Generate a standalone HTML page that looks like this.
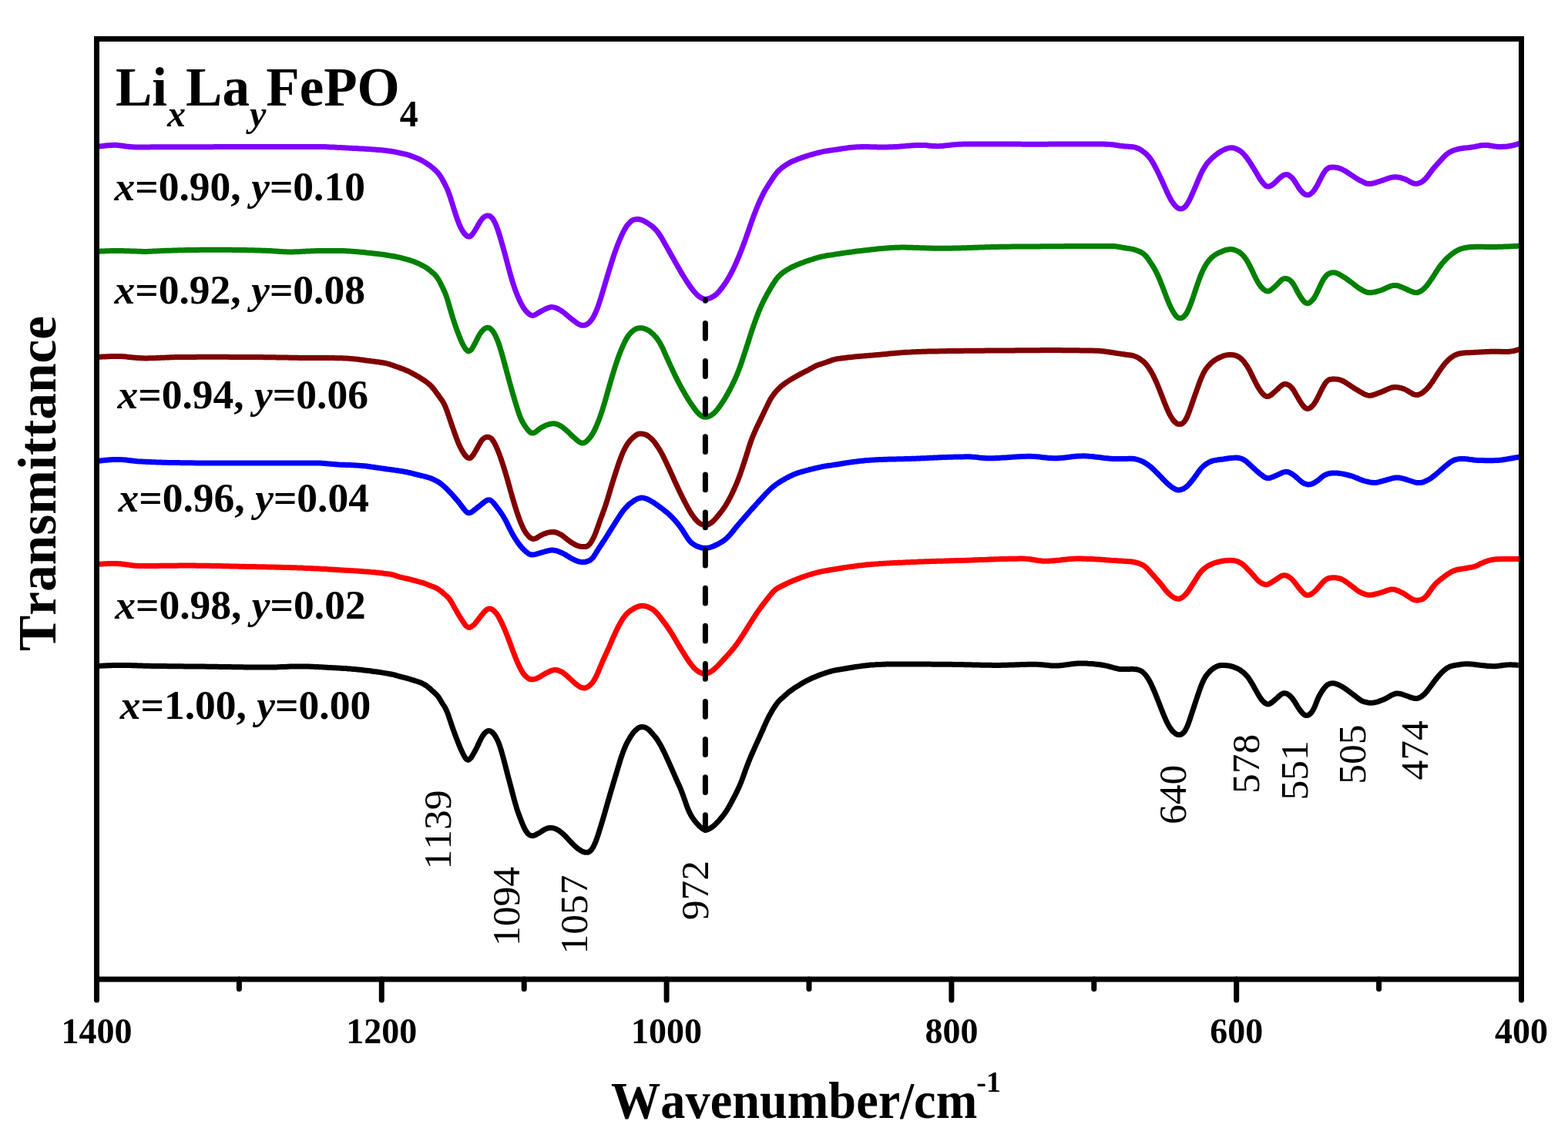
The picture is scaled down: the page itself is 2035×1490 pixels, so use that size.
<!DOCTYPE html><html><head><meta charset="utf-8"><style>html,body{margin:0;padding:0;background:#fff;}svg{display:block;}text{font-family:"Liberation Serif","Times New Roman",serif;font-kerning:none;}</style></head><body>
<svg xmlns="http://www.w3.org/2000/svg" width="2035" height="1490" viewBox="0 0 2035 1490">
<rect width="2035" height="1490" fill="#fff"/>
<path d="M124.8 190.3C125.8 190.2 126.8 190.2 127.8 190.1C128.8 190.0 129.8 189.9 130.8 189.8C131.8 189.7 132.8 189.5 133.8 189.4C134.8 189.3 135.8 189.2 136.8 189.1C137.8 189.0 138.8 188.9 139.8 188.8C140.8 188.7 141.8 188.6 142.8 188.6C143.8 188.5 144.8 188.4 145.8 188.4C146.8 188.4 147.8 188.3 148.8 188.3C149.8 188.3 150.8 188.4 151.8 188.4C152.8 188.5 153.8 188.6 154.8 188.7C155.8 188.8 156.8 188.9 157.8 189.1C158.8 189.2 159.8 189.4 160.8 189.5C161.8 189.7 162.8 189.8 163.8 189.9C164.8 190.1 165.8 190.2 166.8 190.3C167.8 190.5 168.8 190.6 169.8 190.6C170.8 190.7 171.8 190.8 172.8 190.8C173.8 190.9 174.8 190.9 175.8 190.9C176.8 191.0 177.8 191.0 178.8 191.0C179.8 191.0 180.8 191.0 181.8 191.0C182.8 191.0 183.8 191.0 184.8 191.0C185.8 191.0 186.8 191.0 187.8 191.0C188.8 191.0 189.8 190.9 190.8 190.9C191.8 190.9 192.8 190.9 193.8 190.9C194.8 190.9 195.8 190.9 196.8 190.8C197.8 190.8 198.8 190.8 199.8 190.8C200.8 190.8 201.8 190.8 202.8 190.8C203.8 190.8 204.8 190.8 205.8 190.8C206.8 190.8 207.8 190.8 208.8 190.8C209.8 190.8 210.8 190.8 211.8 190.8C212.8 190.8 213.8 190.8 214.8 190.8C215.8 190.8 216.8 190.8 217.8 190.8C218.8 190.8 219.8 190.8 220.8 190.8C221.8 190.8 222.8 190.8 223.8 190.8C224.8 190.8 225.8 190.8 226.8 190.8C227.8 190.8 228.8 190.8 229.8 190.8C230.8 190.7 231.8 190.7 232.8 190.7C233.8 190.7 234.8 190.7 235.8 190.7C236.8 190.7 237.8 190.7 238.8 190.7C239.8 190.7 240.8 190.7 241.8 190.7C242.8 190.7 243.8 190.7 244.8 190.7C245.8 190.7 246.8 190.7 247.8 190.7C248.8 190.7 249.8 190.7 250.8 190.7C251.8 190.7 252.8 190.7 253.8 190.7C254.8 190.7 255.8 190.7 256.8 190.7C257.8 190.7 258.8 190.7 259.8 190.7C260.8 190.7 261.8 190.7 262.8 190.7C263.8 190.7 264.8 190.7 265.8 190.7C266.8 190.7 267.8 190.7 268.8 190.7C269.8 190.7 270.8 190.7 271.8 190.7C272.8 190.7 273.8 190.7 274.8 190.7C275.8 190.7 276.8 190.6 277.8 190.6C278.8 190.6 279.8 190.6 280.8 190.6C281.8 190.6 282.8 190.6 283.8 190.6C284.8 190.6 285.8 190.6 286.8 190.6C287.8 190.6 288.8 190.6 289.8 190.6C290.8 190.6 291.8 190.6 292.8 190.6C293.8 190.6 294.8 190.6 295.8 190.6C296.8 190.6 297.8 190.6 298.8 190.6C299.8 190.6 300.8 190.6 301.8 190.6C302.8 190.6 303.8 190.6 304.8 190.6C305.8 190.6 306.8 190.6 307.8 190.6C308.8 190.6 309.8 190.6 310.8 190.6C311.8 190.6 312.8 190.6 313.8 190.6C314.8 190.6 315.8 190.6 316.8 190.6C317.8 190.6 318.8 190.6 319.8 190.6C320.8 190.6 321.8 190.6 322.8 190.5C323.8 190.5 324.8 190.5 325.8 190.5C326.8 190.5 327.8 190.5 328.8 190.5C329.8 190.5 330.8 190.5 331.8 190.5C332.8 190.5 333.8 190.5 334.8 190.5C335.8 190.5 336.8 190.5 337.8 190.5C338.8 190.5 339.8 190.5 340.8 190.5C341.8 190.5 342.8 190.5 343.8 190.5C344.8 190.5 345.8 190.5 346.8 190.5C347.8 190.5 348.8 190.5 349.8 190.5C350.8 190.5 351.8 190.5 352.8 190.5C353.8 190.5 354.8 190.5 355.8 190.5C356.8 190.5 357.8 190.5 358.8 190.5C359.8 190.5 360.8 190.5 361.8 190.5C362.8 190.5 363.8 190.5 364.8 190.5C365.8 190.4 366.8 190.4 367.8 190.4C368.8 190.4 369.8 190.4 370.8 190.4C371.8 190.4 372.8 190.4 373.8 190.4C374.8 190.4 375.8 190.4 376.8 190.4C377.8 190.4 378.8 190.4 379.8 190.4C380.8 190.4 381.8 190.4 382.8 190.4C383.8 190.4 384.8 190.4 385.8 190.4C386.8 190.4 387.8 190.4 388.8 190.4C389.8 190.4 390.8 190.4 391.8 190.4C392.8 190.4 393.8 190.4 394.8 190.4C395.8 190.4 396.8 190.4 397.8 190.4C398.8 190.4 399.8 190.4 400.8 190.4C401.8 190.4 402.8 190.4 403.8 190.4C404.8 190.4 405.8 190.4 406.8 190.4C407.8 190.4 408.8 190.4 409.8 190.4C410.8 190.4 411.8 190.4 412.8 190.4C413.8 190.4 414.8 190.5 415.8 190.5C416.8 190.5 417.8 190.5 418.8 190.5C419.8 190.6 420.8 190.6 421.8 190.6C422.8 190.7 423.8 190.7 424.8 190.7C425.8 190.8 426.8 190.8 427.8 190.9C428.8 190.9 429.8 191.0 430.8 191.0C431.8 191.0 432.8 191.1 433.8 191.1C434.8 191.2 435.8 191.2 436.8 191.3C437.8 191.4 438.8 191.4 439.8 191.5C440.8 191.5 441.8 191.6 442.8 191.6C443.8 191.7 444.8 191.7 445.8 191.8C446.8 191.8 447.8 191.9 448.8 191.9C449.8 192.0 450.8 192.0 451.8 192.1C452.8 192.1 453.8 192.2 454.8 192.2C455.8 192.3 456.8 192.3 457.8 192.4C458.8 192.4 459.8 192.5 460.8 192.5C461.8 192.6 462.8 192.6 463.8 192.7C464.8 192.8 465.8 192.8 466.8 192.9C467.8 192.9 468.8 193.0 469.8 193.0C470.8 193.1 471.8 193.1 472.8 193.2C473.8 193.3 474.8 193.3 475.8 193.4C476.8 193.5 477.8 193.5 478.8 193.6C479.8 193.6 480.8 193.7 481.8 193.8C482.8 193.9 483.8 193.9 484.8 194.0C485.8 194.1 486.8 194.1 487.8 194.2C488.8 194.3 489.8 194.4 490.8 194.4C491.8 194.5 492.8 194.6 493.8 194.7C494.8 194.8 495.8 194.9 496.8 195.0C497.8 195.1 498.8 195.2 499.8 195.3C500.8 195.4 501.8 195.6 502.8 195.7C503.8 195.8 504.8 195.9 505.8 196.1C506.8 196.2 507.8 196.3 508.8 196.5C509.8 196.6 510.8 196.8 511.8 197.0C512.8 197.2 513.8 197.4 514.8 197.6C515.8 197.8 516.8 198.1 517.8 198.3C518.8 198.6 519.8 198.8 520.8 199.0C521.8 199.2 522.8 199.4 523.8 199.6C524.8 199.8 525.8 200.0 526.8 200.2C527.8 200.5 528.8 200.8 529.8 201.1C530.8 201.4 531.8 201.7 532.8 202.1C533.8 202.4 534.8 202.8 535.8 203.2C536.8 203.6 537.8 204.0 538.8 204.4C539.8 204.8 540.8 205.2 541.8 205.6C542.8 206.1 543.8 206.5 544.8 207.0C545.8 207.5 546.8 208.0 547.8 208.6C548.8 209.1 549.8 209.7 550.8 210.3C551.8 210.9 552.8 211.5 553.8 212.2C554.8 212.8 555.8 213.5 556.8 214.2C557.8 214.9 558.8 215.7 559.8 216.5C560.8 217.2 561.8 218.0 562.8 218.9C563.8 219.7 564.8 220.6 565.8 221.6C566.8 222.7 567.8 223.7 568.8 225.0C569.8 226.2 570.8 227.6 571.8 229.1C572.8 230.7 573.8 232.5 574.8 234.3C575.8 236.1 576.8 238.0 577.8 240.0C578.8 242.0 579.8 243.8 580.8 246.2C581.8 248.7 582.8 251.5 583.8 254.4C584.8 257.3 585.8 260.7 586.8 263.8C587.8 267.0 588.8 270.3 589.8 273.4C590.8 276.5 591.8 279.6 592.8 282.5C593.8 285.4 594.8 288.2 595.8 290.6C596.8 293.1 597.8 295.2 598.8 297.1C599.8 299.0 600.8 300.5 601.8 301.9C602.8 303.3 603.8 304.5 604.8 305.4C605.8 306.3 606.8 307.1 607.8 307.1C608.8 307.1 609.8 307.0 610.8 306.4C611.8 305.7 612.8 304.4 613.8 303.1C614.8 301.8 615.8 300.1 616.8 298.5C617.8 296.9 618.8 295.2 619.8 293.4C620.8 291.7 621.8 289.8 622.8 288.2C623.8 286.6 624.8 285.1 625.8 284.0C626.8 282.8 627.8 281.9 628.8 281.3C629.8 280.6 630.8 279.9 631.8 279.9C632.8 279.9 633.8 279.8 634.8 280.1C635.8 280.5 636.8 281.1 637.8 282.0C638.8 283.0 639.8 284.2 640.8 285.9C641.8 287.6 642.8 289.8 643.8 292.2C644.8 294.7 645.8 297.6 646.8 300.5C647.8 303.5 648.8 306.8 649.8 310.2C650.8 313.6 651.8 317.1 652.8 320.7C653.8 324.3 654.8 328.0 655.8 331.6C656.8 335.3 657.8 339.1 658.8 342.9C659.8 346.6 660.8 350.4 661.8 354.0C662.8 357.6 663.8 361.1 664.8 364.4C665.8 367.7 666.8 370.8 667.8 373.7C668.8 376.6 669.8 379.3 670.8 381.8C671.8 384.3 672.8 386.6 673.8 388.8C674.8 391.0 675.8 393.1 676.8 394.9C677.8 396.8 678.8 398.5 679.8 400.0C680.8 401.4 681.8 402.7 682.8 403.8C683.8 405.0 684.8 406.0 685.8 406.8C686.8 407.7 687.8 408.4 688.8 408.8C689.8 409.3 690.8 409.4 691.8 409.4C692.8 409.4 693.8 408.9 694.8 408.4C695.8 407.9 696.8 407.2 697.8 406.6C698.8 406.0 699.8 405.3 700.8 404.8C701.8 404.2 702.8 403.7 703.8 403.2C704.8 402.6 705.8 402.1 706.8 401.6C707.8 401.1 708.8 400.6 709.8 400.2C710.8 399.8 711.8 399.4 712.8 399.1C713.8 398.9 714.8 398.6 715.8 398.6C716.8 398.6 717.8 398.7 718.8 398.9C719.8 399.1 720.8 399.4 721.8 399.8C722.8 400.2 723.8 400.7 724.8 401.2C725.8 401.8 726.8 402.3 727.8 403.0C728.8 403.6 729.8 404.3 730.8 405.0C731.8 405.7 732.8 406.5 733.8 407.4C734.8 408.2 735.8 409.0 736.8 409.9C737.8 410.7 738.8 411.5 739.8 412.4C740.8 413.2 741.8 414.0 742.8 414.8C743.8 415.6 744.8 416.4 745.8 417.1C746.8 417.9 747.8 418.6 748.8 419.3C749.8 420.0 750.8 420.7 751.8 421.1C752.8 421.6 753.8 422.0 754.8 422.2C755.8 422.3 756.8 422.2 757.8 422.2C758.8 422.2 759.8 421.9 760.8 421.4C761.8 420.9 762.8 420.3 763.8 419.5C764.8 418.6 765.8 417.5 766.8 416.3C767.8 415.0 768.8 413.6 769.8 411.9C770.8 410.2 771.8 408.2 772.8 406.0C773.8 403.8 774.8 401.3 775.8 398.6C776.8 395.9 777.8 392.9 778.8 389.8C779.8 386.8 780.8 383.4 781.8 380.1C782.8 376.8 783.8 373.4 784.8 370.0C785.8 366.6 786.8 363.2 787.8 359.9C788.8 356.5 789.8 353.2 790.8 349.9C791.8 346.7 792.8 343.4 793.8 340.3C794.8 337.1 795.8 334.0 796.8 331.1C797.8 328.1 798.8 325.3 799.8 322.6C800.8 319.9 801.8 317.3 802.8 314.8C803.8 312.4 804.8 309.9 805.8 307.7C806.8 305.4 807.8 303.2 808.8 301.2C809.8 299.2 810.8 297.4 811.8 295.8C812.8 294.2 813.8 292.8 814.8 291.6C815.8 290.3 816.8 289.2 817.8 288.3C818.8 287.3 819.8 286.6 820.8 286.0C821.8 285.4 822.8 285.1 823.8 284.9C824.8 284.6 825.8 284.6 826.8 284.6C827.8 284.6 828.8 284.6 829.8 284.7C830.8 284.9 831.8 285.1 832.8 285.5C833.8 285.8 834.8 286.3 835.8 286.8C836.8 287.3 837.8 288.0 838.8 288.6C839.8 289.2 840.8 289.8 841.8 290.5C842.8 291.2 843.8 291.9 844.8 292.6C845.8 293.4 846.8 294.2 847.8 295.1C848.8 295.9 849.8 296.9 850.8 297.9C851.8 299.0 852.8 300.1 853.8 301.5C854.8 302.8 855.8 304.2 856.8 305.8C857.8 307.3 858.8 309.1 859.8 310.8C860.8 312.5 861.8 314.3 862.8 316.1C863.8 317.9 864.8 319.6 865.8 321.4C866.8 323.2 867.8 324.9 868.8 326.7C869.8 328.4 870.8 330.2 871.8 332.0C872.8 333.8 873.8 335.5 874.8 337.3C875.8 339.1 876.8 340.8 877.8 342.6C878.8 344.3 879.8 346.1 880.8 347.8C881.8 349.6 882.8 351.3 883.8 353.1C884.8 354.8 885.8 356.5 886.8 358.1C887.8 359.8 888.8 361.4 889.8 362.9C890.8 364.5 891.8 366.0 892.8 367.5C893.8 369.0 894.8 370.5 895.8 371.9C896.8 373.3 897.8 374.6 898.8 375.9C899.8 377.2 900.8 378.4 901.8 379.5C902.8 380.6 903.8 381.7 904.8 382.6C905.8 383.5 906.8 384.4 907.8 385.1C908.8 385.8 909.8 386.5 910.8 387.0C911.8 387.5 912.8 387.9 913.8 388.1C914.8 388.3 915.8 388.2 916.8 388.2C917.8 388.2 918.8 387.8 919.8 387.5C920.8 387.2 921.8 386.8 922.8 386.3C923.8 385.9 924.8 385.4 925.8 384.8C926.8 384.2 927.8 383.6 928.8 382.7C929.8 381.9 930.8 380.9 931.8 379.8C932.8 378.8 933.8 377.5 934.8 376.3C935.8 375.1 936.8 373.8 937.8 372.5C938.8 371.1 939.8 369.7 940.8 368.2C941.8 366.8 942.8 365.2 943.8 363.6C944.8 362.0 945.8 360.3 946.8 358.5C947.8 356.7 948.8 354.8 949.8 352.9C950.8 350.9 951.8 348.8 952.8 346.7C953.8 344.6 954.8 342.4 955.8 340.1C956.8 337.9 957.8 335.6 958.8 333.2C959.8 330.8 960.8 328.3 961.8 325.7C962.8 323.2 963.8 320.5 964.8 317.8C965.8 315.1 966.8 312.3 967.8 309.6C968.8 306.8 969.8 303.9 970.8 301.1C971.8 298.2 972.8 295.3 973.8 292.4C974.8 289.6 975.8 286.7 976.8 284.0C977.8 281.3 978.8 278.6 979.8 276.0C980.8 273.5 981.8 270.9 982.8 268.5C983.8 266.1 984.8 263.7 985.8 261.4C986.8 259.2 987.8 257.0 988.8 254.9C989.8 252.9 990.8 251.0 991.8 249.1C992.8 247.3 993.8 245.6 994.8 244.0C995.8 242.3 996.8 240.8 997.8 239.2C998.8 237.6 999.8 236.1 1000.8 234.6C1001.8 233.0 1002.8 231.5 1003.8 230.0C1004.8 228.6 1005.8 227.1 1006.8 225.8C1007.8 224.5 1008.8 223.3 1009.8 222.3C1010.8 221.2 1011.8 220.4 1012.8 219.5C1013.8 218.6 1014.8 217.9 1015.8 217.1C1016.8 216.3 1017.8 215.6 1018.8 214.9C1019.8 214.2 1020.8 213.5 1021.8 212.9C1022.8 212.3 1023.8 211.8 1024.8 211.2C1025.8 210.7 1026.8 210.2 1027.8 209.7C1028.8 209.3 1029.8 208.8 1030.8 208.4C1031.8 208.0 1032.8 207.6 1033.8 207.2C1034.8 206.8 1035.8 206.4 1036.8 206.0C1037.8 205.6 1038.8 205.3 1039.8 204.9C1040.8 204.6 1041.8 204.2 1042.8 203.9C1043.8 203.5 1044.8 203.2 1045.8 202.9C1046.8 202.6 1047.8 202.2 1048.8 201.9C1049.8 201.6 1050.8 201.3 1051.8 201.0C1052.8 200.7 1053.8 200.4 1054.8 200.2C1055.8 199.9 1056.8 199.6 1057.8 199.3C1058.8 199.1 1059.8 198.8 1060.8 198.5C1061.8 198.3 1062.8 198.0 1063.8 197.8C1064.8 197.5 1065.8 197.3 1066.8 197.1C1067.8 196.8 1068.8 196.6 1069.8 196.4C1070.8 196.2 1071.8 196.1 1072.8 195.9C1073.8 195.8 1074.8 195.6 1075.8 195.5C1076.8 195.4 1077.8 195.2 1078.8 195.1C1079.8 194.9 1080.8 194.8 1081.8 194.6C1082.8 194.5 1083.8 194.3 1084.8 194.2C1085.8 194.0 1086.8 193.8 1087.8 193.7C1088.8 193.5 1089.8 193.4 1090.8 193.2C1091.8 193.1 1092.8 192.9 1093.8 192.8C1094.8 192.6 1095.8 192.5 1096.8 192.4C1097.8 192.2 1098.8 192.1 1099.8 192.0C1100.8 191.8 1101.8 191.7 1102.8 191.6C1103.8 191.5 1104.8 191.4 1105.8 191.3C1106.8 191.2 1107.8 191.1 1108.8 191.0C1109.8 191.0 1110.8 190.9 1111.8 190.8C1112.8 190.8 1113.8 190.7 1114.8 190.7C1115.8 190.7 1116.8 190.7 1117.8 190.6C1118.8 190.6 1119.8 190.6 1120.8 190.6C1121.8 190.6 1122.8 190.6 1123.8 190.6C1124.8 190.6 1125.8 190.6 1126.8 190.6C1127.8 190.7 1128.8 190.7 1129.8 190.7C1130.8 190.7 1131.8 190.7 1132.8 190.8C1133.8 190.8 1134.8 190.8 1135.8 190.8C1136.8 190.8 1137.8 190.9 1138.8 190.9C1139.8 190.9 1140.8 190.9 1141.8 190.9C1142.8 191.0 1143.8 191.0 1144.8 191.0C1145.8 191.0 1146.8 191.0 1147.8 191.0C1148.8 191.0 1149.8 190.9 1150.8 190.9C1151.8 190.9 1152.8 190.9 1153.8 190.8C1154.8 190.8 1155.8 190.8 1156.8 190.7C1157.8 190.7 1158.8 190.6 1159.8 190.6C1160.8 190.5 1161.8 190.4 1162.8 190.4C1163.8 190.3 1164.8 190.2 1165.8 190.2C1166.8 190.1 1167.8 190.0 1168.8 189.9C1169.8 189.9 1170.8 189.8 1171.8 189.7C1172.8 189.6 1173.8 189.5 1174.8 189.5C1175.8 189.4 1176.8 189.3 1177.8 189.2C1178.8 189.2 1179.8 189.1 1180.8 189.0C1181.8 189.0 1182.8 188.9 1183.8 188.8C1184.8 188.8 1185.8 188.7 1186.8 188.7C1187.8 188.6 1188.8 188.6 1189.8 188.5C1190.8 188.5 1191.8 188.5 1192.8 188.5C1193.8 188.4 1194.8 188.4 1195.8 188.4C1196.8 188.4 1197.8 188.4 1198.8 188.5C1199.8 188.5 1200.8 188.6 1201.8 188.6C1202.8 188.7 1203.8 188.8 1204.8 188.9C1205.8 189.0 1206.8 189.1 1207.8 189.2C1208.8 189.3 1209.8 189.4 1210.8 189.4C1211.8 189.5 1212.8 189.6 1213.8 189.6C1214.8 189.6 1215.8 189.7 1216.8 189.7C1217.8 189.7 1218.8 189.6 1219.8 189.6C1220.8 189.5 1221.8 189.5 1222.8 189.4C1223.8 189.3 1224.8 189.2 1225.8 189.1C1226.8 189.0 1227.8 188.9 1228.8 188.8C1229.8 188.7 1230.8 188.5 1231.8 188.4C1232.8 188.3 1233.8 188.2 1234.8 188.1C1235.8 188.0 1236.8 187.8 1237.8 187.7C1238.8 187.6 1239.8 187.5 1240.8 187.5C1241.8 187.4 1242.8 187.3 1243.8 187.3C1244.8 187.2 1245.8 187.2 1246.8 187.2C1247.8 187.2 1248.8 187.1 1249.8 187.1C1250.8 187.1 1251.8 187.1 1252.8 187.1C1253.8 187.1 1254.8 187.1 1255.8 187.0C1256.8 187.0 1257.8 187.0 1258.8 187.0C1259.8 187.0 1260.8 187.0 1261.8 187.0C1262.8 187.0 1263.8 187.0 1264.8 187.0C1265.8 187.0 1266.8 186.9 1267.8 186.9C1268.8 186.9 1269.8 186.9 1270.8 186.9C1271.8 186.9 1272.8 186.9 1273.8 186.9C1274.8 186.9 1275.8 186.9 1276.8 186.9C1277.8 186.9 1278.8 186.9 1279.8 186.9C1280.8 186.9 1281.8 186.9 1282.8 186.9C1283.8 186.9 1284.8 186.9 1285.8 186.9C1286.8 186.9 1287.8 186.9 1288.8 186.9C1289.8 186.9 1290.8 186.9 1291.8 186.9C1292.8 187.0 1293.8 187.0 1294.8 187.0C1295.8 187.0 1296.8 187.0 1297.8 187.0C1298.8 187.0 1299.8 187.0 1300.8 187.0C1301.8 187.0 1302.8 187.0 1303.8 187.0C1304.8 187.0 1305.8 187.0 1306.8 187.0C1307.8 187.0 1308.8 187.0 1309.8 187.0C1310.8 187.1 1311.8 187.1 1312.8 187.1C1313.8 187.1 1314.8 187.1 1315.8 187.1C1316.8 187.1 1317.8 187.1 1318.8 187.1C1319.8 187.1 1320.8 187.1 1321.8 187.1C1322.8 187.1 1323.8 187.1 1324.8 187.1C1325.8 187.1 1326.8 187.2 1327.8 187.2C1328.8 187.2 1329.8 187.2 1330.8 187.2C1331.8 187.2 1332.8 187.2 1333.8 187.2C1334.8 187.2 1335.8 187.2 1336.8 187.2C1337.8 187.2 1338.8 187.2 1339.8 187.2C1340.8 187.2 1341.8 187.2 1342.8 187.2C1343.8 187.2 1344.8 187.2 1345.8 187.2C1346.8 187.2 1347.8 187.2 1348.8 187.2C1349.8 187.2 1350.8 187.2 1351.8 187.2C1352.8 187.2 1353.8 187.2 1354.8 187.2C1355.8 187.2 1356.8 187.2 1357.8 187.2C1358.8 187.2 1359.8 187.1 1360.8 187.1C1361.8 187.1 1362.8 187.1 1363.8 187.1C1364.8 187.1 1365.8 187.1 1366.8 187.1C1367.8 187.1 1368.8 187.1 1369.8 187.1C1370.8 187.1 1371.8 187.1 1372.8 187.1C1373.8 187.0 1374.8 187.0 1375.8 187.0C1376.8 187.0 1377.8 187.0 1378.8 187.0C1379.8 187.0 1380.8 187.0 1381.8 187.0C1382.8 187.0 1383.8 187.0 1384.8 187.0C1385.8 187.0 1386.8 186.9 1387.8 186.9C1388.8 186.9 1389.8 186.9 1390.8 186.9C1391.8 186.9 1392.8 186.9 1393.8 186.9C1394.8 186.9 1395.8 186.9 1396.8 186.9C1397.8 186.9 1398.8 186.9 1399.8 186.9C1400.8 186.9 1401.8 186.9 1402.8 186.9C1403.8 186.9 1404.8 186.9 1405.8 186.9C1406.8 186.9 1407.8 186.9 1408.8 186.9C1409.8 186.9 1410.8 186.9 1411.8 186.9C1412.8 186.9 1413.8 186.9 1414.8 186.9C1415.8 186.9 1416.8 186.9 1417.8 186.9C1418.8 186.9 1419.8 186.9 1420.8 186.9C1421.8 186.9 1422.8 187.0 1423.8 187.0C1424.8 187.0 1425.8 187.0 1426.8 187.0C1427.8 187.0 1428.8 187.0 1429.8 187.0C1430.8 187.1 1431.8 187.1 1432.8 187.1C1433.8 187.1 1434.8 187.1 1435.8 187.2C1436.8 187.2 1437.8 187.2 1438.8 187.3C1439.8 187.3 1440.8 187.4 1441.8 187.5C1442.8 187.6 1443.8 187.7 1444.8 187.8C1445.8 188.0 1446.8 188.1 1447.8 188.2C1448.8 188.4 1449.8 188.5 1450.8 188.7C1451.8 188.9 1452.8 189.0 1453.8 189.2C1454.8 189.3 1455.8 189.5 1456.8 189.6C1457.8 189.7 1458.8 189.8 1459.8 189.9C1460.8 190.0 1461.8 190.1 1462.8 190.1C1463.8 190.2 1464.8 190.2 1465.8 190.3C1466.8 190.3 1467.8 190.3 1468.8 190.4C1469.8 190.5 1470.8 190.7 1471.8 190.9C1472.8 191.1 1473.8 191.4 1474.8 191.8C1475.8 192.1 1476.8 192.6 1477.8 193.0C1478.8 193.5 1479.8 194.1 1480.8 194.7C1481.8 195.4 1482.8 196.0 1483.8 196.8C1484.8 197.5 1485.8 198.3 1486.8 199.2C1487.8 200.1 1488.8 201.1 1489.8 202.2C1490.8 203.3 1491.8 204.5 1492.8 205.8C1493.8 207.2 1494.8 208.7 1495.8 210.4C1496.8 212.0 1497.8 213.8 1498.8 215.7C1499.8 217.5 1500.8 219.5 1501.8 221.5C1502.8 223.5 1503.8 225.6 1504.8 227.7C1505.8 229.8 1506.8 232.0 1507.8 234.1C1508.8 236.3 1509.8 238.6 1510.8 240.8C1511.8 243.0 1512.8 245.3 1513.8 247.5C1514.8 249.7 1515.8 251.9 1516.8 253.9C1517.8 255.9 1518.8 257.7 1519.8 259.4C1520.8 261.1 1521.8 262.7 1522.8 264.0C1523.8 265.4 1524.8 266.6 1525.8 267.6C1526.8 268.6 1527.8 269.5 1528.8 270.1C1529.8 270.7 1530.8 271.1 1531.8 271.1C1532.8 271.1 1533.8 271.0 1534.8 270.6C1535.8 270.2 1536.8 269.5 1537.8 268.6C1538.8 267.6 1539.8 266.3 1540.8 264.8C1541.8 263.3 1542.8 261.3 1543.8 259.4C1544.8 257.4 1545.8 255.2 1546.8 253.0C1547.8 250.8 1548.8 248.5 1549.8 246.2C1550.8 243.8 1551.8 241.4 1552.8 239.0C1553.8 236.7 1554.8 234.3 1555.8 232.0C1556.8 229.7 1557.8 227.4 1558.8 225.3C1559.8 223.2 1560.8 221.2 1561.8 219.4C1562.8 217.7 1563.8 216.1 1564.8 214.7C1565.8 213.2 1566.8 212.0 1567.8 210.7C1568.8 209.5 1569.8 208.4 1570.8 207.4C1571.8 206.4 1572.8 205.4 1573.8 204.5C1574.8 203.5 1575.8 202.7 1576.8 201.9C1577.8 201.1 1578.8 200.3 1579.8 199.6C1580.8 198.9 1581.8 198.2 1582.8 197.6C1583.8 196.9 1584.8 196.4 1585.8 195.8C1586.8 195.3 1587.8 194.7 1588.8 194.3C1589.8 193.8 1590.8 193.4 1591.8 193.0C1592.8 192.6 1593.8 192.3 1594.8 192.1C1595.8 191.9 1596.8 191.8 1597.8 191.8C1598.8 191.8 1599.8 191.9 1600.8 192.0C1601.8 192.2 1602.8 192.5 1603.8 192.9C1604.8 193.3 1605.8 193.8 1606.8 194.3C1607.8 194.8 1608.8 195.4 1609.8 196.2C1610.8 196.9 1611.8 197.7 1612.8 198.6C1613.8 199.6 1614.8 200.7 1615.8 201.9C1616.8 203.1 1617.8 204.4 1618.8 205.8C1619.8 207.1 1620.8 208.6 1621.8 210.1C1622.8 211.6 1623.8 213.2 1624.8 214.8C1625.8 216.4 1626.8 218.0 1627.8 219.7C1628.8 221.4 1629.8 223.1 1630.8 224.8C1631.8 226.5 1632.8 228.2 1633.8 229.8C1634.8 231.4 1635.8 233.0 1636.8 234.4C1637.8 235.8 1638.8 237.1 1639.8 238.3C1640.8 239.4 1641.8 240.5 1642.8 241.1C1643.8 241.8 1644.8 242.1 1645.8 242.1C1646.8 242.1 1647.8 241.8 1648.8 241.3C1649.8 240.9 1650.8 240.1 1651.8 239.4C1652.8 238.7 1653.8 237.8 1654.8 236.9C1655.8 236.0 1656.8 235.0 1657.8 234.0C1658.8 233.0 1659.8 231.9 1660.8 231.1C1661.8 230.2 1662.8 229.3 1663.8 228.7C1664.8 228.0 1665.8 227.4 1666.8 227.0C1667.8 226.7 1668.8 226.6 1669.8 226.6C1670.8 226.6 1671.8 227.0 1672.8 227.5C1673.8 228.1 1674.8 228.9 1675.8 229.8C1676.8 230.8 1677.8 231.9 1678.8 233.2C1679.8 234.5 1680.8 236.1 1681.8 237.6C1682.8 239.1 1683.8 240.9 1684.8 242.5C1685.8 244.0 1686.8 245.5 1687.8 246.7C1688.8 248.0 1689.8 249.1 1690.8 250.1C1691.8 251.0 1692.8 251.8 1693.8 252.4C1694.8 252.9 1695.8 253.1 1696.8 253.1C1697.8 253.1 1698.8 252.8 1699.8 252.3C1700.8 251.8 1701.8 251.1 1702.8 250.1C1703.8 249.2 1704.8 248.1 1705.8 246.7C1706.8 245.3 1707.8 243.6 1708.8 241.8C1709.8 240.1 1710.8 238.0 1711.8 236.1C1712.8 234.2 1713.8 232.2 1714.8 230.3C1715.8 228.4 1716.8 226.4 1717.8 224.8C1718.8 223.2 1719.8 221.7 1720.8 220.6C1721.8 219.5 1722.8 218.8 1723.8 218.3C1724.8 217.7 1725.8 217.5 1726.8 217.3C1727.8 217.1 1728.8 217.1 1729.8 217.1C1730.8 217.1 1731.8 217.1 1732.8 217.2C1733.8 217.3 1734.8 217.5 1735.8 217.7C1736.8 218.0 1737.8 218.3 1738.8 218.6C1739.8 219.0 1740.8 219.4 1741.8 219.8C1742.8 220.3 1743.8 220.8 1744.8 221.4C1745.8 221.9 1746.8 222.6 1747.8 223.2C1748.8 223.9 1749.8 224.5 1750.8 225.2C1751.8 225.9 1752.8 226.5 1753.8 227.2C1754.8 227.8 1755.8 228.5 1756.8 229.1C1757.8 229.8 1758.8 230.5 1759.8 231.1C1760.8 231.7 1761.8 232.3 1762.8 232.9C1763.8 233.5 1764.8 234.0 1765.8 234.5C1766.8 235.0 1767.8 235.6 1768.8 236.1C1769.8 236.5 1770.8 237.0 1771.8 237.4C1772.8 237.8 1773.8 238.1 1774.8 238.3C1775.8 238.5 1776.8 238.5 1777.8 238.5C1778.8 238.5 1779.8 238.3 1780.8 238.2C1781.8 238.0 1782.8 237.7 1783.8 237.4C1784.8 237.2 1785.8 236.8 1786.8 236.5C1787.8 236.2 1788.8 235.9 1789.8 235.6C1790.8 235.3 1791.8 235.0 1792.8 234.6C1793.8 234.3 1794.8 233.9 1795.8 233.6C1796.8 233.2 1797.8 232.9 1798.8 232.5C1799.8 232.1 1800.8 231.8 1801.8 231.4C1802.8 231.1 1803.8 230.8 1804.8 230.5C1805.8 230.3 1806.8 230.1 1807.8 229.9C1808.8 229.8 1809.8 229.7 1810.8 229.7C1811.8 229.7 1812.8 229.8 1813.8 229.9C1814.8 230.1 1815.8 230.3 1816.8 230.5C1817.8 230.7 1818.8 231.0 1819.8 231.3C1820.8 231.6 1821.8 232.0 1822.8 232.3C1823.8 232.7 1824.8 233.2 1825.8 233.7C1826.8 234.2 1827.8 234.7 1828.8 235.3C1829.8 235.8 1830.8 236.4 1831.8 236.9C1832.8 237.4 1833.8 237.8 1834.8 238.1C1835.8 238.3 1836.8 238.5 1837.8 238.5C1838.8 238.5 1839.8 238.3 1840.8 238.0C1841.8 237.7 1842.8 237.3 1843.8 236.8C1844.8 236.3 1845.8 235.7 1846.8 234.9C1847.8 234.2 1848.8 233.3 1849.8 232.3C1850.8 231.2 1851.8 229.9 1852.8 228.7C1853.8 227.4 1854.8 225.9 1855.8 224.6C1856.8 223.3 1857.8 221.9 1858.8 220.7C1859.8 219.4 1860.8 218.2 1861.8 217.1C1862.8 215.9 1863.8 214.8 1864.8 213.6C1865.8 212.5 1866.8 211.4 1867.8 210.3C1868.8 209.2 1869.8 208.1 1870.8 207.0C1871.8 206.0 1872.8 204.8 1873.8 203.8C1874.8 202.8 1875.8 201.8 1876.8 200.9C1877.8 200.1 1878.8 199.3 1879.8 198.6C1880.8 198.0 1881.8 197.4 1882.8 196.9C1883.8 196.4 1884.8 195.9 1885.8 195.5C1886.8 195.1 1887.8 194.8 1888.8 194.5C1889.8 194.2 1890.8 193.9 1891.8 193.6C1892.8 193.4 1893.8 193.1 1894.8 192.9C1895.8 192.7 1896.8 192.5 1897.8 192.4C1898.8 192.3 1899.8 192.1 1900.8 192.0C1901.8 191.9 1902.8 191.8 1903.8 191.8C1904.8 191.7 1905.8 191.6 1906.8 191.5C1907.8 191.4 1908.8 191.2 1909.8 191.1C1910.8 191.0 1911.8 190.8 1912.8 190.6C1913.8 190.4 1914.8 190.2 1915.8 190.0C1916.8 189.8 1917.8 189.5 1918.8 189.4C1919.8 189.2 1920.8 189.0 1921.8 188.8C1922.8 188.7 1923.8 188.5 1924.8 188.5C1925.8 188.4 1926.8 188.4 1927.8 188.4C1928.8 188.4 1929.8 188.5 1930.8 188.6C1931.8 188.7 1932.8 188.9 1933.8 189.0C1934.8 189.1 1935.8 189.3 1936.8 189.5C1937.8 189.6 1938.8 189.8 1939.8 189.9C1940.8 190.1 1941.8 190.2 1942.8 190.2C1943.8 190.3 1944.8 190.4 1945.8 190.4C1946.8 190.4 1947.8 190.4 1948.8 190.4C1949.8 190.4 1950.8 190.4 1951.8 190.3C1952.8 190.3 1953.8 190.2 1954.8 190.2C1955.8 190.1 1956.8 190.0 1957.8 189.8C1958.8 189.7 1959.8 189.5 1960.8 189.3C1961.8 189.1 1962.8 188.9 1963.8 188.6C1964.8 188.4 1965.8 188.1 1966.8 187.8C1967.8 187.5 1968.8 187.2 1969.8 186.9C1970.8 186.6 1971.8 186.3 1972.8 186.1C1973.3 186.0 1973.8 185.9 1974.3 185.8" fill="none" stroke="#8000FF" stroke-width="7" stroke-linejoin="round" stroke-linecap="butt"/>
<path d="M124.8 326.4C125.8 326.3 126.8 326.3 127.8 326.3C128.8 326.2 129.8 326.2 130.8 326.1C131.8 326.1 132.8 326.0 133.8 326.0C134.8 325.9 135.8 325.9 136.8 325.8C137.8 325.8 138.8 325.7 139.8 325.7C140.8 325.6 141.8 325.6 142.8 325.6C143.8 325.5 144.8 325.5 145.8 325.5C146.8 325.5 147.8 325.4 148.8 325.4C149.8 325.4 150.8 325.4 151.8 325.4C152.8 325.4 153.8 325.4 154.8 325.4C155.8 325.5 156.8 325.5 157.8 325.5C158.8 325.5 159.8 325.5 160.8 325.6C161.8 325.6 162.8 325.6 163.8 325.7C164.8 325.7 165.8 325.8 166.8 325.8C167.8 325.8 168.8 325.9 169.8 325.9C170.8 325.9 171.8 326.0 172.8 326.0C173.8 326.1 174.8 326.1 175.8 326.1C176.8 326.2 177.8 326.2 178.8 326.2C179.8 326.3 180.8 326.3 181.8 326.3C182.8 326.3 183.8 326.4 184.8 326.4C185.8 326.4 186.8 326.4 187.8 326.4C188.8 326.4 189.8 326.4 190.8 326.4C191.8 326.3 192.8 326.3 193.8 326.3C194.8 326.3 195.8 326.2 196.8 326.2C197.8 326.1 198.8 326.1 199.8 326.0C200.8 326.0 201.8 325.9 202.8 325.9C203.8 325.8 204.8 325.8 205.8 325.7C206.8 325.7 207.8 325.6 208.8 325.6C209.8 325.5 210.8 325.5 211.8 325.4C212.8 325.4 213.8 325.4 214.8 325.3C215.8 325.3 216.8 325.3 217.8 325.3C218.8 325.2 219.8 325.2 220.8 325.2C221.8 325.1 222.8 325.1 223.8 325.1C224.8 325.0 225.8 325.0 226.8 325.0C227.8 325.0 228.8 324.9 229.8 324.9C230.8 324.9 231.8 324.8 232.8 324.8C233.8 324.8 234.8 324.8 235.8 324.7C236.8 324.7 237.8 324.7 238.8 324.7C239.8 324.6 240.8 324.6 241.8 324.6C242.8 324.6 243.8 324.6 244.8 324.5C245.8 324.5 246.8 324.5 247.8 324.5C248.8 324.5 249.8 324.5 250.8 324.4C251.8 324.4 252.8 324.4 253.8 324.4C254.8 324.4 255.8 324.4 256.8 324.4C257.8 324.4 258.8 324.4 259.8 324.3C260.8 324.3 261.8 324.3 262.8 324.3C263.8 324.3 264.8 324.3 265.8 324.3C266.8 324.3 267.8 324.3 268.8 324.3C269.8 324.3 270.8 324.3 271.8 324.3C272.8 324.3 273.8 324.3 274.8 324.3C275.8 324.3 276.8 324.3 277.8 324.3C278.8 324.3 279.8 324.3 280.8 324.3C281.8 324.3 282.8 324.3 283.8 324.3C284.8 324.3 285.8 324.3 286.8 324.3C287.8 324.3 288.8 324.3 289.8 324.3C290.8 324.3 291.8 324.3 292.8 324.3C293.8 324.3 294.8 324.3 295.8 324.3C296.8 324.3 297.8 324.3 298.8 324.3C299.8 324.3 300.8 324.4 301.8 324.4C302.8 324.4 303.8 324.4 304.8 324.4C305.8 324.4 306.8 324.4 307.8 324.4C308.8 324.4 309.8 324.5 310.8 324.5C311.8 324.5 312.8 324.5 313.8 324.5C314.8 324.5 315.8 324.5 316.8 324.6C317.8 324.6 318.8 324.6 319.8 324.6C320.8 324.6 321.8 324.7 322.8 324.7C323.8 324.7 324.8 324.7 325.8 324.8C326.8 324.8 327.8 324.8 328.8 324.8C329.8 324.9 330.8 324.9 331.8 324.9C332.8 324.9 333.8 325.0 334.8 325.0C335.8 325.0 336.8 325.1 337.8 325.1C338.8 325.1 339.8 325.2 340.8 325.2C341.8 325.2 342.8 325.3 343.8 325.3C344.8 325.3 345.8 325.4 346.8 325.4C347.8 325.4 348.8 325.5 349.8 325.5C350.8 325.6 351.8 325.6 352.8 325.7C353.8 325.8 354.8 325.8 355.8 325.9C356.8 326.0 357.8 326.0 358.8 326.1C359.8 326.2 360.8 326.2 361.8 326.3C362.8 326.4 363.8 326.4 364.8 326.5C365.8 326.6 366.8 326.6 367.8 326.7C368.8 326.7 369.8 326.8 370.8 326.8C371.8 326.8 372.8 326.8 373.8 326.9C374.8 326.9 375.8 326.9 376.8 326.9C377.8 326.9 378.8 326.9 379.8 326.9C380.8 326.8 381.8 326.8 382.8 326.8C383.8 326.8 384.8 326.7 385.8 326.7C386.8 326.7 387.8 326.6 388.8 326.6C389.8 326.5 390.8 326.5 391.8 326.4C392.8 326.4 393.8 326.3 394.8 326.3C395.8 326.2 396.8 326.2 397.8 326.1C398.8 326.1 399.8 326.0 400.8 326.0C401.8 325.9 402.8 325.9 403.8 325.8C404.8 325.8 405.8 325.7 406.8 325.7C407.8 325.7 408.8 325.6 409.8 325.6C410.8 325.6 411.8 325.5 412.8 325.5C413.8 325.5 414.8 325.5 415.8 325.4C416.8 325.4 417.8 325.4 418.8 325.4C419.8 325.4 420.8 325.4 421.8 325.4C422.8 325.4 423.8 325.4 424.8 325.4C425.8 325.4 426.8 325.4 427.8 325.4C428.8 325.4 429.8 325.4 430.8 325.4C431.8 325.4 432.8 325.4 433.8 325.4C434.8 325.4 435.8 325.4 436.8 325.4C437.8 325.4 438.8 325.5 439.8 325.5C440.8 325.5 441.8 325.5 442.8 325.5C443.8 325.6 444.8 325.6 445.8 325.6C446.8 325.7 447.8 325.7 448.8 325.7C449.8 325.8 450.8 325.8 451.8 325.9C452.8 325.9 453.8 326.0 454.8 326.1C455.8 326.1 456.8 326.2 457.8 326.3C458.8 326.4 459.8 326.4 460.8 326.5C461.8 326.6 462.8 326.7 463.8 326.8C464.8 326.9 465.8 327.0 466.8 327.1C467.8 327.2 468.8 327.3 469.8 327.3C470.8 327.4 471.8 327.5 472.8 327.6C473.8 327.7 474.8 327.8 475.8 328.0C476.8 328.1 477.8 328.2 478.8 328.3C479.8 328.4 480.8 328.5 481.8 328.6C482.8 328.7 483.8 328.8 484.8 328.9C485.8 329.0 486.8 329.1 487.8 329.2C488.8 329.3 489.8 329.4 490.8 329.5C491.8 329.7 492.8 329.8 493.8 329.9C494.8 330.0 495.8 330.2 496.8 330.3C497.8 330.4 498.8 330.6 499.8 330.7C500.8 330.9 501.8 331.0 502.8 331.2C503.8 331.3 504.8 331.5 505.8 331.7C506.8 331.8 507.8 332.0 508.8 332.2C509.8 332.4 510.8 332.6 511.8 332.8C512.8 333.0 513.8 333.2 514.8 333.4C515.8 333.6 516.8 333.8 517.8 334.0C518.8 334.3 519.8 334.5 520.8 334.7C521.8 335.0 522.8 335.2 523.8 335.5C524.8 335.8 525.8 336.0 526.8 336.3C527.8 336.6 528.8 336.9 529.8 337.2C530.8 337.5 531.8 337.7 532.8 338.1C533.8 338.4 534.8 338.7 535.8 339.0C536.8 339.4 537.8 339.8 538.8 340.2C539.8 340.6 540.8 341.0 541.8 341.4C542.8 341.9 543.8 342.3 544.8 342.8C545.8 343.3 546.8 343.8 547.8 344.3C548.8 344.8 549.8 345.3 550.8 345.9C551.8 346.5 552.8 347.2 553.8 347.8C554.8 348.5 555.8 349.3 556.8 350.0C557.8 350.8 558.8 351.6 559.8 352.4C560.8 353.2 561.8 354.1 562.8 355.0C563.8 356.0 564.8 356.9 565.8 358.1C566.8 359.4 567.8 360.7 568.8 362.4C569.8 364.0 570.8 366.0 571.8 367.9C572.8 369.9 573.8 372.0 574.8 374.1C575.8 376.2 576.8 378.0 577.8 380.5C578.8 383.0 579.8 386.0 580.8 389.2C581.8 392.4 582.8 396.1 583.8 399.6C584.8 403.0 585.8 406.5 586.8 409.8C587.8 413.1 588.8 416.2 589.8 419.2C590.8 422.2 591.8 425.0 592.8 427.8C593.8 430.5 594.8 433.2 595.8 435.7C596.8 438.3 597.8 440.8 598.8 443.0C599.8 445.3 600.8 447.4 601.8 449.1C602.8 450.9 603.8 452.5 604.8 453.7C605.8 454.8 606.8 455.9 607.8 455.9C608.8 455.9 609.8 455.6 610.8 454.7C611.8 453.8 612.8 452.2 613.8 450.6C614.8 448.9 615.8 446.9 616.8 445.0C617.8 443.1 618.8 440.9 619.8 439.0C620.8 437.1 621.8 435.1 622.8 433.5C623.8 431.9 624.8 430.6 625.8 429.5C626.8 428.4 627.8 427.4 628.8 426.7C629.8 426.1 630.8 425.3 631.8 425.3C632.8 425.3 633.8 425.2 634.8 425.6C635.8 426.0 636.8 426.8 637.8 427.8C638.8 428.8 639.8 430.1 640.8 431.7C641.8 433.3 642.8 435.2 643.8 437.4C644.8 439.6 645.8 442.0 646.8 444.8C647.8 447.5 648.8 450.7 649.8 453.9C650.8 457.2 651.8 460.8 652.8 464.4C653.8 468.0 654.8 471.8 655.8 475.5C656.8 479.2 657.8 483.0 658.8 486.7C659.8 490.4 660.8 494.1 661.8 497.7C662.8 501.4 663.8 504.9 664.8 508.4C665.8 511.9 666.8 515.3 667.8 518.7C668.8 522.1 669.8 525.4 670.8 528.6C671.8 531.8 672.8 535.0 673.8 537.7C674.8 540.5 675.8 542.9 676.8 545.0C677.8 547.2 678.8 548.9 679.8 550.5C680.8 552.2 681.8 553.6 682.8 555.0C683.8 556.4 684.8 557.8 685.8 558.9C686.8 560.0 687.8 561.0 688.8 561.6C689.8 562.1 690.8 562.1 691.8 562.1C692.8 562.1 693.8 561.4 694.8 560.8C695.8 560.2 696.8 559.3 697.8 558.6C698.8 557.8 699.8 556.9 700.8 556.2C701.8 555.5 702.8 554.9 703.8 554.3C704.8 553.8 705.8 553.3 706.8 552.8C707.8 552.4 708.8 552.0 709.8 551.6C710.8 551.2 711.8 550.8 712.8 550.5C713.8 550.3 714.8 550.0 715.8 549.9C716.8 549.7 717.8 549.7 718.8 549.7C719.8 549.7 720.8 549.9 721.8 550.2C722.8 550.5 723.8 550.9 724.8 551.4C725.8 551.9 726.8 552.4 727.8 553.1C728.8 553.7 729.8 554.3 730.8 555.1C731.8 555.8 732.8 556.6 733.8 557.5C734.8 558.3 735.8 559.3 736.8 560.2C737.8 561.1 738.8 562.1 739.8 563.1C740.8 564.0 741.8 564.9 742.8 565.8C743.8 566.7 744.8 567.6 745.8 568.6C746.8 569.5 747.8 570.5 748.8 571.3C749.8 572.1 750.8 573.0 751.8 573.6C752.8 574.2 753.8 574.9 754.8 574.9C755.8 574.9 756.8 575.1 757.8 574.8C758.8 574.4 759.8 573.8 760.8 573.1C761.8 572.3 762.8 571.3 763.8 570.2C764.8 569.1 765.8 567.8 766.8 566.4C767.8 565.0 768.8 563.5 769.8 561.7C770.8 560.0 771.8 558.0 772.8 555.8C773.8 553.7 774.8 551.3 775.8 548.8C776.8 546.4 777.8 543.7 778.8 540.9C779.8 538.1 780.8 535.1 781.8 532.0C782.8 528.8 783.8 525.5 784.8 522.2C785.8 518.8 786.8 515.2 787.8 511.6C788.8 508.1 789.8 504.5 790.8 501.0C791.8 497.5 792.8 494.1 793.8 490.7C794.8 487.3 795.8 484.0 796.8 480.8C797.8 477.6 798.8 474.5 799.8 471.5C800.8 468.5 801.8 465.6 802.8 462.8C803.8 460.1 804.8 457.4 805.8 455.0C806.8 452.5 807.8 450.2 808.8 448.0C809.8 445.8 810.8 443.8 811.8 441.9C812.8 440.0 813.8 438.3 814.8 436.8C815.8 435.3 816.8 434.0 817.8 432.9C818.8 431.8 819.8 430.8 820.8 430.0C821.8 429.1 822.8 428.4 823.8 427.8C824.8 427.1 825.8 426.6 826.8 426.3C827.8 426.0 828.8 425.7 829.8 425.7C830.8 425.7 831.8 425.7 832.8 425.8C833.8 425.9 834.8 426.1 835.8 426.4C836.8 426.7 837.8 427.0 838.8 427.5C839.8 427.9 840.8 428.5 841.8 429.1C842.8 429.7 843.8 430.4 844.8 431.2C845.8 432.0 846.8 432.9 847.8 433.9C848.8 434.9 849.8 435.9 850.8 437.1C851.8 438.3 852.8 439.6 853.8 441.0C854.8 442.4 855.8 444.0 856.8 445.7C857.8 447.5 858.8 449.5 859.8 451.6C860.8 453.7 861.8 456.0 862.8 458.2C863.8 460.5 864.8 462.7 865.8 465.0C866.8 467.2 867.8 469.4 868.8 471.6C869.8 473.8 870.8 476.0 871.8 478.1C872.8 480.3 873.8 482.4 874.8 484.5C875.8 486.6 876.8 488.6 877.8 490.6C878.8 492.6 879.8 494.5 880.8 496.5C881.8 498.4 882.8 500.3 883.8 502.1C884.8 504.0 885.8 505.8 886.8 507.6C887.8 509.3 888.8 511.0 889.8 512.7C890.8 514.4 891.8 516.1 892.8 517.7C893.8 519.3 894.8 520.8 895.8 522.4C896.8 523.9 897.8 525.4 898.8 526.8C899.8 528.3 900.8 529.7 901.8 531.0C902.8 532.4 903.8 533.7 904.8 534.8C905.8 536.0 906.8 537.0 907.8 537.9C908.8 538.8 909.8 539.5 910.8 540.1C911.8 540.6 912.8 541.0 913.8 541.2C914.8 541.4 915.8 541.3 916.8 541.3C917.8 541.3 918.8 541.0 919.8 540.6C920.8 540.2 921.8 539.7 922.8 539.1C923.8 538.5 924.8 537.8 925.8 536.9C926.8 536.0 927.8 535.0 928.8 534.0C929.8 532.9 930.8 531.6 931.8 530.4C932.8 529.1 933.8 527.7 934.8 526.3C935.8 524.9 936.8 523.5 937.8 521.9C938.8 520.4 939.8 518.8 940.8 517.2C941.8 515.5 942.8 513.8 943.8 512.0C944.8 510.2 945.8 508.4 946.8 506.5C947.8 504.7 948.8 502.7 949.8 500.7C950.8 498.8 951.8 496.7 952.8 494.6C953.8 492.4 954.8 490.2 955.8 487.9C956.8 485.5 957.8 483.1 958.8 480.4C959.8 477.8 960.8 475.0 961.8 472.1C962.8 469.2 963.8 466.2 964.8 463.2C965.8 460.2 966.8 457.1 967.8 454.0C968.8 450.9 969.8 447.7 970.8 444.6C971.8 441.5 972.8 438.3 973.8 435.2C974.8 432.1 975.8 429.1 976.8 426.2C977.8 423.2 978.8 420.4 979.8 417.6C980.8 414.8 981.8 412.0 982.8 409.4C983.8 406.8 984.8 404.2 985.8 401.9C986.8 399.5 987.8 397.3 988.8 395.1C989.8 393.0 990.8 391.0 991.8 389.0C992.8 387.1 993.8 385.2 994.8 383.3C995.8 381.5 996.8 379.7 997.8 378.0C998.8 376.2 999.8 374.5 1000.8 372.8C1001.8 371.2 1002.8 369.5 1003.8 368.0C1004.8 366.4 1005.8 364.8 1006.8 363.4C1007.8 362.0 1008.8 360.6 1009.8 359.5C1010.8 358.3 1011.8 357.4 1012.8 356.5C1013.8 355.6 1014.8 354.9 1015.8 354.1C1016.8 353.3 1017.8 352.6 1018.8 352.0C1019.8 351.3 1020.8 350.6 1021.8 350.0C1022.8 349.4 1023.8 348.8 1024.8 348.3C1025.8 347.7 1026.8 347.2 1027.8 346.7C1028.8 346.2 1029.8 345.8 1030.8 345.3C1031.8 344.9 1032.8 344.4 1033.8 344.0C1034.8 343.6 1035.8 343.2 1036.8 342.8C1037.8 342.4 1038.8 342.0 1039.8 341.6C1040.8 341.2 1041.8 340.8 1042.8 340.5C1043.8 340.1 1044.8 339.7 1045.8 339.3C1046.8 339.0 1047.8 338.6 1048.8 338.3C1049.8 337.9 1050.8 337.6 1051.8 337.3C1052.8 337.0 1053.8 336.6 1054.8 336.3C1055.8 336.0 1056.8 335.7 1057.8 335.4C1058.8 335.1 1059.8 334.8 1060.8 334.5C1061.8 334.2 1062.8 334.0 1063.8 333.7C1064.8 333.4 1065.8 333.2 1066.8 333.0C1067.8 332.7 1068.8 332.5 1069.8 332.4C1070.8 332.2 1071.8 332.0 1072.8 331.8C1073.8 331.7 1074.8 331.5 1075.8 331.3C1076.8 331.2 1077.8 331.0 1078.8 330.9C1079.8 330.7 1080.8 330.5 1081.8 330.4C1082.8 330.2 1083.8 330.1 1084.8 329.9C1085.8 329.7 1086.8 329.6 1087.8 329.4C1088.8 329.3 1089.8 329.1 1090.8 329.0C1091.8 328.8 1092.8 328.7 1093.8 328.5C1094.8 328.4 1095.8 328.3 1096.8 328.1C1097.8 328.0 1098.8 327.8 1099.8 327.7C1100.8 327.6 1101.8 327.4 1102.8 327.3C1103.8 327.1 1104.8 327.0 1105.8 326.9C1106.8 326.7 1107.8 326.6 1108.8 326.5C1109.8 326.4 1110.8 326.2 1111.8 326.1C1112.8 326.0 1113.8 325.9 1114.8 325.7C1115.8 325.6 1116.8 325.5 1117.8 325.4C1118.8 325.3 1119.8 325.1 1120.8 325.0C1121.8 324.9 1122.8 324.8 1123.8 324.7C1124.8 324.6 1125.8 324.5 1126.8 324.4C1127.8 324.3 1128.8 324.2 1129.8 324.0C1130.8 323.9 1131.8 323.8 1132.8 323.7C1133.8 323.6 1134.8 323.5 1135.8 323.4C1136.8 323.3 1137.8 323.2 1138.8 323.1C1139.8 323.0 1140.8 322.9 1141.8 322.8C1142.8 322.7 1143.8 322.6 1144.8 322.5C1145.8 322.4 1146.8 322.3 1147.8 322.3C1148.8 322.2 1149.8 322.1 1150.8 322.0C1151.8 321.9 1152.8 321.9 1153.8 321.8C1154.8 321.7 1155.8 321.7 1156.8 321.6C1157.8 321.5 1158.8 321.5 1159.8 321.4C1160.8 321.4 1161.8 321.3 1162.8 321.3C1163.8 321.3 1164.8 321.2 1165.8 321.2C1166.8 321.2 1167.8 321.1 1168.8 321.1C1169.8 321.1 1170.8 321.1 1171.8 321.1C1172.8 321.1 1173.8 321.1 1174.8 321.1C1175.8 321.1 1176.8 321.1 1177.8 321.2C1178.8 321.2 1179.8 321.2 1180.8 321.2C1181.8 321.2 1182.8 321.3 1183.8 321.3C1184.8 321.3 1185.8 321.3 1186.8 321.4C1187.8 321.4 1188.8 321.4 1189.8 321.5C1190.8 321.5 1191.8 321.5 1192.8 321.6C1193.8 321.6 1194.8 321.6 1195.8 321.7C1196.8 321.7 1197.8 321.7 1198.8 321.8C1199.8 321.8 1200.8 321.9 1201.8 321.9C1202.8 321.9 1203.8 322.0 1204.8 322.0C1205.8 322.0 1206.8 322.1 1207.8 322.1C1208.8 322.1 1209.8 322.1 1210.8 322.2C1211.8 322.2 1212.8 322.2 1213.8 322.2C1214.8 322.2 1215.8 322.3 1216.8 322.3C1217.8 322.3 1218.8 322.3 1219.8 322.3C1220.8 322.3 1221.8 322.3 1222.8 322.3C1223.8 322.3 1224.8 322.3 1225.8 322.3C1226.8 322.3 1227.8 322.3 1228.8 322.3C1229.8 322.2 1230.8 322.2 1231.8 322.2C1232.8 322.2 1233.8 322.2 1234.8 322.2C1235.8 322.1 1236.8 322.1 1237.8 322.1C1238.8 322.1 1239.8 322.1 1240.8 322.0C1241.8 322.0 1242.8 322.0 1243.8 322.0C1244.8 321.9 1245.8 321.9 1246.8 321.9C1247.8 321.9 1248.8 321.8 1249.8 321.8C1250.8 321.8 1251.8 321.7 1252.8 321.7C1253.8 321.7 1254.8 321.6 1255.8 321.6C1256.8 321.6 1257.8 321.5 1258.8 321.5C1259.8 321.5 1260.8 321.4 1261.8 321.4C1262.8 321.4 1263.8 321.3 1264.8 321.3C1265.8 321.3 1266.8 321.2 1267.8 321.2C1268.8 321.2 1269.8 321.1 1270.8 321.1C1271.8 321.1 1272.8 321.0 1273.8 321.0C1274.8 321.0 1275.8 320.9 1276.8 320.9C1277.8 320.9 1278.8 320.8 1279.8 320.8C1280.8 320.8 1281.8 320.7 1282.8 320.7C1283.8 320.7 1284.8 320.6 1285.8 320.6C1286.8 320.6 1287.8 320.6 1288.8 320.5C1289.8 320.5 1290.8 320.5 1291.8 320.5C1292.8 320.4 1293.8 320.4 1294.8 320.4C1295.8 320.4 1296.8 320.4 1297.8 320.3C1298.8 320.3 1299.8 320.3 1300.8 320.3C1301.8 320.3 1302.8 320.3 1303.8 320.2C1304.8 320.2 1305.8 320.2 1306.8 320.2C1307.8 320.2 1308.8 320.2 1309.8 320.2C1310.8 320.2 1311.8 320.1 1312.8 320.1C1313.8 320.1 1314.8 320.1 1315.8 320.1C1316.8 320.1 1317.8 320.1 1318.8 320.1C1319.8 320.1 1320.8 320.1 1321.8 320.1C1322.8 320.0 1323.8 320.0 1324.8 320.0C1325.8 320.0 1326.8 320.0 1327.8 320.0C1328.8 320.0 1329.8 320.0 1330.8 320.0C1331.8 320.0 1332.8 320.0 1333.8 320.0C1334.8 320.0 1335.8 320.0 1336.8 319.9C1337.8 319.9 1338.8 319.9 1339.8 319.9C1340.8 319.9 1341.8 319.9 1342.8 319.9C1343.8 319.9 1344.8 319.9 1345.8 319.9C1346.8 319.9 1347.8 319.9 1348.8 319.9C1349.8 319.9 1350.8 319.9 1351.8 319.8C1352.8 319.8 1353.8 319.8 1354.8 319.8C1355.8 319.8 1356.8 319.8 1357.8 319.8C1358.8 319.8 1359.8 319.8 1360.8 319.8C1361.8 319.8 1362.8 319.8 1363.8 319.8C1364.8 319.8 1365.8 319.7 1366.8 319.7C1367.8 319.7 1368.8 319.7 1369.8 319.7C1370.8 319.7 1371.8 319.7 1372.8 319.7C1373.8 319.7 1374.8 319.7 1375.8 319.7C1376.8 319.7 1377.8 319.7 1378.8 319.7C1379.8 319.7 1380.8 319.6 1381.8 319.6C1382.8 319.6 1383.8 319.6 1384.8 319.6C1385.8 319.6 1386.8 319.6 1387.8 319.6C1388.8 319.6 1389.8 319.6 1390.8 319.6C1391.8 319.6 1392.8 319.6 1393.8 319.6C1394.8 319.6 1395.8 319.6 1396.8 319.5C1397.8 319.5 1398.8 319.5 1399.8 319.5C1400.8 319.5 1401.8 319.5 1402.8 319.5C1403.8 319.5 1404.8 319.5 1405.8 319.5C1406.8 319.5 1407.8 319.5 1408.8 319.5C1409.8 319.5 1410.8 319.5 1411.8 319.5C1412.8 319.5 1413.8 319.5 1414.8 319.5C1415.8 319.5 1416.8 319.5 1417.8 319.4C1418.8 319.4 1419.8 319.4 1420.8 319.4C1421.8 319.4 1422.8 319.4 1423.8 319.4C1424.8 319.4 1425.8 319.4 1426.8 319.4C1427.8 319.4 1428.8 319.4 1429.8 319.4C1430.8 319.4 1431.8 319.4 1432.8 319.4C1433.8 319.4 1434.8 319.4 1435.8 319.4C1436.8 319.4 1437.8 319.4 1438.8 319.4C1439.8 319.4 1440.8 319.4 1441.8 319.4C1442.8 319.4 1443.8 319.5 1444.8 319.5C1445.8 319.6 1446.8 319.7 1447.8 319.8C1448.8 319.9 1449.8 320.1 1450.8 320.2C1451.8 320.4 1452.8 320.6 1453.8 320.7C1454.8 320.9 1455.8 321.1 1456.8 321.3C1457.8 321.4 1458.8 321.6 1459.8 321.7C1460.8 321.9 1461.8 322.0 1462.8 322.2C1463.8 322.3 1464.8 322.4 1465.8 322.6C1466.8 322.8 1467.8 322.9 1468.8 323.1C1469.8 323.3 1470.8 323.6 1471.8 323.9C1472.8 324.1 1473.8 324.5 1474.8 324.8C1475.8 325.2 1476.8 325.5 1477.8 326.0C1478.8 326.4 1479.8 326.8 1480.8 327.4C1481.8 327.9 1482.8 328.5 1483.8 329.2C1484.8 330.0 1485.8 330.8 1486.8 331.9C1487.8 333.0 1488.8 334.3 1489.8 335.7C1490.8 337.0 1491.8 338.6 1492.8 340.1C1493.8 341.6 1494.8 343.1 1495.8 344.7C1496.8 346.3 1497.8 347.9 1498.8 349.7C1499.8 351.5 1500.8 353.4 1501.8 355.5C1502.8 357.6 1503.8 359.9 1504.8 362.3C1505.8 364.6 1506.8 367.1 1507.8 369.7C1508.8 372.2 1509.8 374.9 1510.8 377.5C1511.8 380.2 1512.8 382.9 1513.8 385.5C1514.8 388.1 1515.8 390.6 1516.8 393.0C1517.8 395.3 1518.8 397.5 1519.8 399.5C1520.8 401.5 1521.8 403.4 1522.8 405.0C1523.8 406.7 1524.8 408.2 1525.8 409.4C1526.8 410.6 1527.8 411.6 1528.8 412.2C1529.8 412.8 1530.8 413.0 1531.8 413.0C1532.8 413.0 1533.8 412.7 1534.8 412.2C1535.8 411.6 1536.8 410.8 1537.8 409.6C1538.8 408.4 1539.8 406.9 1540.8 405.0C1541.8 403.2 1542.8 400.9 1543.8 398.4C1544.8 396.0 1545.8 393.3 1546.8 390.5C1547.8 387.8 1548.8 384.8 1549.8 381.8C1550.8 378.8 1551.8 375.6 1552.8 372.7C1553.8 369.7 1554.8 366.8 1555.8 364.1C1556.8 361.3 1557.8 358.6 1558.8 356.2C1559.8 353.8 1560.8 351.5 1561.8 349.5C1562.8 347.5 1563.8 345.7 1564.8 344.1C1565.8 342.4 1566.8 341.0 1567.8 339.7C1568.8 338.4 1569.8 337.2 1570.8 336.1C1571.8 335.0 1572.8 334.1 1573.8 333.2C1574.8 332.4 1575.8 331.7 1576.8 331.0C1577.8 330.3 1578.8 329.7 1579.8 329.2C1580.8 328.7 1581.8 328.2 1582.8 327.7C1583.8 327.2 1584.8 326.8 1585.8 326.4C1586.8 325.9 1587.8 325.5 1588.8 325.2C1589.8 324.8 1590.8 324.5 1591.8 324.2C1592.8 324.0 1593.8 323.8 1594.8 323.7C1595.8 323.5 1596.8 323.6 1597.8 323.6C1598.8 323.6 1599.8 323.8 1600.8 324.0C1601.8 324.2 1602.8 324.6 1603.8 325.0C1604.8 325.3 1605.8 325.8 1606.8 326.4C1607.8 326.9 1608.8 327.5 1609.8 328.3C1610.8 329.1 1611.8 330.0 1612.8 331.0C1613.8 332.1 1614.8 333.2 1615.8 334.6C1616.8 335.9 1617.8 337.4 1618.8 339.1C1619.8 340.7 1620.8 342.6 1621.8 344.6C1622.8 346.5 1623.8 348.6 1624.8 350.7C1625.8 352.8 1626.8 355.0 1627.8 357.1C1628.8 359.1 1629.8 361.3 1630.8 363.2C1631.8 365.1 1632.8 366.9 1633.8 368.4C1634.8 369.9 1635.8 371.2 1636.8 372.4C1637.8 373.5 1638.8 374.6 1639.8 375.4C1640.8 376.3 1641.8 377.0 1642.8 377.4C1643.8 377.8 1644.8 377.9 1645.8 377.9C1646.8 377.9 1647.8 377.3 1648.8 376.8C1649.8 376.2 1650.8 375.4 1651.8 374.5C1652.8 373.7 1653.8 372.8 1654.8 371.9C1655.8 370.9 1656.8 369.9 1657.8 368.9C1658.8 367.9 1659.8 366.7 1660.8 365.7C1661.8 364.7 1662.8 363.6 1663.8 362.9C1664.8 362.3 1665.8 361.6 1666.8 361.6C1667.8 361.6 1668.8 361.4 1669.8 361.7C1670.8 361.9 1671.8 362.3 1672.8 362.8C1673.8 363.4 1674.8 364.1 1675.8 365.2C1676.8 366.2 1677.8 367.5 1678.8 369.1C1679.8 370.6 1680.8 372.7 1681.8 374.5C1682.8 376.4 1683.8 378.5 1684.8 380.3C1685.8 382.1 1686.8 383.7 1687.8 385.3C1688.8 386.8 1689.8 388.3 1690.8 389.5C1691.8 390.8 1692.8 391.9 1693.8 392.6C1694.8 393.3 1695.8 393.7 1696.8 393.7C1697.8 393.7 1698.8 393.3 1699.8 392.7C1700.8 392.0 1701.8 391.1 1702.8 390.0C1703.8 389.0 1704.8 387.7 1705.8 386.2C1706.8 384.6 1707.8 382.8 1708.8 380.8C1709.8 378.9 1710.8 376.4 1711.8 374.3C1712.8 372.1 1713.8 369.8 1714.8 367.9C1715.8 365.9 1716.8 364.0 1717.8 362.4C1718.8 360.8 1719.8 359.4 1720.8 358.3C1721.8 357.2 1722.8 356.4 1723.8 355.7C1724.8 355.0 1725.8 354.6 1726.8 354.3C1727.8 353.9 1728.8 353.7 1729.8 353.7C1730.8 353.7 1731.8 353.7 1732.8 353.9C1733.8 354.1 1734.8 354.5 1735.8 354.9C1736.8 355.3 1737.8 355.9 1738.8 356.4C1739.8 357.0 1740.8 357.6 1741.8 358.2C1742.8 358.8 1743.8 359.4 1744.8 360.1C1745.8 360.7 1746.8 361.4 1747.8 362.1C1748.8 362.8 1749.8 363.5 1750.8 364.3C1751.8 365.0 1752.8 365.7 1753.8 366.5C1754.8 367.2 1755.8 368.0 1756.8 368.8C1757.8 369.6 1758.8 370.4 1759.8 371.1C1760.8 371.9 1761.8 372.6 1762.8 373.3C1763.8 374.0 1764.8 374.6 1765.8 375.2C1766.8 375.8 1767.8 376.5 1768.8 377.0C1769.8 377.6 1770.8 378.1 1771.8 378.5C1772.8 378.9 1773.8 379.3 1774.8 379.5C1775.8 379.7 1776.8 379.8 1777.8 379.8C1778.8 379.8 1779.8 379.8 1780.8 379.6C1781.8 379.5 1782.8 379.3 1783.8 379.1C1784.8 378.9 1785.8 378.6 1786.8 378.4C1787.8 378.1 1788.8 377.8 1789.8 377.5C1790.8 377.2 1791.8 376.9 1792.8 376.5C1793.8 376.2 1794.8 375.7 1795.8 375.3C1796.8 374.9 1797.8 374.4 1798.8 373.9C1799.8 373.5 1800.8 373.0 1801.8 372.6C1802.8 372.2 1803.8 371.7 1804.8 371.4C1805.8 371.1 1806.8 370.8 1807.8 370.6C1808.8 370.5 1809.8 370.4 1810.8 370.4C1811.8 370.4 1812.8 370.6 1813.8 370.8C1814.8 371.0 1815.8 371.4 1816.8 371.8C1817.8 372.1 1818.8 372.6 1819.8 373.0C1820.8 373.4 1821.8 373.8 1822.8 374.2C1823.8 374.7 1824.8 375.1 1825.8 375.5C1826.8 376.0 1827.8 376.5 1828.8 377.0C1829.8 377.4 1830.8 377.9 1831.8 378.3C1832.8 378.7 1833.8 379.1 1834.8 379.4C1835.8 379.6 1836.8 379.7 1837.8 379.7C1838.8 379.7 1839.8 379.6 1840.8 379.3C1841.8 378.9 1842.8 378.4 1843.8 377.9C1844.8 377.3 1845.8 376.5 1846.8 375.7C1847.8 374.9 1848.8 374.0 1849.8 372.9C1850.8 371.9 1851.8 370.7 1852.8 369.4C1853.8 368.1 1854.8 366.7 1855.8 365.3C1856.8 363.9 1857.8 362.5 1858.8 361.0C1859.8 359.4 1860.8 357.8 1861.8 356.3C1862.8 354.7 1863.8 353.0 1864.8 351.5C1865.8 349.9 1866.8 348.4 1867.8 347.0C1868.8 345.6 1869.8 344.3 1870.8 343.0C1871.8 341.8 1872.8 340.6 1873.8 339.5C1874.8 338.3 1875.8 337.3 1876.8 336.3C1877.8 335.3 1878.8 334.3 1879.8 333.4C1880.8 332.5 1881.8 331.7 1882.8 330.9C1883.8 330.0 1884.8 329.3 1885.8 328.5C1886.8 327.8 1887.8 327.1 1888.8 326.5C1889.8 325.9 1890.8 325.3 1891.8 324.8C1892.8 324.3 1893.8 323.9 1894.8 323.5C1895.8 323.1 1896.8 322.8 1897.8 322.5C1898.8 322.2 1899.8 322.0 1900.8 321.7C1901.8 321.5 1902.8 321.4 1903.8 321.2C1904.8 321.1 1905.8 320.9 1906.8 320.8C1907.8 320.7 1908.8 320.6 1909.8 320.5C1910.8 320.5 1911.8 320.4 1912.8 320.4C1913.8 320.3 1914.8 320.3 1915.8 320.2C1916.8 320.2 1917.8 320.2 1918.8 320.2C1919.8 320.2 1920.8 320.2 1921.8 320.2C1922.8 320.2 1923.8 320.3 1924.8 320.3C1925.8 320.3 1926.8 320.3 1927.8 320.4C1928.8 320.4 1929.8 320.4 1930.8 320.4C1931.8 320.4 1932.8 320.5 1933.8 320.5C1934.8 320.5 1935.8 320.5 1936.8 320.5C1937.8 320.5 1938.8 320.5 1939.8 320.5C1940.8 320.5 1941.8 320.4 1942.8 320.4C1943.8 320.4 1944.8 320.4 1945.8 320.3C1946.8 320.3 1947.8 320.3 1948.8 320.2C1949.8 320.2 1950.8 320.1 1951.8 320.1C1952.8 320.1 1953.8 320.0 1954.8 320.0C1955.8 319.9 1956.8 319.9 1957.8 319.9C1958.8 319.8 1959.8 319.8 1960.8 319.7C1961.8 319.7 1962.8 319.6 1963.8 319.6C1964.8 319.5 1965.8 319.5 1966.8 319.5C1967.8 319.4 1968.8 319.4 1969.8 319.3C1970.8 319.3 1971.8 319.2 1972.8 319.2C1973.3 319.2 1973.8 319.2 1974.3 319.1" fill="none" stroke="#008000" stroke-width="7" stroke-linejoin="round" stroke-linecap="butt"/>
<path d="M124.8 463.5C125.8 463.4 126.8 463.4 127.8 463.4C128.8 463.3 129.8 463.3 130.8 463.2C131.8 463.1 132.8 463.1 133.8 463.0C134.8 463.0 135.8 462.9 136.8 462.9C137.8 462.8 138.8 462.8 139.8 462.7C140.8 462.7 141.8 462.6 142.8 462.6C143.8 462.6 144.8 462.5 145.8 462.5C146.8 462.5 147.8 462.4 148.8 462.4C149.8 462.4 150.8 462.4 151.8 462.4C152.8 462.4 153.8 462.5 154.8 462.5C155.8 462.5 156.8 462.6 157.8 462.6C158.8 462.7 159.8 462.8 160.8 462.8C161.8 462.9 162.8 463.0 163.8 463.1C164.8 463.2 165.8 463.3 166.8 463.4C167.8 463.5 168.8 463.6 169.8 463.7C170.8 463.8 171.8 463.9 172.8 464.0C173.8 464.1 174.8 464.2 175.8 464.2C176.8 464.3 177.8 464.4 178.8 464.5C179.8 464.6 180.8 464.6 181.8 464.7C182.8 464.7 183.8 464.8 184.8 464.8C185.8 464.9 186.8 464.9 187.8 464.9C188.8 464.9 189.8 464.9 190.8 464.9C191.8 464.9 192.8 464.9 193.8 464.8C194.8 464.8 195.8 464.8 196.8 464.8C197.8 464.7 198.8 464.7 199.8 464.7C200.8 464.7 201.8 464.6 202.8 464.6C203.8 464.5 204.8 464.5 205.8 464.5C206.8 464.4 207.8 464.4 208.8 464.3C209.8 464.3 210.8 464.3 211.8 464.2C212.8 464.2 213.8 464.1 214.8 464.1C215.8 464.0 216.8 464.0 217.8 464.0C218.8 463.9 219.8 463.9 220.8 463.8C221.8 463.8 222.8 463.8 223.8 463.7C224.8 463.7 225.8 463.7 226.8 463.6C227.8 463.6 228.8 463.6 229.8 463.6C230.8 463.5 231.8 463.5 232.8 463.5C233.8 463.5 234.8 463.5 235.8 463.5C236.8 463.5 237.8 463.5 238.8 463.5C239.8 463.4 240.8 463.4 241.8 463.4C242.8 463.4 243.8 463.4 244.8 463.4C245.8 463.4 246.8 463.4 247.8 463.4C248.8 463.4 249.8 463.4 250.8 463.4C251.8 463.4 252.8 463.4 253.8 463.4C254.8 463.3 255.8 463.3 256.8 463.3C257.8 463.3 258.8 463.3 259.8 463.3C260.8 463.3 261.8 463.3 262.8 463.3C263.8 463.3 264.8 463.3 265.8 463.3C266.8 463.3 267.8 463.3 268.8 463.3C269.8 463.3 270.8 463.3 271.8 463.3C272.8 463.3 273.8 463.3 274.8 463.3C275.8 463.3 276.8 463.3 277.8 463.3C278.8 463.3 279.8 463.3 280.8 463.3C281.8 463.3 282.8 463.3 283.8 463.3C284.8 463.3 285.8 463.3 286.8 463.3C287.8 463.3 288.8 463.3 289.8 463.3C290.8 463.3 291.8 463.3 292.8 463.3C293.8 463.3 294.8 463.3 295.8 463.3C296.8 463.4 297.8 463.4 298.8 463.4C299.8 463.4 300.8 463.4 301.8 463.4C302.8 463.4 303.8 463.4 304.8 463.4C305.8 463.4 306.8 463.4 307.8 463.4C308.8 463.4 309.8 463.4 310.8 463.4C311.8 463.4 312.8 463.4 313.8 463.4C314.8 463.4 315.8 463.4 316.8 463.4C317.8 463.4 318.8 463.5 319.8 463.5C320.8 463.5 321.8 463.5 322.8 463.5C323.8 463.5 324.8 463.5 325.8 463.5C326.8 463.5 327.8 463.5 328.8 463.5C329.8 463.5 330.8 463.5 331.8 463.5C332.8 463.5 333.8 463.6 334.8 463.6C335.8 463.6 336.8 463.6 337.8 463.6C338.8 463.6 339.8 463.6 340.8 463.6C341.8 463.6 342.8 463.7 343.8 463.7C344.8 463.7 345.8 463.7 346.8 463.7C347.8 463.7 348.8 463.7 349.8 463.7C350.8 463.8 351.8 463.8 352.8 463.8C353.8 463.8 354.8 463.8 355.8 463.8C356.8 463.8 357.8 463.9 358.8 463.9C359.8 463.9 360.8 463.9 361.8 463.9C362.8 463.9 363.8 464.0 364.8 464.0C365.8 464.0 366.8 464.0 367.8 464.0C368.8 464.0 369.8 464.1 370.8 464.1C371.8 464.1 372.8 464.1 373.8 464.1C374.8 464.1 375.8 464.2 376.8 464.2C377.8 464.2 378.8 464.2 379.8 464.2C380.8 464.2 381.8 464.3 382.8 464.3C383.8 464.3 384.8 464.3 385.8 464.3C386.8 464.3 387.8 464.3 388.8 464.4C389.8 464.4 390.8 464.4 391.8 464.4C392.8 464.4 393.8 464.4 394.8 464.4C395.8 464.5 396.8 464.5 397.8 464.5C398.8 464.5 399.8 464.5 400.8 464.5C401.8 464.5 402.8 464.5 403.8 464.5C404.8 464.6 405.8 464.6 406.8 464.6C407.8 464.6 408.8 464.6 409.8 464.6C410.8 464.6 411.8 464.6 412.8 464.6C413.8 464.6 414.8 464.6 415.8 464.6C416.8 464.6 417.8 464.6 418.8 464.6C419.8 464.6 420.8 464.6 421.8 464.6C422.8 464.6 423.8 464.6 424.8 464.6C425.8 464.6 426.8 464.6 427.8 464.6C428.8 464.6 429.8 464.6 430.8 464.6C431.8 464.6 432.8 464.6 433.8 464.6C434.8 464.6 435.8 464.7 436.8 464.7C437.8 464.7 438.8 464.7 439.8 464.7C440.8 464.8 441.8 464.8 442.8 464.8C443.8 464.8 444.8 464.9 445.8 464.9C446.8 465.0 447.8 465.0 448.8 465.0C449.8 465.1 450.8 465.1 451.8 465.2C452.8 465.3 453.8 465.3 454.8 465.4C455.8 465.5 456.8 465.6 457.8 465.7C458.8 465.8 459.8 465.9 460.8 466.0C461.8 466.1 462.8 466.2 463.8 466.3C464.8 466.4 465.8 466.6 466.8 466.7C467.8 466.8 468.8 466.9 469.8 467.1C470.8 467.2 471.8 467.3 472.8 467.5C473.8 467.6 474.8 467.8 475.8 467.9C476.8 468.0 477.8 468.2 478.8 468.3C479.8 468.4 480.8 468.5 481.8 468.7C482.8 468.8 483.8 468.9 484.8 469.0C485.8 469.2 486.8 469.3 487.8 469.4C488.8 469.5 489.8 469.6 490.8 469.8C491.8 469.9 492.8 470.1 493.8 470.2C494.8 470.4 495.8 470.5 496.8 470.7C497.8 470.9 498.8 471.1 499.8 471.3C500.8 471.5 501.8 471.7 502.8 472.0C503.8 472.3 504.8 472.5 505.8 472.8C506.8 473.2 507.8 473.5 508.8 473.8C509.8 474.2 510.8 474.5 511.8 474.9C512.8 475.3 513.8 475.6 514.8 476.0C515.8 476.4 516.8 476.7 517.8 477.1C518.8 477.5 519.8 477.8 520.8 478.2C521.8 478.5 522.8 478.9 523.8 479.2C524.8 479.6 525.8 480.0 526.8 480.4C527.8 480.8 528.8 481.3 529.8 481.8C530.8 482.2 531.8 482.8 532.8 483.3C533.8 483.8 534.8 484.4 535.8 484.9C536.8 485.5 537.8 486.0 538.8 486.6C539.8 487.2 540.8 487.7 541.8 488.3C542.8 488.9 543.8 489.5 544.8 490.1C545.8 490.7 546.8 491.3 547.8 491.9C548.8 492.5 549.8 493.2 550.8 493.9C551.8 494.6 552.8 495.3 553.8 496.0C554.8 496.8 555.8 497.6 556.8 498.4C557.8 499.3 558.8 500.2 559.8 501.3C560.8 502.3 561.8 503.5 562.8 504.8C563.8 506.0 564.8 507.4 565.8 508.8C566.8 510.1 567.8 511.5 568.8 512.9C569.8 514.3 570.8 515.7 571.8 517.1C572.8 518.6 573.8 519.9 574.8 521.6C575.8 523.3 576.8 525.0 577.8 527.3C578.8 529.6 579.8 532.5 580.8 535.3C581.8 538.2 582.8 541.3 583.8 544.2C584.8 547.2 585.8 550.0 586.8 552.9C587.8 555.8 588.8 558.6 589.8 561.4C590.8 564.2 591.8 567.1 592.8 569.7C593.8 572.3 594.8 574.8 595.8 577.1C596.8 579.3 597.8 581.3 598.8 583.2C599.8 585.0 600.8 586.7 601.8 588.2C602.8 589.7 603.8 591.2 604.8 592.2C605.8 593.3 606.8 594.6 607.8 594.6C608.8 594.6 609.8 594.8 610.8 594.2C611.8 593.6 612.8 592.3 613.8 590.9C614.8 589.5 615.8 587.7 616.8 586.0C617.8 584.3 618.8 582.5 619.8 580.7C620.8 578.9 621.8 576.9 622.8 575.3C623.8 573.6 624.8 572.0 625.8 570.8C626.8 569.7 627.8 568.9 628.8 568.3C629.8 567.7 630.8 567.3 631.8 567.3C632.8 567.3 633.8 567.1 634.8 567.5C635.8 567.8 636.8 568.3 637.8 569.3C638.8 570.3 639.8 571.7 640.8 573.4C641.8 575.0 642.8 577.1 643.8 579.2C644.8 581.4 645.8 583.8 646.8 586.3C647.8 588.8 648.8 591.6 649.8 594.4C650.8 597.3 651.8 600.3 652.8 603.4C653.8 606.5 654.8 609.7 655.8 613.0C656.8 616.3 657.8 619.8 658.8 623.3C659.8 626.8 660.8 630.5 661.8 634.1C662.8 637.7 663.8 641.3 664.8 644.8C665.8 648.3 666.8 651.7 667.8 654.9C668.8 658.2 669.8 661.3 670.8 664.4C671.8 667.4 672.8 670.3 673.8 673.0C674.8 675.8 675.8 678.4 676.8 680.7C677.8 683.1 678.8 685.2 679.8 687.1C680.8 688.9 681.8 690.6 682.8 692.0C683.8 693.4 684.8 694.6 685.8 695.6C686.8 696.7 687.8 697.6 688.8 698.2C689.8 698.8 690.8 699.4 691.8 699.4C692.8 699.4 693.8 699.3 694.8 699.0C695.8 698.6 696.8 698.0 697.8 697.4C698.8 696.8 699.8 696.0 700.8 695.4C701.8 694.9 702.8 694.3 703.8 693.9C704.8 693.4 705.8 693.0 706.8 692.7C707.8 692.3 708.8 691.9 709.8 691.6C710.8 691.3 711.8 691.1 712.8 690.9C713.8 690.7 714.8 690.5 715.8 690.5C716.8 690.5 717.8 690.5 718.8 690.6C719.8 690.7 720.8 690.9 721.8 691.2C722.8 691.5 723.8 691.9 724.8 692.3C725.8 692.8 726.8 693.3 727.8 693.8C728.8 694.4 729.8 695.1 730.8 695.8C731.8 696.5 732.8 697.4 733.8 698.2C734.8 699.0 735.8 699.9 736.8 700.7C737.8 701.4 738.8 702.2 739.8 702.9C740.8 703.6 741.8 704.2 742.8 704.8C743.8 705.4 744.8 706.0 745.8 706.6C746.8 707.1 747.8 707.6 748.8 708.0C749.8 708.4 750.8 708.7 751.8 709.0C752.8 709.2 753.8 709.3 754.8 709.4C755.8 709.5 756.8 709.6 757.8 709.6C758.8 709.6 759.8 709.6 760.8 709.3C761.8 709.0 762.8 708.5 763.8 707.7C764.8 706.8 765.8 705.6 766.8 704.2C767.8 702.8 768.8 701.0 769.8 699.0C770.8 697.1 771.8 694.8 772.8 692.3C773.8 689.8 774.8 686.8 775.8 684.0C776.8 681.2 777.8 678.1 778.8 675.4C779.8 672.6 780.8 670.0 781.8 667.3C782.8 664.6 783.8 662.0 784.8 659.1C785.8 656.2 786.8 653.2 787.8 650.0C788.8 646.8 789.8 643.3 790.8 640.0C791.8 636.7 792.8 633.3 793.8 630.0C794.8 626.8 795.8 623.5 796.8 620.4C797.8 617.2 798.8 614.0 799.8 610.9C800.8 607.9 801.8 604.8 802.8 601.9C803.8 599.0 804.8 596.1 805.8 593.6C806.8 591.0 807.8 588.6 808.8 586.4C809.8 584.2 810.8 582.2 811.8 580.4C812.8 578.6 813.8 577.0 814.8 575.5C815.8 574.1 816.8 572.9 817.8 571.7C818.8 570.6 819.8 569.6 820.8 568.6C821.8 567.7 822.8 566.8 823.8 566.0C824.8 565.2 825.8 564.5 826.8 564.0C827.8 563.5 828.8 563.2 829.8 563.0C830.8 562.8 831.8 562.9 832.8 562.9C833.8 562.9 834.8 563.2 835.8 563.5C836.8 563.7 837.8 564.1 838.8 564.5C839.8 565.0 840.8 565.6 841.8 566.3C842.8 567.0 843.8 567.8 844.8 568.8C845.8 569.7 846.8 570.8 847.8 572.0C848.8 573.1 849.8 574.4 850.8 575.8C851.8 577.1 852.8 578.6 853.8 580.1C854.8 581.6 855.8 583.2 856.8 584.9C857.8 586.6 858.8 588.4 859.8 590.3C860.8 592.2 861.8 594.3 862.8 596.4C863.8 598.4 864.8 600.6 865.8 602.7C866.8 604.8 867.8 607.0 868.8 609.2C869.8 611.3 870.8 613.6 871.8 615.8C872.8 618.0 873.8 620.3 874.8 622.5C875.8 624.7 876.8 626.8 877.8 629.0C878.8 631.1 879.8 633.3 880.8 635.4C881.8 637.5 882.8 639.6 883.8 641.6C884.8 643.7 885.8 645.7 886.8 647.7C887.8 649.6 888.8 651.6 889.8 653.5C890.8 655.4 891.8 657.3 892.8 659.1C893.8 660.9 894.8 662.7 895.8 664.3C896.8 665.9 897.8 667.5 898.8 668.9C899.8 670.4 900.8 671.8 901.8 673.0C902.8 674.3 903.8 675.5 904.8 676.4C905.8 677.4 906.8 678.3 907.8 679.0C908.8 679.7 909.8 680.2 910.8 680.6C911.8 681.0 912.8 681.3 913.8 681.3C914.8 681.3 915.8 681.4 916.8 681.3C917.8 681.1 918.8 680.8 919.8 680.4C920.8 680.0 921.8 679.4 922.8 678.7C923.8 678.0 924.8 677.2 925.8 676.2C926.8 675.3 927.8 674.1 928.8 673.0C929.8 671.9 930.8 670.7 931.8 669.4C932.8 668.2 933.8 667.0 934.8 665.7C935.8 664.5 936.8 663.2 937.8 661.8C938.8 660.4 939.8 658.9 940.8 657.4C941.8 655.9 942.8 654.2 943.8 652.5C944.8 650.8 945.8 649.0 946.8 647.1C947.8 645.2 948.8 643.2 949.8 641.2C950.8 639.1 951.8 637.0 952.8 634.8C953.8 632.6 954.8 630.4 955.8 628.0C956.8 625.6 957.8 623.1 958.8 620.4C959.8 617.8 960.8 614.9 961.8 612.1C962.8 609.2 963.8 606.2 964.8 603.2C965.8 600.1 966.8 597.0 967.8 593.9C968.8 590.8 969.8 587.4 970.8 584.3C971.8 581.1 972.8 577.9 973.8 575.0C974.8 572.1 975.8 569.4 976.8 566.9C977.8 564.4 978.8 562.1 979.8 559.8C980.8 557.6 981.8 555.4 982.8 553.3C983.8 551.2 984.8 549.1 985.8 547.1C986.8 545.0 987.8 542.9 988.8 540.8C989.8 538.7 990.8 536.6 991.8 534.5C992.8 532.4 993.8 530.3 994.8 528.3C995.8 526.2 996.8 524.1 997.8 522.1C998.8 520.2 999.8 518.3 1000.8 516.7C1001.8 515.1 1002.8 513.6 1003.8 512.3C1004.8 510.9 1005.8 509.7 1006.8 508.5C1007.8 507.3 1008.8 506.2 1009.8 505.2C1010.8 504.2 1011.8 503.2 1012.8 502.3C1013.8 501.4 1014.8 500.6 1015.8 499.8C1016.8 499.0 1017.8 498.3 1018.8 497.5C1019.8 496.8 1020.8 496.2 1021.8 495.5C1022.8 494.8 1023.8 494.2 1024.8 493.6C1025.8 493.0 1026.8 492.3 1027.8 491.7C1028.8 491.1 1029.8 490.5 1030.8 490.0C1031.8 489.4 1032.8 488.8 1033.8 488.2C1034.8 487.7 1035.8 487.1 1036.8 486.6C1037.8 486.0 1038.8 485.5 1039.8 485.0C1040.8 484.4 1041.8 483.9 1042.8 483.4C1043.8 482.9 1044.8 482.4 1045.8 481.8C1046.8 481.3 1047.8 480.8 1048.8 480.3C1049.8 479.7 1050.8 479.2 1051.8 478.6C1052.8 478.1 1053.8 477.5 1054.8 476.9C1055.8 476.4 1056.8 475.9 1057.8 475.4C1058.8 474.9 1059.8 474.5 1060.8 474.1C1061.8 473.7 1062.8 473.4 1063.8 473.0C1064.8 472.7 1065.8 472.4 1066.8 472.0C1067.8 471.7 1068.8 471.4 1069.8 471.0C1070.8 470.7 1071.8 470.3 1072.8 470.0C1073.8 469.6 1074.8 469.2 1075.8 468.9C1076.8 468.5 1077.8 468.1 1078.8 467.8C1079.8 467.4 1080.8 467.1 1081.8 466.8C1082.8 466.5 1083.8 466.3 1084.8 466.1C1085.8 465.9 1086.8 465.7 1087.8 465.6C1088.8 465.4 1089.8 465.3 1090.8 465.1C1091.8 465.0 1092.8 464.9 1093.8 464.7C1094.8 464.6 1095.8 464.5 1096.8 464.4C1097.8 464.3 1098.8 464.1 1099.8 464.0C1100.8 463.9 1101.8 463.8 1102.8 463.7C1103.8 463.6 1104.8 463.5 1105.8 463.4C1106.8 463.3 1107.8 463.2 1108.8 463.1C1109.8 463.0 1110.8 462.9 1111.8 462.8C1112.8 462.7 1113.8 462.6 1114.8 462.5C1115.8 462.4 1116.8 462.3 1117.8 462.2C1118.8 462.1 1119.8 462.0 1120.8 462.0C1121.8 461.9 1122.8 461.8 1123.8 461.7C1124.8 461.6 1125.8 461.5 1126.8 461.5C1127.8 461.4 1128.8 461.3 1129.8 461.2C1130.8 461.1 1131.8 461.0 1132.8 461.0C1133.8 460.9 1134.8 460.8 1135.8 460.7C1136.8 460.6 1137.8 460.5 1138.8 460.4C1139.8 460.4 1140.8 460.3 1141.8 460.2C1142.8 460.1 1143.8 460.0 1144.8 459.9C1145.8 459.8 1146.8 459.8 1147.8 459.7C1148.8 459.6 1149.8 459.5 1150.8 459.4C1151.8 459.3 1152.8 459.2 1153.8 459.1C1154.8 459.0 1155.8 458.9 1156.8 458.8C1157.8 458.7 1158.8 458.7 1159.8 458.6C1160.8 458.5 1161.8 458.4 1162.8 458.3C1163.8 458.2 1164.8 458.1 1165.8 458.0C1166.8 458.0 1167.8 457.9 1168.8 457.8C1169.8 457.7 1170.8 457.6 1171.8 457.6C1172.8 457.5 1173.8 457.4 1174.8 457.3C1175.8 457.3 1176.8 457.2 1177.8 457.2C1178.8 457.1 1179.8 457.0 1180.8 457.0C1181.8 456.9 1182.8 456.9 1183.8 456.8C1184.8 456.8 1185.8 456.7 1186.8 456.7C1187.8 456.7 1188.8 456.6 1189.8 456.6C1190.8 456.6 1191.8 456.5 1192.8 456.5C1193.8 456.5 1194.8 456.4 1195.8 456.4C1196.8 456.4 1197.8 456.3 1198.8 456.3C1199.8 456.3 1200.8 456.2 1201.8 456.2C1202.8 456.2 1203.8 456.2 1204.8 456.1C1205.8 456.1 1206.8 456.1 1207.8 456.1C1208.8 456.0 1209.8 456.0 1210.8 456.0C1211.8 456.0 1212.8 455.9 1213.8 455.9C1214.8 455.9 1215.8 455.9 1216.8 455.9C1217.8 455.8 1218.8 455.8 1219.8 455.8C1220.8 455.8 1221.8 455.8 1222.8 455.7C1223.8 455.7 1224.8 455.7 1225.8 455.7C1226.8 455.7 1227.8 455.6 1228.8 455.6C1229.8 455.6 1230.8 455.6 1231.8 455.6C1232.8 455.6 1233.8 455.6 1234.8 455.5C1235.8 455.5 1236.8 455.5 1237.8 455.5C1238.8 455.5 1239.8 455.5 1240.8 455.5C1241.8 455.4 1242.8 455.4 1243.8 455.4C1244.8 455.4 1245.8 455.4 1246.8 455.4C1247.8 455.4 1248.8 455.4 1249.8 455.4C1250.8 455.4 1251.8 455.3 1252.8 455.3C1253.8 455.3 1254.8 455.3 1255.8 455.3C1256.8 455.3 1257.8 455.3 1258.8 455.3C1259.8 455.3 1260.8 455.3 1261.8 455.3C1262.8 455.3 1263.8 455.2 1264.8 455.2C1265.8 455.2 1266.8 455.2 1267.8 455.2C1268.8 455.2 1269.8 455.2 1270.8 455.2C1271.8 455.2 1272.8 455.2 1273.8 455.2C1274.8 455.2 1275.8 455.2 1276.8 455.2C1277.8 455.1 1278.8 455.1 1279.8 455.1C1280.8 455.1 1281.8 455.1 1282.8 455.1C1283.8 455.1 1284.8 455.1 1285.8 455.1C1286.8 455.1 1287.8 455.1 1288.8 455.1C1289.8 455.1 1290.8 455.1 1291.8 455.0C1292.8 455.0 1293.8 455.0 1294.8 455.0C1295.8 455.0 1296.8 455.0 1297.8 455.0C1298.8 455.0 1299.8 455.0 1300.8 455.0C1301.8 455.0 1302.8 455.0 1303.8 454.9C1304.8 454.9 1305.8 454.9 1306.8 454.9C1307.8 454.9 1308.8 454.9 1309.8 454.9C1310.8 454.9 1311.8 454.9 1312.8 454.9C1313.8 454.9 1314.8 454.9 1315.8 454.9C1316.8 454.8 1317.8 454.8 1318.8 454.8C1319.8 454.8 1320.8 454.8 1321.8 454.8C1322.8 454.8 1323.8 454.8 1324.8 454.8C1325.8 454.8 1326.8 454.8 1327.8 454.8C1328.8 454.8 1329.8 454.8 1330.8 454.7C1331.8 454.7 1332.8 454.7 1333.8 454.7C1334.8 454.7 1335.8 454.7 1336.8 454.7C1337.8 454.7 1338.8 454.7 1339.8 454.7C1340.8 454.7 1341.8 454.7 1342.8 454.7C1343.8 454.7 1344.8 454.7 1345.8 454.7C1346.8 454.7 1347.8 454.7 1348.8 454.7C1349.8 454.7 1350.8 454.7 1351.8 454.6C1352.8 454.6 1353.8 454.6 1354.8 454.6C1355.8 454.6 1356.8 454.6 1357.8 454.6C1358.8 454.6 1359.8 454.6 1360.8 454.6C1361.8 454.6 1362.8 454.6 1363.8 454.6C1364.8 454.6 1365.8 454.6 1366.8 454.6C1367.8 454.6 1368.8 454.6 1369.8 454.6C1370.8 454.6 1371.8 454.6 1372.8 454.6C1373.8 454.6 1374.8 454.6 1375.8 454.6C1376.8 454.7 1377.8 454.7 1378.8 454.7C1379.8 454.7 1380.8 454.7 1381.8 454.7C1382.8 454.7 1383.8 454.7 1384.8 454.7C1385.8 454.7 1386.8 454.7 1387.8 454.7C1388.8 454.7 1389.8 454.7 1390.8 454.7C1391.8 454.7 1392.8 454.8 1393.8 454.8C1394.8 454.8 1395.8 454.8 1396.8 454.8C1397.8 454.8 1398.8 454.8 1399.8 454.8C1400.8 454.8 1401.8 454.8 1402.8 454.9C1403.8 454.9 1404.8 454.9 1405.8 454.9C1406.8 454.9 1407.8 454.9 1408.8 454.9C1409.8 455.0 1410.8 455.0 1411.8 455.0C1412.8 455.0 1413.8 455.0 1414.8 455.0C1415.8 455.1 1416.8 455.1 1417.8 455.1C1418.8 455.1 1419.8 455.1 1420.8 455.2C1421.8 455.2 1422.8 455.2 1423.8 455.3C1424.8 455.3 1425.8 455.4 1426.8 455.4C1427.8 455.5 1428.8 455.6 1429.8 455.7C1430.8 455.8 1431.8 455.9 1432.8 456.0C1433.8 456.1 1434.8 456.2 1435.8 456.4C1436.8 456.5 1437.8 456.7 1438.8 456.8C1439.8 457.0 1440.8 457.1 1441.8 457.3C1442.8 457.4 1443.8 457.6 1444.8 457.7C1445.8 457.9 1446.8 458.1 1447.8 458.2C1448.8 458.4 1449.8 458.5 1450.8 458.7C1451.8 458.8 1452.8 459.0 1453.8 459.1C1454.8 459.3 1455.8 459.4 1456.8 459.6C1457.8 459.7 1458.8 459.9 1459.8 460.0C1460.8 460.2 1461.8 460.3 1462.8 460.4C1463.8 460.5 1464.8 460.6 1465.8 460.7C1466.8 460.9 1467.8 461.0 1468.8 461.2C1469.8 461.4 1470.8 461.6 1471.8 462.0C1472.8 462.3 1473.8 462.7 1474.8 463.2C1475.8 463.7 1476.8 464.2 1477.8 464.8C1478.8 465.4 1479.8 466.1 1480.8 466.8C1481.8 467.5 1482.8 468.3 1483.8 469.1C1484.8 470.0 1485.8 470.9 1486.8 472.1C1487.8 473.2 1488.8 474.4 1489.8 475.8C1490.8 477.1 1491.8 478.7 1492.8 480.3C1493.8 482.0 1494.8 483.8 1495.8 485.6C1496.8 487.5 1497.8 489.5 1498.8 491.7C1499.8 493.8 1500.8 496.1 1501.8 498.4C1502.8 500.8 1503.8 503.3 1504.8 505.8C1505.8 508.3 1506.8 510.9 1507.8 513.5C1508.8 516.1 1509.8 518.7 1510.8 521.2C1511.8 523.7 1512.8 526.3 1513.8 528.7C1514.8 531.0 1515.8 533.3 1516.8 535.4C1517.8 537.4 1518.8 539.3 1519.8 541.0C1520.8 542.7 1521.8 544.2 1522.8 545.5C1523.8 546.8 1524.8 547.8 1525.8 548.6C1526.8 549.4 1527.8 550.0 1528.8 550.3C1529.8 550.6 1530.8 550.5 1531.8 550.5C1532.8 550.5 1533.8 550.0 1534.8 549.3C1535.8 548.5 1536.8 547.6 1537.8 546.2C1538.8 544.7 1539.8 542.9 1540.8 540.7C1541.8 538.6 1542.8 535.8 1543.8 533.1C1544.8 530.4 1545.8 527.4 1546.8 524.5C1547.8 521.7 1548.8 518.8 1549.8 515.9C1550.8 513.0 1551.8 510.1 1552.8 507.3C1553.8 504.5 1554.8 501.7 1555.8 499.0C1556.8 496.3 1557.8 493.6 1558.8 491.2C1559.8 488.8 1560.8 486.5 1561.8 484.5C1562.8 482.6 1563.8 480.9 1564.8 479.4C1565.8 477.9 1566.8 476.6 1567.8 475.4C1568.8 474.2 1569.8 473.2 1570.8 472.2C1571.8 471.2 1572.8 470.4 1573.8 469.5C1574.8 468.7 1575.8 468.0 1576.8 467.3C1577.8 466.7 1578.8 466.1 1579.8 465.5C1580.8 465.0 1581.8 464.5 1582.8 464.0C1583.8 463.5 1584.8 463.1 1585.8 462.7C1586.8 462.3 1587.8 462.0 1588.8 461.7C1589.8 461.4 1590.8 461.1 1591.8 460.9C1592.8 460.7 1593.8 460.6 1594.8 460.5C1595.8 460.4 1596.8 460.4 1597.8 460.4C1598.8 460.4 1599.8 460.5 1600.8 460.7C1601.8 460.9 1602.8 461.1 1603.8 461.4C1604.8 461.8 1605.8 462.2 1606.8 462.7C1607.8 463.3 1608.8 463.9 1609.8 464.7C1610.8 465.5 1611.8 466.4 1612.8 467.5C1613.8 468.6 1614.8 469.9 1615.8 471.3C1616.8 472.6 1617.8 474.1 1618.8 475.7C1619.8 477.3 1620.8 479.1 1621.8 480.9C1622.8 482.8 1623.8 484.9 1624.8 486.9C1625.8 488.9 1626.8 491.0 1627.8 493.0C1628.8 495.0 1629.8 497.1 1630.8 498.9C1631.8 500.8 1632.8 502.6 1633.8 504.2C1634.8 505.8 1635.8 507.3 1636.8 508.6C1637.8 509.9 1638.8 511.1 1639.8 512.1C1640.8 513.0 1641.8 513.9 1642.8 514.3C1643.8 514.7 1644.8 514.6 1645.8 514.6C1646.8 514.6 1647.8 513.9 1648.8 513.2C1649.8 512.6 1650.8 511.7 1651.8 510.8C1652.8 510.0 1653.8 509.1 1654.8 508.2C1655.8 507.3 1656.8 506.4 1657.8 505.4C1658.8 504.5 1659.8 503.4 1660.8 502.5C1661.8 501.6 1662.8 500.6 1663.8 500.0C1664.8 499.3 1665.8 498.6 1666.8 498.6C1667.8 498.6 1668.8 498.4 1669.8 498.7C1670.8 498.9 1671.8 499.4 1672.8 500.1C1673.8 500.7 1674.8 501.6 1675.8 502.6C1676.8 503.7 1677.8 505.0 1678.8 506.4C1679.8 507.9 1680.8 509.8 1681.8 511.5C1682.8 513.2 1683.8 515.1 1684.8 516.8C1685.8 518.5 1686.8 520.1 1687.8 521.7C1688.8 523.2 1689.8 524.8 1690.8 526.1C1691.8 527.3 1692.8 528.6 1693.8 529.4C1694.8 530.1 1695.8 530.6 1696.8 530.6C1697.8 530.6 1698.8 530.2 1699.8 529.7C1700.8 529.1 1701.8 528.3 1702.8 527.3C1703.8 526.3 1704.8 525.1 1705.8 523.7C1706.8 522.3 1707.8 520.6 1708.8 518.8C1709.8 517.0 1710.8 514.8 1711.8 512.8C1712.8 510.7 1713.8 508.5 1714.8 506.6C1715.8 504.6 1716.8 502.6 1717.8 500.9C1718.8 499.2 1719.8 497.5 1720.8 496.3C1721.8 495.1 1722.8 494.2 1723.8 493.5C1724.8 492.8 1725.8 492.5 1726.8 492.3C1727.8 492.0 1728.8 491.9 1729.8 491.9C1730.8 491.9 1731.8 491.9 1732.8 492.0C1733.8 492.0 1734.8 492.1 1735.8 492.3C1736.8 492.4 1737.8 492.7 1738.8 493.0C1739.8 493.2 1740.8 493.6 1741.8 494.0C1742.8 494.5 1743.8 495.0 1744.8 495.5C1745.8 496.1 1746.8 496.8 1747.8 497.4C1748.8 498.0 1749.8 498.7 1750.8 499.4C1751.8 500.1 1752.8 500.7 1753.8 501.4C1754.8 502.0 1755.8 502.7 1756.8 503.3C1757.8 504.0 1758.8 504.6 1759.8 505.2C1760.8 505.9 1761.8 506.5 1762.8 507.1C1763.8 507.7 1764.8 508.2 1765.8 508.8C1766.8 509.4 1767.8 510.0 1768.8 510.5C1769.8 511.1 1770.8 511.6 1771.8 512.1C1772.8 512.5 1773.8 512.9 1774.8 513.1C1775.8 513.3 1776.8 513.4 1777.8 513.4C1778.8 513.4 1779.8 513.2 1780.8 513.0C1781.8 512.8 1782.8 512.4 1783.8 512.1C1784.8 511.8 1785.8 511.4 1786.8 511.0C1787.8 510.6 1788.8 510.2 1789.8 509.8C1790.8 509.5 1791.8 509.1 1792.8 508.7C1793.8 508.3 1794.8 507.8 1795.8 507.4C1796.8 507.0 1797.8 506.5 1798.8 506.0C1799.8 505.6 1800.8 505.1 1801.8 504.7C1802.8 504.3 1803.8 503.9 1804.8 503.6C1805.8 503.3 1806.8 503.0 1807.8 502.8C1808.8 502.6 1809.8 502.5 1810.8 502.5C1811.8 502.5 1812.8 502.6 1813.8 502.7C1814.8 502.8 1815.8 503.0 1816.8 503.3C1817.8 503.5 1818.8 503.8 1819.8 504.1C1820.8 504.4 1821.8 504.7 1822.8 505.1C1823.8 505.6 1824.8 506.0 1825.8 506.6C1826.8 507.1 1827.8 507.8 1828.8 508.4C1829.8 509.0 1830.8 509.7 1831.8 510.2C1832.8 510.8 1833.8 511.4 1834.8 511.8C1835.8 512.1 1836.8 512.5 1837.8 512.5C1838.8 512.5 1839.8 512.6 1840.8 512.3C1841.8 512.1 1842.8 511.7 1843.8 511.1C1844.8 510.6 1845.8 510.0 1846.8 509.2C1847.8 508.5 1848.8 507.6 1849.8 506.7C1850.8 505.8 1851.8 504.7 1852.8 503.6C1853.8 502.5 1854.8 501.3 1855.8 500.0C1856.8 498.7 1857.8 497.4 1858.8 495.9C1859.8 494.5 1860.8 492.9 1861.8 491.4C1862.8 489.8 1863.8 488.1 1864.8 486.5C1865.8 485.0 1866.8 483.4 1867.8 482.0C1868.8 480.5 1869.8 479.1 1870.8 477.7C1871.8 476.4 1872.8 475.0 1873.8 473.8C1874.8 472.5 1875.8 471.3 1876.8 470.2C1877.8 469.0 1878.8 468.0 1879.8 467.0C1880.8 466.0 1881.8 465.2 1882.8 464.4C1883.8 463.6 1884.8 463.0 1885.8 462.4C1886.8 461.7 1887.8 461.2 1888.8 460.8C1889.8 460.3 1890.8 459.9 1891.8 459.6C1892.8 459.2 1893.8 458.9 1894.8 458.7C1895.8 458.5 1896.8 458.3 1897.8 458.2C1898.8 458.1 1899.8 458.0 1900.8 457.9C1901.8 457.8 1902.8 457.8 1903.8 457.8C1904.8 457.8 1905.8 457.7 1906.8 457.7C1907.8 457.7 1908.8 457.6 1909.8 457.6C1910.8 457.6 1911.8 457.5 1912.8 457.4C1913.8 457.4 1914.8 457.3 1915.8 457.3C1916.8 457.2 1917.8 457.1 1918.8 457.1C1919.8 457.0 1920.8 457.0 1921.8 456.9C1922.8 456.8 1923.8 456.8 1924.8 456.7C1925.8 456.7 1926.8 456.6 1927.8 456.6C1928.8 456.6 1929.8 456.5 1930.8 456.5C1931.8 456.4 1932.8 456.4 1933.8 456.3C1934.8 456.3 1935.8 456.3 1936.8 456.2C1937.8 456.2 1938.8 456.2 1939.8 456.2C1940.8 456.2 1941.8 456.2 1942.8 456.2C1943.8 456.2 1944.8 456.3 1945.8 456.3C1946.8 456.3 1947.8 456.3 1948.8 456.4C1949.8 456.4 1950.8 456.4 1951.8 456.4C1952.8 456.5 1953.8 456.4 1954.8 456.4C1955.8 456.4 1956.8 456.4 1957.8 456.4C1958.8 456.3 1959.8 456.2 1960.8 456.1C1961.8 456.0 1962.8 455.8 1963.8 455.6C1964.8 455.4 1965.8 455.1 1966.8 454.9C1967.8 454.6 1968.8 454.3 1969.8 454.0C1970.8 453.8 1971.8 453.5 1972.8 453.3C1973.3 453.1 1973.8 453.1 1974.3 453.0" fill="none" stroke="#800000" stroke-width="7" stroke-linejoin="round" stroke-linecap="butt"/>
<path d="M124.8 598.3C125.8 598.3 126.8 598.2 127.8 598.2C128.8 598.1 129.8 598.0 130.8 597.9C131.8 597.8 132.8 597.7 133.8 597.6C134.8 597.5 135.8 597.4 136.8 597.3C137.8 597.3 138.8 597.2 139.8 597.1C140.8 597.0 141.8 596.9 142.8 596.8C143.8 596.8 144.8 596.7 145.8 596.6C146.8 596.6 147.8 596.5 148.8 596.5C149.8 596.5 150.8 596.4 151.8 596.4C152.8 596.4 153.8 596.4 154.8 596.5C155.8 596.5 156.8 596.5 157.8 596.6C158.8 596.6 159.8 596.7 160.8 596.8C161.8 596.9 162.8 597.0 163.8 597.1C164.8 597.2 165.8 597.3 166.8 597.4C167.8 597.5 168.8 597.6 169.8 597.7C170.8 597.8 171.8 597.9 172.8 598.1C173.8 598.2 174.8 598.3 175.8 598.4C176.8 598.5 177.8 598.6 178.8 598.7C179.8 598.7 180.8 598.8 181.8 598.9C182.8 598.9 183.8 599.0 184.8 599.1C185.8 599.1 186.8 599.2 187.8 599.2C188.8 599.3 189.8 599.3 190.8 599.4C191.8 599.4 192.8 599.5 193.8 599.5C194.8 599.6 195.8 599.6 196.8 599.7C197.8 599.7 198.8 599.8 199.8 599.8C200.8 599.8 201.8 599.9 202.8 599.9C203.8 600.0 204.8 600.0 205.8 600.0C206.8 600.1 207.8 600.1 208.8 600.1C209.8 600.2 210.8 600.2 211.8 600.2C212.8 600.3 213.8 600.3 214.8 600.3C215.8 600.3 216.8 600.4 217.8 600.4C218.8 600.4 219.8 600.4 220.8 600.5C221.8 600.5 222.8 600.5 223.8 600.5C224.8 600.5 225.8 600.5 226.8 600.6C227.8 600.6 228.8 600.6 229.8 600.6C230.8 600.6 231.8 600.6 232.8 600.6C233.8 600.6 234.8 600.7 235.8 600.7C236.8 600.7 237.8 600.7 238.8 600.7C239.8 600.7 240.8 600.7 241.8 600.7C242.8 600.8 243.8 600.8 244.8 600.8C245.8 600.8 246.8 600.8 247.8 600.8C248.8 600.8 249.8 600.8 250.8 600.8C251.8 600.8 252.8 600.8 253.8 600.9C254.8 600.9 255.8 600.9 256.8 600.9C257.8 600.9 258.8 600.9 259.8 600.9C260.8 600.9 261.8 600.9 262.8 600.9C263.8 600.9 264.8 600.9 265.8 600.9C266.8 601.0 267.8 601.0 268.8 601.0C269.8 601.0 270.8 601.0 271.8 601.0C272.8 601.0 273.8 601.0 274.8 601.0C275.8 601.0 276.8 601.0 277.8 601.0C278.8 601.0 279.8 601.0 280.8 601.0C281.8 601.0 282.8 601.0 283.8 601.0C284.8 601.0 285.8 601.0 286.8 601.0C287.8 601.0 288.8 601.1 289.8 601.1C290.8 601.1 291.8 601.1 292.8 601.1C293.8 601.1 294.8 601.1 295.8 601.1C296.8 601.1 297.8 601.1 298.8 601.1C299.8 601.1 300.8 601.1 301.8 601.1C302.8 601.1 303.8 601.1 304.8 601.1C305.8 601.1 306.8 601.1 307.8 601.1C308.8 601.1 309.8 601.1 310.8 601.1C311.8 601.1 312.8 601.1 313.8 601.1C314.8 601.1 315.8 601.1 316.8 601.1C317.8 601.1 318.8 601.1 319.8 601.1C320.8 601.1 321.8 601.1 322.8 601.1C323.8 601.1 324.8 601.1 325.8 601.1C326.8 601.1 327.8 601.1 328.8 601.1C329.8 601.1 330.8 601.1 331.8 601.1C332.8 601.1 333.8 601.1 334.8 601.1C335.8 601.1 336.8 601.1 337.8 601.1C338.8 601.1 339.8 601.1 340.8 601.1C341.8 601.1 342.8 601.1 343.8 601.1C344.8 601.1 345.8 601.1 346.8 601.1C347.8 601.1 348.8 601.1 349.8 601.1C350.8 601.1 351.8 601.1 352.8 601.1C353.8 601.0 354.8 601.0 355.8 601.0C356.8 601.0 357.8 601.0 358.8 601.0C359.8 601.0 360.8 601.0 361.8 601.0C362.8 601.0 363.8 601.0 364.8 601.0C365.8 601.0 366.8 601.0 367.8 601.0C368.8 601.0 369.8 601.0 370.8 601.0C371.8 601.0 372.8 601.0 373.8 601.0C374.8 601.0 375.8 601.0 376.8 601.0C377.8 601.0 378.8 601.0 379.8 601.0C380.8 601.0 381.8 601.0 382.8 600.9C383.8 600.9 384.8 600.9 385.8 600.9C386.8 600.9 387.8 600.9 388.8 600.9C389.8 600.9 390.8 600.9 391.8 600.9C392.8 600.9 393.8 600.9 394.8 600.9C395.8 600.9 396.8 600.9 397.8 600.9C398.8 600.9 399.8 600.9 400.8 600.9C401.8 600.9 402.8 600.9 403.8 600.9C404.8 600.9 405.8 600.9 406.8 600.9C407.8 600.9 408.8 600.9 409.8 600.9C410.8 600.9 411.8 600.9 412.8 601.0C413.8 601.0 414.8 601.1 415.8 601.1C416.8 601.2 417.8 601.2 418.8 601.3C419.8 601.4 420.8 601.4 421.8 601.5C422.8 601.6 423.8 601.7 424.8 601.8C425.8 601.8 426.8 601.9 427.8 602.0C428.8 602.1 429.8 602.2 430.8 602.3C431.8 602.4 432.8 602.5 433.8 602.5C434.8 602.6 435.8 602.7 436.8 602.8C437.8 602.9 438.8 602.9 439.8 603.0C440.8 603.0 441.8 603.1 442.8 603.2C443.8 603.2 444.8 603.2 445.8 603.3C446.8 603.3 447.8 603.4 448.8 603.4C449.8 603.5 450.8 603.5 451.8 603.5C452.8 603.6 453.8 603.6 454.8 603.6C455.8 603.7 456.8 603.7 457.8 603.8C458.8 603.8 459.8 603.9 460.8 603.9C461.8 604.0 462.8 604.0 463.8 604.1C464.8 604.1 465.8 604.2 466.8 604.3C467.8 604.3 468.8 604.4 469.8 604.5C470.8 604.6 471.8 604.7 472.8 604.8C473.8 604.9 474.8 605.0 475.8 605.1C476.8 605.2 477.8 605.4 478.8 605.5C479.8 605.6 480.8 605.8 481.8 605.9C482.8 606.0 483.8 606.2 484.8 606.3C485.8 606.5 486.8 606.6 487.8 606.8C488.8 606.9 489.8 607.0 490.8 607.2C491.8 607.3 492.8 607.5 493.8 607.6C494.8 607.8 495.8 607.9 496.8 608.1C497.8 608.2 498.8 608.4 499.8 608.5C500.8 608.7 501.8 608.8 502.8 608.9C503.8 609.1 504.8 609.2 505.8 609.3C506.8 609.5 507.8 609.6 508.8 609.7C509.8 609.9 510.8 610.0 511.8 610.1C512.8 610.3 513.8 610.4 514.8 610.5C515.8 610.7 516.8 610.8 517.8 611.0C518.8 611.1 519.8 611.3 520.8 611.4C521.8 611.6 522.8 611.8 523.8 612.0C524.8 612.1 525.8 612.3 526.8 612.5C527.8 612.7 528.8 612.9 529.8 613.2C530.8 613.4 531.8 613.6 532.8 613.8C533.8 614.1 534.8 614.3 535.8 614.6C536.8 614.9 537.8 615.1 538.8 615.4C539.8 615.6 540.8 615.9 541.8 616.1C542.8 616.4 543.8 616.6 544.8 616.9C545.8 617.1 546.8 617.4 547.8 617.6C548.8 617.8 549.8 618.1 550.8 618.3C551.8 618.6 552.8 618.8 553.8 619.1C554.8 619.4 555.8 619.7 556.8 620.0C557.8 620.4 558.8 620.7 559.8 621.1C560.8 621.5 561.8 621.9 562.8 622.4C563.8 622.9 564.8 623.4 565.8 623.9C566.8 624.4 567.8 625.0 568.8 625.6C569.8 626.2 570.8 626.9 571.8 627.6C572.8 628.3 573.8 629.1 574.8 629.9C575.8 630.8 576.8 631.7 577.8 632.7C578.8 633.6 579.8 634.6 580.8 635.6C581.8 636.7 582.8 637.7 583.8 638.7C584.8 639.8 585.8 640.9 586.8 641.9C587.8 643.0 588.8 644.1 589.8 645.3C590.8 646.4 591.8 647.5 592.8 648.7C593.8 649.9 594.8 651.2 595.8 652.4C596.8 653.7 597.8 655.0 598.8 656.3C599.8 657.6 600.8 659.1 601.8 660.3C602.8 661.6 603.8 663.0 604.8 663.8C605.8 664.7 606.8 665.7 607.8 665.7C608.8 665.7 609.8 665.7 610.8 665.3C611.8 664.9 612.8 664.0 613.8 663.3C614.8 662.6 615.8 661.7 616.8 660.9C617.8 660.1 618.8 659.3 619.8 658.5C620.8 657.7 621.8 657.0 622.8 656.2C623.8 655.4 624.8 654.6 625.8 653.8C626.8 653.0 627.8 652.1 628.8 651.4C629.8 650.7 630.8 649.9 631.8 649.4C632.8 648.9 633.8 648.7 634.8 648.7C635.8 648.7 636.8 649.3 637.8 650.0C638.8 650.7 639.8 651.9 640.8 653.1C641.8 654.2 642.8 655.6 643.8 656.9C644.8 658.2 645.8 659.5 646.8 660.8C647.8 662.2 648.8 663.5 649.8 665.0C650.8 666.4 651.8 667.9 652.8 669.5C653.8 671.1 654.8 672.9 655.8 674.7C656.8 676.6 657.8 678.6 658.8 680.6C659.8 682.7 660.8 684.8 661.8 686.8C662.8 688.8 663.8 690.7 664.8 692.5C665.8 694.3 666.8 696.0 667.8 697.6C668.8 699.2 669.8 700.8 670.8 702.2C671.8 703.7 672.8 705.2 673.8 706.5C674.8 707.8 675.8 709.1 676.8 710.3C677.8 711.5 678.8 712.6 679.8 713.5C680.8 714.5 681.8 715.4 682.8 716.2C683.8 717.1 684.8 717.8 685.8 718.4C686.8 719.0 687.8 719.5 688.8 719.8C689.8 720.0 690.8 720.0 691.8 720.0C692.8 720.0 693.8 719.7 694.8 719.5C695.8 719.3 696.8 719.0 697.8 718.7C698.8 718.4 699.8 718.0 700.8 717.7C701.8 717.5 702.8 717.2 703.8 716.9C704.8 716.6 705.8 716.3 706.8 716.0C707.8 715.7 708.8 715.4 709.8 715.2C710.8 714.9 711.8 714.7 712.8 714.5C713.8 714.3 714.8 714.1 715.8 714.1C716.8 714.1 717.8 714.0 718.8 714.2C719.8 714.3 720.8 714.5 721.8 714.7C722.8 715.0 723.8 715.4 724.8 715.7C725.8 716.1 726.8 716.5 727.8 717.0C728.8 717.4 729.8 717.9 730.8 718.4C731.8 718.9 732.8 719.4 733.8 720.0C734.8 720.5 735.8 721.2 736.8 721.8C737.8 722.4 738.8 723.1 739.8 723.7C740.8 724.3 741.8 724.9 742.8 725.4C743.8 725.9 744.8 726.4 745.8 726.8C746.8 727.3 747.8 727.7 748.8 728.1C749.8 728.4 750.8 728.8 751.8 729.0C752.8 729.3 753.8 729.5 754.8 729.6C755.8 729.7 756.8 729.6 757.8 729.6C758.8 729.6 759.8 729.3 760.8 729.1C761.8 728.8 762.8 728.4 763.8 728.0C764.8 727.5 765.8 727.0 766.8 726.3C767.8 725.5 768.8 724.7 769.8 723.4C770.8 722.2 771.8 720.5 772.8 718.9C773.8 717.3 774.8 715.4 775.8 713.8C776.8 712.2 777.8 710.7 778.8 709.2C779.8 707.7 780.8 706.2 781.8 704.7C782.8 703.2 783.8 701.7 784.8 700.2C785.8 698.6 786.8 697.1 787.8 695.5C788.8 693.9 789.8 692.3 790.8 690.7C791.8 689.1 792.8 687.5 793.8 685.9C794.8 684.3 795.8 682.7 796.8 681.1C797.8 679.5 798.8 677.9 799.8 676.4C800.8 674.8 801.8 673.2 802.8 671.6C803.8 670.1 804.8 668.5 805.8 667.0C806.8 665.6 807.8 664.2 808.8 662.9C809.8 661.6 810.8 660.5 811.8 659.3C812.8 658.2 813.8 657.2 814.8 656.2C815.8 655.3 816.8 654.4 817.8 653.6C818.8 652.8 819.8 652.0 820.8 651.3C821.8 650.6 822.8 649.9 823.8 649.3C824.8 648.7 825.8 648.2 826.8 647.7C827.8 647.2 828.8 646.8 829.8 646.6C830.8 646.3 831.8 646.1 832.8 646.1C833.8 646.1 834.8 646.2 835.8 646.4C836.8 646.6 837.8 647.0 838.8 647.3C839.8 647.7 840.8 648.2 841.8 648.7C842.8 649.2 843.8 649.7 844.8 650.3C845.8 650.8 846.8 651.4 847.8 652.0C848.8 652.6 849.8 653.3 850.8 654.0C851.8 654.6 852.8 655.4 853.8 656.1C854.8 656.8 855.8 657.6 856.8 658.3C857.8 659.1 858.8 659.8 859.8 660.6C860.8 661.4 861.8 662.1 862.8 662.9C863.8 663.7 864.8 664.5 865.8 665.3C866.8 666.2 867.8 667.1 868.8 668.0C869.8 669.0 870.8 670.0 871.8 671.0C872.8 672.0 873.8 673.1 874.8 674.2C875.8 675.3 876.8 676.4 877.8 677.6C878.8 678.8 879.8 680.0 880.8 681.3C881.8 682.5 882.8 683.8 883.8 685.2C884.8 686.6 885.8 688.1 886.8 689.7C887.8 691.2 888.8 693.0 889.8 694.5C890.8 696.1 891.8 697.7 892.8 699.1C893.8 700.5 894.8 701.7 895.8 702.8C896.8 703.9 897.8 704.7 898.8 705.5C899.8 706.3 900.8 706.9 901.8 707.5C902.8 708.1 903.8 708.6 904.8 709.1C905.8 709.5 906.8 709.9 907.8 710.2C908.8 710.5 909.8 710.8 910.8 711.0C911.8 711.2 912.8 711.3 913.8 711.3C914.8 711.3 915.8 711.4 916.8 711.3C917.8 711.2 918.8 711.1 919.8 710.9C920.8 710.7 921.8 710.4 922.8 710.0C923.8 709.7 924.8 709.3 925.8 708.9C926.8 708.5 927.8 708.0 928.8 707.5C929.8 707.1 930.8 706.6 931.8 706.1C932.8 705.6 933.8 705.1 934.8 704.5C935.8 703.9 936.8 703.3 937.8 702.7C938.8 702.0 939.8 701.3 940.8 700.5C941.8 699.7 942.8 698.9 943.8 697.9C944.8 697.0 945.8 696.0 946.8 694.8C947.8 693.7 948.8 692.5 949.8 691.3C950.8 690.0 951.8 688.7 952.8 687.5C953.8 686.2 954.8 685.0 955.8 683.8C956.8 682.6 957.8 681.4 958.8 680.2C959.8 679.0 960.8 677.9 961.8 676.7C962.8 675.6 963.8 674.4 964.8 673.3C965.8 672.1 966.8 670.9 967.8 669.8C968.8 668.7 969.8 667.5 970.8 666.4C971.8 665.2 972.8 664.1 973.8 663.0C974.8 661.9 975.8 660.7 976.8 659.6C977.8 658.5 978.8 657.4 979.8 656.3C980.8 655.2 981.8 654.1 982.8 653.0C983.8 651.8 984.8 650.7 985.8 649.6C986.8 648.5 987.8 647.4 988.8 646.3C989.8 645.2 990.8 644.1 991.8 643.1C992.8 642.0 993.8 640.9 994.8 639.9C995.8 638.9 996.8 637.9 997.8 636.9C998.8 635.9 999.8 634.9 1000.8 634.0C1001.8 633.1 1002.8 632.3 1003.8 631.4C1004.8 630.6 1005.8 629.8 1006.8 629.1C1007.8 628.4 1008.8 627.7 1009.8 627.0C1010.8 626.4 1011.8 625.7 1012.8 625.1C1013.8 624.5 1014.8 623.9 1015.8 623.3C1016.8 622.7 1017.8 622.1 1018.8 621.5C1019.8 621.0 1020.8 620.4 1021.8 619.9C1022.8 619.4 1023.8 618.8 1024.8 618.3C1025.8 617.9 1026.8 617.4 1027.8 616.9C1028.8 616.5 1029.8 616.0 1030.8 615.6C1031.8 615.2 1032.8 614.8 1033.8 614.4C1034.8 614.1 1035.8 613.7 1036.8 613.4C1037.8 613.1 1038.8 612.8 1039.8 612.5C1040.8 612.2 1041.8 611.9 1042.8 611.7C1043.8 611.4 1044.8 611.1 1045.8 610.8C1046.8 610.6 1047.8 610.3 1048.8 610.1C1049.8 609.8 1050.8 609.5 1051.8 609.3C1052.8 609.0 1053.8 608.8 1054.8 608.5C1055.8 608.3 1056.8 608.0 1057.8 607.8C1058.8 607.6 1059.8 607.3 1060.8 607.1C1061.8 606.9 1062.8 606.6 1063.8 606.4C1064.8 606.2 1065.8 605.9 1066.8 605.7C1067.8 605.5 1068.8 605.3 1069.8 605.1C1070.8 604.9 1071.8 604.8 1072.8 604.7C1073.8 604.5 1074.8 604.4 1075.8 604.3C1076.8 604.2 1077.8 604.0 1078.8 603.9C1079.8 603.7 1080.8 603.6 1081.8 603.4C1082.8 603.3 1083.8 603.1 1084.8 602.9C1085.8 602.8 1086.8 602.6 1087.8 602.5C1088.8 602.3 1089.8 602.2 1090.8 602.0C1091.8 601.8 1092.8 601.7 1093.8 601.5C1094.8 601.4 1095.8 601.2 1096.8 601.1C1097.8 600.9 1098.8 600.7 1099.8 600.6C1100.8 600.4 1101.8 600.3 1102.8 600.1C1103.8 600.0 1104.8 599.8 1105.8 599.7C1106.8 599.6 1107.8 599.4 1108.8 599.3C1109.8 599.2 1110.8 599.0 1111.8 598.9C1112.8 598.8 1113.8 598.6 1114.8 598.5C1115.8 598.4 1116.8 598.3 1117.8 598.2C1118.8 598.1 1119.8 598.0 1120.8 597.9C1121.8 597.8 1122.8 597.7 1123.8 597.6C1124.8 597.6 1125.8 597.5 1126.8 597.4C1127.8 597.3 1128.8 597.3 1129.8 597.2C1130.8 597.1 1131.8 597.1 1132.8 597.0C1133.8 596.9 1134.8 596.9 1135.8 596.8C1136.8 596.8 1137.8 596.7 1138.8 596.7C1139.8 596.6 1140.8 596.6 1141.8 596.5C1142.8 596.5 1143.8 596.5 1144.8 596.4C1145.8 596.4 1146.8 596.4 1147.8 596.3C1148.8 596.3 1149.8 596.2 1150.8 596.2C1151.8 596.2 1152.8 596.2 1153.8 596.1C1154.8 596.1 1155.8 596.1 1156.8 596.0C1157.8 596.0 1158.8 596.0 1159.8 596.0C1160.8 595.9 1161.8 595.9 1162.8 595.9C1163.8 595.9 1164.8 595.8 1165.8 595.8C1166.8 595.8 1167.8 595.8 1168.8 595.7C1169.8 595.7 1170.8 595.7 1171.8 595.7C1172.8 595.6 1173.8 595.6 1174.8 595.6C1175.8 595.6 1176.8 595.5 1177.8 595.5C1178.8 595.5 1179.8 595.4 1180.8 595.4C1181.8 595.4 1182.8 595.4 1183.8 595.3C1184.8 595.3 1185.8 595.2 1186.8 595.2C1187.8 595.2 1188.8 595.1 1189.8 595.1C1190.8 595.0 1191.8 595.0 1192.8 595.0C1193.8 594.9 1194.8 594.9 1195.8 594.8C1196.8 594.8 1197.8 594.8 1198.8 594.7C1199.8 594.7 1200.8 594.6 1201.8 594.6C1202.8 594.5 1203.8 594.5 1204.8 594.4C1205.8 594.4 1206.8 594.3 1207.8 594.3C1208.8 594.3 1209.8 594.2 1210.8 594.2C1211.8 594.1 1212.8 594.1 1213.8 594.0C1214.8 594.0 1215.8 593.9 1216.8 593.9C1217.8 593.9 1218.8 593.8 1219.8 593.8C1220.8 593.7 1221.8 593.7 1222.8 593.6C1223.8 593.6 1224.8 593.6 1225.8 593.5C1226.8 593.5 1227.8 593.5 1228.8 593.4C1229.8 593.4 1230.8 593.3 1231.8 593.3C1232.8 593.3 1233.8 593.2 1234.8 593.2C1235.8 593.2 1236.8 593.1 1237.8 593.1C1238.8 593.1 1239.8 593.1 1240.8 593.0C1241.8 593.0 1242.8 593.0 1243.8 593.0C1244.8 592.9 1245.8 592.9 1246.8 592.9C1247.8 592.9 1248.8 592.9 1249.8 592.9C1250.8 592.8 1251.8 592.8 1252.8 592.8C1253.8 592.8 1254.8 592.8 1255.8 592.8C1256.8 592.8 1257.8 592.8 1258.8 592.8C1259.8 592.9 1260.8 592.9 1261.8 593.0C1262.8 593.0 1263.8 593.1 1264.8 593.2C1265.8 593.3 1266.8 593.4 1267.8 593.5C1268.8 593.6 1269.8 593.7 1270.8 593.9C1271.8 594.0 1272.8 594.1 1273.8 594.2C1274.8 594.3 1275.8 594.4 1276.8 594.5C1277.8 594.6 1278.8 594.6 1279.8 594.7C1280.8 594.7 1281.8 594.8 1282.8 594.8C1283.8 594.8 1284.8 594.8 1285.8 594.8C1286.8 594.8 1287.8 594.7 1288.8 594.7C1289.8 594.7 1290.8 594.6 1291.8 594.6C1292.8 594.6 1293.8 594.5 1294.8 594.5C1295.8 594.4 1296.8 594.4 1297.8 594.3C1298.8 594.3 1299.8 594.2 1300.8 594.1C1301.8 594.1 1302.8 594.0 1303.8 593.9C1304.8 593.9 1305.8 593.8 1306.8 593.7C1307.8 593.7 1308.8 593.6 1309.8 593.5C1310.8 593.5 1311.8 593.4 1312.8 593.3C1313.8 593.3 1314.8 593.2 1315.8 593.1C1316.8 593.1 1317.8 593.0 1318.8 592.9C1319.8 592.9 1320.8 592.8 1321.8 592.8C1322.8 592.7 1323.8 592.7 1324.8 592.6C1325.8 592.6 1326.8 592.5 1327.8 592.5C1328.8 592.4 1329.8 592.4 1330.8 592.4C1331.8 592.4 1332.8 592.3 1333.8 592.3C1334.8 592.3 1335.8 592.3 1336.8 592.3C1337.8 592.3 1338.8 592.4 1339.8 592.4C1340.8 592.4 1341.8 592.5 1342.8 592.6C1343.8 592.6 1344.8 592.7 1345.8 592.8C1346.8 592.9 1347.8 593.0 1348.8 593.1C1349.8 593.2 1350.8 593.3 1351.8 593.5C1352.8 593.6 1353.8 593.7 1354.8 593.8C1355.8 593.9 1356.8 594.0 1357.8 594.1C1358.8 594.2 1359.8 594.3 1360.8 594.4C1361.8 594.5 1362.8 594.6 1363.8 594.6C1364.8 594.7 1365.8 594.7 1366.8 594.7C1367.8 594.8 1368.8 594.8 1369.8 594.8C1370.8 594.8 1371.8 594.7 1372.8 594.7C1373.8 594.6 1374.8 594.6 1375.8 594.5C1376.8 594.4 1377.8 594.3 1378.8 594.2C1379.8 594.1 1380.8 594.0 1381.8 593.9C1382.8 593.8 1383.8 593.7 1384.8 593.6C1385.8 593.4 1386.8 593.3 1387.8 593.2C1388.8 593.1 1389.8 593.0 1390.8 592.8C1391.8 592.7 1392.8 592.6 1393.8 592.5C1394.8 592.4 1395.8 592.3 1396.8 592.2C1397.8 592.1 1398.8 592.1 1399.8 592.0C1400.8 591.9 1401.8 591.9 1402.8 591.9C1403.8 591.8 1404.8 591.8 1405.8 591.8C1406.8 591.8 1407.8 591.9 1408.8 591.9C1409.8 591.9 1410.8 592.0 1411.8 592.0C1412.8 592.1 1413.8 592.2 1414.8 592.3C1415.8 592.3 1416.8 592.4 1417.8 592.5C1418.8 592.6 1419.8 592.8 1420.8 592.9C1421.8 593.0 1422.8 593.1 1423.8 593.2C1424.8 593.4 1425.8 593.5 1426.8 593.6C1427.8 593.7 1428.8 593.9 1429.8 594.0C1430.8 594.1 1431.8 594.2 1432.8 594.4C1433.8 594.5 1434.8 594.6 1435.8 594.7C1436.8 594.8 1437.8 594.9 1438.8 595.0C1439.8 595.1 1440.8 595.2 1441.8 595.2C1442.8 595.3 1443.8 595.4 1444.8 595.4C1445.8 595.5 1446.8 595.5 1447.8 595.5C1448.8 595.5 1449.8 595.5 1450.8 595.5C1451.8 595.5 1452.8 595.5 1453.8 595.5C1454.8 595.5 1455.8 595.5 1456.8 595.5C1457.8 595.5 1458.8 595.5 1459.8 595.5C1460.8 595.5 1461.8 595.4 1462.8 595.4C1463.8 595.4 1464.8 595.3 1465.8 595.3C1466.8 595.3 1467.8 595.3 1468.8 595.3C1469.8 595.3 1470.8 595.4 1471.8 595.5C1472.8 595.7 1473.8 595.9 1474.8 596.1C1475.8 596.4 1476.8 596.7 1477.8 597.0C1478.8 597.3 1479.8 597.7 1480.8 598.1C1481.8 598.6 1482.8 599.0 1483.8 599.5C1484.8 600.0 1485.8 600.6 1486.8 601.2C1487.8 601.8 1488.8 602.5 1489.8 603.2C1490.8 604.0 1491.8 604.8 1492.8 605.6C1493.8 606.4 1494.8 607.3 1495.8 608.2C1496.8 609.1 1497.8 610.0 1498.8 611.0C1499.8 611.9 1500.8 613.0 1501.8 614.0C1502.8 615.0 1503.8 616.0 1504.8 617.1C1505.8 618.1 1506.8 619.1 1507.8 620.2C1508.8 621.2 1509.8 622.3 1510.8 623.3C1511.8 624.3 1512.8 625.4 1513.8 626.3C1514.8 627.2 1515.8 628.1 1516.8 628.9C1517.8 629.8 1518.8 630.6 1519.8 631.4C1520.8 632.2 1521.8 632.9 1522.8 633.6C1523.8 634.2 1524.8 634.8 1525.8 635.2C1526.8 635.6 1527.8 635.9 1528.8 635.9C1529.8 635.9 1530.8 635.9 1531.8 635.7C1532.8 635.5 1533.8 635.2 1534.8 634.8C1535.8 634.4 1536.8 633.8 1537.8 633.2C1538.8 632.5 1539.8 631.7 1540.8 630.8C1541.8 629.9 1542.8 628.9 1543.8 627.7C1544.8 626.6 1545.8 625.4 1546.8 624.1C1547.8 622.9 1548.8 621.6 1549.8 620.3C1550.8 618.9 1551.8 617.5 1552.8 616.1C1553.8 614.7 1554.8 613.1 1555.8 611.8C1556.8 610.5 1557.8 609.1 1558.8 608.0C1559.8 606.9 1560.8 605.9 1561.8 605.0C1562.8 604.1 1563.8 603.4 1564.8 602.7C1565.8 602.0 1566.8 601.3 1567.8 600.8C1568.8 600.2 1569.8 599.7 1570.8 599.3C1571.8 598.8 1572.8 598.4 1573.8 598.1C1574.8 597.8 1575.8 597.6 1576.8 597.4C1577.8 597.1 1578.8 597.0 1579.8 596.9C1580.8 596.7 1581.8 596.6 1582.8 596.5C1583.8 596.4 1584.8 596.3 1585.8 596.2C1586.8 596.1 1587.8 596.0 1588.8 595.8C1589.8 595.7 1590.8 595.5 1591.8 595.3C1592.8 595.1 1593.8 595.0 1594.8 594.8C1595.8 594.7 1596.8 594.5 1597.8 594.4C1598.8 594.3 1599.8 594.2 1600.8 594.2C1601.8 594.1 1602.8 594.1 1603.8 594.1C1604.8 594.1 1605.8 594.2 1606.8 594.3C1607.8 594.4 1608.8 594.6 1609.8 594.9C1610.8 595.1 1611.8 595.5 1612.8 596.0C1613.8 596.4 1614.8 597.1 1615.8 597.7C1616.8 598.4 1617.8 599.3 1618.8 600.1C1619.8 601.0 1620.8 601.9 1621.8 602.8C1622.8 603.8 1623.8 604.7 1624.8 605.6C1625.8 606.5 1626.8 607.4 1627.8 608.3C1628.8 609.2 1629.8 610.2 1630.8 611.1C1631.8 612.0 1632.8 612.9 1633.8 613.7C1634.8 614.6 1635.8 615.4 1636.8 616.1C1637.8 616.9 1638.8 617.7 1639.8 618.3C1640.8 619.0 1641.8 619.6 1642.8 620.0C1643.8 620.4 1644.8 620.6 1645.8 620.6C1646.8 620.6 1647.8 620.4 1648.8 620.2C1649.8 619.9 1650.8 619.5 1651.8 619.1C1652.8 618.7 1653.8 618.2 1654.8 617.8C1655.8 617.4 1656.8 616.9 1657.8 616.5C1658.8 616.0 1659.8 615.6 1660.8 615.1C1661.8 614.6 1662.8 614.1 1663.8 613.7C1664.8 613.2 1665.8 612.8 1666.8 612.6C1667.8 612.3 1668.8 612.2 1669.8 612.2C1670.8 612.2 1671.8 612.6 1672.8 612.9C1673.8 613.3 1674.8 613.9 1675.8 614.5C1676.8 615.1 1677.8 615.8 1678.8 616.5C1679.8 617.3 1680.8 618.0 1681.8 618.9C1682.8 619.7 1683.8 620.7 1684.8 621.5C1685.8 622.4 1686.8 623.4 1687.8 624.2C1688.8 625.0 1689.8 625.7 1690.8 626.4C1691.8 627.0 1692.8 627.5 1693.8 627.9C1694.8 628.4 1695.8 628.7 1696.8 628.8C1697.8 629.0 1698.8 628.8 1699.8 628.8C1700.8 628.8 1701.8 628.4 1702.8 628.0C1703.8 627.6 1704.8 627.1 1705.8 626.6C1706.8 626.0 1707.8 625.4 1708.8 624.7C1709.8 624.0 1710.8 623.2 1711.8 622.4C1712.8 621.6 1713.8 620.6 1714.8 619.7C1715.8 618.9 1716.8 618.1 1717.8 617.5C1718.8 616.8 1719.8 616.4 1720.8 616.0C1721.8 615.5 1722.8 615.2 1723.8 614.9C1724.8 614.7 1725.8 614.5 1726.8 614.3C1727.8 614.1 1728.8 614.1 1729.8 614.0C1730.8 613.9 1731.8 614.0 1732.8 614.0C1733.8 614.0 1734.8 614.1 1735.8 614.1C1736.8 614.2 1737.8 614.3 1738.8 614.4C1739.8 614.6 1740.8 614.7 1741.8 614.9C1742.8 615.1 1743.8 615.3 1744.8 615.5C1745.8 615.7 1746.8 615.9 1747.8 616.1C1748.8 616.4 1749.8 616.6 1750.8 616.9C1751.8 617.2 1752.8 617.4 1753.8 617.7C1754.8 618.0 1755.8 618.4 1756.8 618.7C1757.8 619.1 1758.8 619.5 1759.8 619.9C1760.8 620.3 1761.8 620.7 1762.8 621.2C1763.8 621.6 1764.8 622.0 1765.8 622.4C1766.8 622.8 1767.8 623.2 1768.8 623.6C1769.8 623.9 1770.8 624.2 1771.8 624.5C1772.8 624.8 1773.8 625.0 1774.8 625.2C1775.8 625.5 1776.8 625.7 1777.8 625.9C1778.8 626.0 1779.8 626.2 1780.8 626.3C1781.8 626.4 1782.8 626.4 1783.8 626.4C1784.8 626.4 1785.8 626.3 1786.8 626.2C1787.8 626.0 1788.8 625.8 1789.8 625.6C1790.8 625.3 1791.8 625.0 1792.8 624.8C1793.8 624.5 1794.8 624.2 1795.8 623.9C1796.8 623.6 1797.8 623.4 1798.8 623.1C1799.8 622.8 1800.8 622.5 1801.8 622.3C1802.8 622.0 1803.8 621.7 1804.8 621.4C1805.8 621.1 1806.8 620.8 1807.8 620.6C1808.8 620.4 1809.8 620.2 1810.8 620.1C1811.8 620.0 1812.8 619.9 1813.8 619.9C1814.8 619.9 1815.8 620.1 1816.8 620.2C1817.8 620.4 1818.8 620.6 1819.8 620.9C1820.8 621.1 1821.8 621.4 1822.8 621.7C1823.8 622.0 1824.8 622.3 1825.8 622.6C1826.8 622.9 1827.8 623.2 1828.8 623.5C1829.8 623.8 1830.8 624.2 1831.8 624.5C1832.8 624.8 1833.8 625.2 1834.8 625.5C1835.8 625.8 1836.8 626.1 1837.8 626.3C1838.8 626.4 1839.8 626.6 1840.8 626.6C1841.8 626.6 1842.8 626.6 1843.8 626.5C1844.8 626.3 1845.8 626.1 1846.8 625.8C1847.8 625.5 1848.8 625.1 1849.8 624.6C1850.8 624.2 1851.8 623.7 1852.8 623.2C1853.8 622.7 1854.8 622.1 1855.8 621.5C1856.8 620.9 1857.8 620.2 1858.8 619.4C1859.8 618.7 1860.8 617.9 1861.8 617.1C1862.8 616.3 1863.8 615.4 1864.8 614.6C1865.8 613.8 1866.8 612.9 1867.8 612.0C1868.8 611.2 1869.8 610.3 1870.8 609.4C1871.8 608.5 1872.8 607.6 1873.8 606.7C1874.8 605.9 1875.8 605.0 1876.8 604.2C1877.8 603.4 1878.8 602.5 1879.8 601.8C1880.8 601.0 1881.8 600.2 1882.8 599.6C1883.8 598.9 1884.8 598.3 1885.8 597.8C1886.8 597.3 1887.8 596.9 1888.8 596.6C1889.8 596.3 1890.8 596.0 1891.8 595.9C1892.8 595.7 1893.8 595.5 1894.8 595.5C1895.8 595.4 1896.8 595.4 1897.8 595.4C1898.8 595.4 1899.8 595.4 1900.8 595.5C1901.8 595.6 1902.8 595.7 1903.8 595.8C1904.8 595.9 1905.8 596.0 1906.8 596.2C1907.8 596.3 1908.8 596.5 1909.8 596.6C1910.8 596.7 1911.8 596.9 1912.8 597.0C1913.8 597.1 1914.8 597.2 1915.8 597.3C1916.8 597.4 1917.8 597.4 1918.8 597.5C1919.8 597.5 1920.8 597.5 1921.8 597.6C1922.8 597.6 1923.8 597.6 1924.8 597.6C1925.8 597.7 1926.8 597.7 1927.8 597.7C1928.8 597.7 1929.8 597.7 1930.8 597.7C1931.8 597.7 1932.8 597.7 1933.8 597.7C1934.8 597.7 1935.8 597.7 1936.8 597.7C1937.8 597.7 1938.8 597.6 1939.8 597.6C1940.8 597.6 1941.8 597.5 1942.8 597.5C1943.8 597.4 1944.8 597.4 1945.8 597.3C1946.8 597.2 1947.8 597.1 1948.8 597.0C1949.8 596.9 1950.8 596.7 1951.8 596.6C1952.8 596.4 1953.8 596.2 1954.8 596.1C1955.8 595.9 1956.8 595.7 1957.8 595.5C1958.8 595.4 1959.8 595.2 1960.8 595.0C1961.8 594.8 1962.8 594.7 1963.8 594.5C1964.8 594.3 1965.8 594.1 1966.8 593.9C1967.8 593.7 1968.8 593.5 1969.8 593.4C1970.8 593.2 1971.8 593.0 1972.8 592.9C1973.3 592.8 1973.8 592.8 1974.3 592.7" fill="none" stroke="#0000FF" stroke-width="7" stroke-linejoin="round" stroke-linecap="butt"/>
<path d="M124.8 732.4C125.8 732.3 126.8 732.3 127.8 732.3C128.8 732.2 129.8 732.2 130.8 732.1C131.8 732.1 132.8 732.0 133.8 731.9C134.8 731.9 135.8 731.8 136.8 731.8C137.8 731.7 138.8 731.7 139.8 731.6C140.8 731.6 141.8 731.6 142.8 731.5C143.8 731.5 144.8 731.5 145.8 731.4C146.8 731.4 147.8 731.4 148.8 731.4C149.8 731.4 150.8 731.5 151.8 731.5C152.8 731.5 153.8 731.6 154.8 731.7C155.8 731.8 156.8 731.9 157.8 732.0C158.8 732.1 159.8 732.2 160.8 732.3C161.8 732.5 162.8 732.6 163.8 732.7C164.8 732.9 165.8 733.0 166.8 733.1C167.8 733.3 168.8 733.4 169.8 733.5C170.8 733.7 171.8 733.8 172.8 733.9C173.8 734.0 174.8 734.1 175.8 734.2C176.8 734.3 177.8 734.3 178.8 734.4C179.8 734.4 180.8 734.5 181.8 734.5C182.8 734.5 183.8 734.5 184.8 734.5C185.8 734.5 186.8 734.5 187.8 734.5C188.8 734.5 189.8 734.5 190.8 734.5C191.8 734.5 192.8 734.5 193.8 734.5C194.8 734.5 195.8 734.4 196.8 734.4C197.8 734.4 198.8 734.4 199.8 734.4C200.8 734.4 201.8 734.4 202.8 734.4C203.8 734.4 204.8 734.4 205.8 734.4C206.8 734.4 207.8 734.3 208.8 734.3C209.8 734.3 210.8 734.3 211.8 734.3C212.8 734.3 213.8 734.3 214.8 734.3C215.8 734.3 216.8 734.3 217.8 734.3C218.8 734.2 219.8 734.2 220.8 734.2C221.8 734.2 222.8 734.2 223.8 734.2C224.8 734.2 225.8 734.2 226.8 734.2C227.8 734.2 228.8 734.2 229.8 734.2C230.8 734.1 231.8 734.1 232.8 734.1C233.8 734.1 234.8 734.1 235.8 734.1C236.8 734.1 237.8 734.1 238.8 734.1C239.8 734.1 240.8 734.1 241.8 734.1C242.8 734.1 243.8 734.1 244.8 734.1C245.8 734.1 246.8 734.1 247.8 734.1C248.8 734.1 249.8 734.1 250.8 734.1C251.8 734.1 252.8 734.1 253.8 734.1C254.8 734.1 255.8 734.2 256.8 734.2C257.8 734.2 258.8 734.2 259.8 734.2C260.8 734.2 261.8 734.2 262.8 734.2C263.8 734.2 264.8 734.2 265.8 734.3C266.8 734.3 267.8 734.3 268.8 734.3C269.8 734.3 270.8 734.3 271.8 734.3C272.8 734.4 273.8 734.4 274.8 734.4C275.8 734.4 276.8 734.4 277.8 734.5C278.8 734.5 279.8 734.5 280.8 734.5C281.8 734.5 282.8 734.5 283.8 734.6C284.8 734.6 285.8 734.6 286.8 734.6C287.8 734.6 288.8 734.7 289.8 734.7C290.8 734.7 291.8 734.7 292.8 734.8C293.8 734.8 294.8 734.8 295.8 734.8C296.8 734.8 297.8 734.9 298.8 734.9C299.8 734.9 300.8 734.9 301.8 735.0C302.8 735.0 303.8 735.0 304.8 735.0C305.8 735.0 306.8 735.1 307.8 735.1C308.8 735.1 309.8 735.1 310.8 735.2C311.8 735.2 312.8 735.2 313.8 735.2C314.8 735.3 315.8 735.3 316.8 735.3C317.8 735.3 318.8 735.3 319.8 735.4C320.8 735.4 321.8 735.4 322.8 735.4C323.8 735.4 324.8 735.5 325.8 735.5C326.8 735.5 327.8 735.5 328.8 735.5C329.8 735.6 330.8 735.6 331.8 735.6C332.8 735.6 333.8 735.6 334.8 735.7C335.8 735.7 336.8 735.7 337.8 735.7C338.8 735.7 339.8 735.8 340.8 735.8C341.8 735.8 342.8 735.8 343.8 735.8C344.8 735.9 345.8 735.9 346.8 735.9C347.8 735.9 348.8 735.9 349.8 736.0C350.8 736.0 351.8 736.0 352.8 736.0C353.8 736.0 354.8 736.1 355.8 736.1C356.8 736.1 357.8 736.1 358.8 736.2C359.8 736.2 360.8 736.2 361.8 736.2C362.8 736.2 363.8 736.3 364.8 736.3C365.8 736.3 366.8 736.3 367.8 736.4C368.8 736.4 369.8 736.4 370.8 736.4C371.8 736.5 372.8 736.5 373.8 736.5C374.8 736.6 375.8 736.6 376.8 736.6C377.8 736.6 378.8 736.7 379.8 736.7C380.8 736.7 381.8 736.8 382.8 736.8C383.8 736.8 384.8 736.9 385.8 736.9C386.8 736.9 387.8 737.0 388.8 737.0C389.8 737.1 390.8 737.1 391.8 737.1C392.8 737.2 393.8 737.2 394.8 737.3C395.8 737.3 396.8 737.3 397.8 737.4C398.8 737.4 399.8 737.5 400.8 737.5C401.8 737.6 402.8 737.6 403.8 737.7C404.8 737.7 405.8 737.8 406.8 737.8C407.8 737.9 408.8 737.9 409.8 738.0C410.8 738.0 411.8 738.1 412.8 738.1C413.8 738.2 414.8 738.3 415.8 738.3C416.8 738.4 417.8 738.4 418.8 738.5C419.8 738.5 420.8 738.6 421.8 738.6C422.8 738.7 423.8 738.8 424.8 738.8C425.8 738.9 426.8 738.9 427.8 739.0C428.8 739.1 429.8 739.1 430.8 739.2C431.8 739.2 432.8 739.3 433.8 739.3C434.8 739.4 435.8 739.5 436.8 739.5C437.8 739.6 438.8 739.6 439.8 739.7C440.8 739.8 441.8 739.8 442.8 739.9C443.8 739.9 444.8 740.0 445.8 740.0C446.8 740.1 447.8 740.2 448.8 740.2C449.8 740.3 450.8 740.3 451.8 740.4C452.8 740.5 453.8 740.5 454.8 740.6C455.8 740.6 456.8 740.7 457.8 740.8C458.8 740.8 459.8 740.9 460.8 740.9C461.8 741.0 462.8 741.1 463.8 741.1C464.8 741.2 465.8 741.3 466.8 741.3C467.8 741.4 468.8 741.5 469.8 741.5C470.8 741.6 471.8 741.7 472.8 741.8C473.8 741.8 474.8 741.9 475.8 742.0C476.8 742.1 477.8 742.1 478.8 742.2C479.8 742.3 480.8 742.4 481.8 742.5C482.8 742.5 483.8 742.6 484.8 742.7C485.8 742.8 486.8 742.9 487.8 743.0C488.8 743.1 489.8 743.2 490.8 743.3C491.8 743.4 492.8 743.6 493.8 743.7C494.8 743.8 495.8 743.9 496.8 744.0C497.8 744.1 498.8 744.3 499.8 744.4C500.8 744.5 501.8 744.6 502.8 744.7C503.8 744.9 504.8 745.0 505.8 745.1C506.8 745.3 507.8 745.5 508.8 745.7C509.8 745.9 510.8 746.2 511.8 746.6C512.8 746.9 513.8 747.2 514.8 747.6C515.8 747.9 516.8 748.3 517.8 748.6C518.8 748.9 519.8 749.2 520.8 749.4C521.8 749.7 522.8 749.9 523.8 750.1C524.8 750.3 525.8 750.5 526.8 750.7C527.8 750.9 528.8 751.1 529.8 751.3C530.8 751.6 531.8 751.8 532.8 752.1C533.8 752.4 534.8 752.6 535.8 752.9C536.8 753.2 537.8 753.5 538.8 753.7C539.8 754.0 540.8 754.3 541.8 754.5C542.8 754.8 543.8 755.1 544.8 755.4C545.8 755.7 546.8 755.9 547.8 756.2C548.8 756.5 549.8 756.8 550.8 757.2C551.8 757.5 552.8 757.9 553.8 758.2C554.8 758.6 555.8 759.0 556.8 759.4C557.8 759.8 558.8 760.3 559.8 760.7C560.8 761.1 561.8 761.4 562.8 761.8C563.8 762.2 564.8 762.6 565.8 763.1C566.8 763.5 567.8 764.1 568.8 764.7C569.8 765.3 570.8 766.1 571.8 766.9C572.8 767.6 573.8 768.5 574.8 769.4C575.8 770.2 576.8 771.1 577.8 772.0C578.8 772.9 579.8 773.7 580.8 774.8C581.8 775.8 582.8 776.9 583.8 778.2C584.8 779.6 585.8 781.3 586.8 783.0C587.8 784.7 588.8 786.7 589.8 788.5C590.8 790.3 591.8 792.0 592.8 793.8C593.8 795.5 594.8 797.2 595.8 798.9C596.8 800.5 597.8 802.2 598.8 803.7C599.8 805.3 600.8 806.9 601.8 808.3C602.8 809.7 603.8 811.2 604.8 812.2C605.8 813.2 606.8 814.2 607.8 814.2C608.8 814.2 609.8 814.3 610.8 813.9C611.8 813.5 612.8 812.8 613.8 811.9C614.8 811.1 615.8 810.1 616.8 808.9C617.8 807.8 618.8 806.5 619.8 805.2C620.8 803.9 621.8 802.4 622.8 801.1C623.8 799.8 624.8 798.6 625.8 797.4C626.8 796.2 627.8 795.0 628.8 794.0C629.8 793.0 630.8 791.9 631.8 791.2C632.8 790.6 633.8 789.9 634.8 789.9C635.8 789.9 636.8 790.0 637.8 790.5C638.8 790.9 639.8 791.7 640.8 792.6C641.8 793.5 642.8 794.5 643.8 795.7C644.8 797.0 645.8 798.4 646.8 800.1C647.8 801.7 648.8 803.6 649.8 805.6C650.8 807.6 651.8 809.8 652.8 812.0C653.8 814.2 654.8 816.6 655.8 819.0C656.8 821.4 657.8 823.8 658.8 826.4C659.8 828.9 660.8 831.6 661.8 834.3C662.8 836.9 663.8 839.8 664.8 842.5C665.8 845.2 666.8 847.9 667.8 850.4C668.8 853.0 669.8 855.5 670.8 857.8C671.8 860.1 672.8 862.4 673.8 864.5C674.8 866.6 675.8 868.6 676.8 870.3C677.8 872.1 678.8 873.6 679.8 874.9C680.8 876.2 681.8 877.2 682.8 878.2C683.8 879.1 684.8 879.8 685.8 880.4C686.8 881.0 687.8 881.4 688.8 881.7C689.8 881.9 690.8 881.8 691.8 881.8C692.8 881.8 693.8 881.4 694.8 881.1C695.8 880.8 696.8 880.3 697.8 879.8C698.8 879.3 699.8 878.8 700.8 878.3C701.8 877.7 702.8 877.1 703.8 876.5C704.8 875.9 705.8 875.3 706.8 874.7C707.8 874.2 708.8 873.6 709.8 873.1C710.8 872.6 711.8 872.1 712.8 871.6C713.8 871.2 714.8 870.7 715.8 870.4C716.8 870.1 717.8 869.8 718.8 869.6C719.8 869.5 720.8 869.6 721.8 869.6C722.8 869.6 723.8 869.9 724.8 870.2C725.8 870.6 726.8 871.0 727.8 871.5C728.8 871.9 729.8 872.5 730.8 873.2C731.8 873.8 732.8 874.6 733.8 875.4C734.8 876.2 735.8 877.2 736.8 878.1C737.8 879.0 738.8 880.0 739.8 880.9C740.8 881.9 741.8 882.8 742.8 883.7C743.8 884.7 744.8 885.6 745.8 886.4C746.8 887.3 747.8 888.1 748.8 888.8C749.8 889.6 750.8 890.3 751.8 890.9C752.8 891.5 753.8 892.0 754.8 892.4C755.8 892.7 756.8 893.0 757.8 893.0C758.8 893.0 759.8 892.8 760.8 892.4C761.8 892.0 762.8 891.5 763.8 890.8C764.8 890.1 765.8 889.3 766.8 888.3C767.8 887.3 768.8 886.1 769.8 884.7C770.8 883.3 771.8 881.6 772.8 879.8C773.8 877.9 774.8 875.7 775.8 873.4C776.8 871.1 777.8 868.6 778.8 866.2C779.8 863.8 780.8 861.4 781.8 859.1C782.8 856.8 783.8 854.5 784.8 852.3C785.8 850.1 786.8 847.9 787.8 845.7C788.8 843.5 789.8 841.3 790.8 839.1C791.8 836.8 792.8 834.4 793.8 832.1C794.8 829.8 795.8 827.5 796.8 825.3C797.8 823.0 798.8 820.8 799.8 818.7C800.8 816.6 801.8 814.6 802.8 812.7C803.8 810.7 804.8 808.9 805.8 807.2C806.8 805.5 807.8 803.8 808.8 802.4C809.8 800.9 810.8 799.6 811.8 798.4C812.8 797.3 813.8 796.3 814.8 795.3C815.8 794.4 816.8 793.6 817.8 792.9C818.8 792.2 819.8 791.5 820.8 790.9C821.8 790.3 822.8 789.7 823.8 789.1C824.8 788.6 825.8 788.1 826.8 787.7C827.8 787.3 828.8 786.9 829.8 786.7C830.8 786.5 831.8 786.3 832.8 786.3C833.8 786.3 834.8 786.3 835.8 786.4C836.8 786.6 837.8 786.8 838.8 787.0C839.8 787.3 840.8 787.7 841.8 788.1C842.8 788.6 843.8 789.1 844.8 789.6C845.8 790.2 846.8 790.8 847.8 791.6C848.8 792.4 849.8 793.2 850.8 794.2C851.8 795.1 852.8 796.2 853.8 797.4C854.8 798.5 855.8 799.8 856.8 801.1C857.8 802.4 858.8 803.7 859.8 805.0C860.8 806.3 861.8 807.6 862.8 809.0C863.8 810.3 864.8 811.7 865.8 813.1C866.8 814.5 867.8 816.0 868.8 817.5C869.8 819.0 870.8 820.5 871.8 822.2C872.8 823.8 873.8 825.5 874.8 827.2C875.8 828.9 876.8 830.6 877.8 832.3C878.8 834.0 879.8 835.7 880.8 837.4C881.8 839.1 882.8 840.7 883.8 842.4C884.8 844.0 885.8 845.6 886.8 847.2C887.8 848.8 888.8 850.4 889.8 851.9C890.8 853.5 891.8 855.0 892.8 856.5C893.8 858.0 894.8 859.5 895.8 860.8C896.8 862.2 897.8 863.6 898.8 864.8C899.8 866.0 900.8 867.0 901.8 868.0C902.8 868.9 903.8 869.7 904.8 870.4C905.8 871.2 906.8 871.8 907.8 872.4C908.8 872.9 909.8 873.4 910.8 873.7C911.8 874.1 912.8 874.3 913.8 874.3C914.8 874.3 915.8 874.3 916.8 874.1C917.8 873.9 918.8 873.6 919.8 873.2C920.8 872.8 921.8 872.2 922.8 871.6C923.8 871.0 924.8 870.3 925.8 869.5C926.8 868.7 927.8 867.8 928.8 866.9C929.8 866.0 930.8 864.9 931.8 863.9C932.8 862.8 933.8 861.7 934.8 860.7C935.8 859.6 936.8 858.5 937.8 857.4C938.8 856.4 939.8 855.3 940.8 854.2C941.8 853.1 942.8 852.0 943.8 850.8C944.8 849.7 945.8 848.6 946.8 847.4C947.8 846.3 948.8 845.2 949.8 844.0C950.8 842.8 951.8 841.6 952.8 840.4C953.8 839.1 954.8 837.8 955.8 836.5C956.8 835.1 957.8 833.7 958.8 832.2C959.8 830.8 960.8 829.3 961.8 827.7C962.8 826.2 963.8 824.6 964.8 823.1C965.8 821.5 966.8 819.9 967.8 818.3C968.8 816.7 969.8 815.1 970.8 813.5C971.8 811.9 972.8 810.3 973.8 808.7C974.8 807.2 975.8 805.6 976.8 804.0C977.8 802.5 978.8 800.9 979.8 799.4C980.8 797.8 981.8 796.3 982.8 794.8C983.8 793.4 984.8 791.9 985.8 790.5C986.8 789.1 987.8 787.7 988.8 786.4C989.8 785.1 990.8 783.8 991.8 782.5C992.8 781.2 993.8 780.0 994.8 778.7C995.8 777.4 996.8 776.2 997.8 774.9C998.8 773.7 999.8 772.4 1000.8 771.2C1001.8 770.0 1002.8 768.8 1003.8 767.8C1004.8 766.7 1005.8 765.8 1006.8 765.0C1007.8 764.2 1008.8 763.6 1009.8 763.0C1010.8 762.5 1011.8 762.0 1012.8 761.5C1013.8 761.0 1014.8 760.5 1015.8 760.0C1016.8 759.5 1017.8 759.0 1018.8 758.5C1019.8 758.0 1020.8 757.5 1021.8 757.0C1022.8 756.6 1023.8 756.1 1024.8 755.6C1025.8 755.2 1026.8 754.8 1027.8 754.3C1028.8 753.9 1029.8 753.5 1030.8 753.1C1031.8 752.7 1032.8 752.3 1033.8 751.9C1034.8 751.5 1035.8 751.2 1036.8 750.8C1037.8 750.4 1038.8 750.0 1039.8 749.6C1040.8 749.3 1041.8 748.9 1042.8 748.5C1043.8 748.2 1044.8 747.8 1045.8 747.5C1046.8 747.1 1047.8 746.8 1048.8 746.5C1049.8 746.1 1050.8 745.8 1051.8 745.5C1052.8 745.2 1053.8 745.0 1054.8 744.7C1055.8 744.4 1056.8 744.1 1057.8 743.8C1058.8 743.6 1059.8 743.3 1060.8 743.0C1061.8 742.8 1062.8 742.5 1063.8 742.3C1064.8 742.1 1065.8 741.8 1066.8 741.6C1067.8 741.4 1068.8 741.2 1069.8 741.1C1070.8 740.9 1071.8 740.7 1072.8 740.5C1073.8 740.3 1074.8 740.2 1075.8 740.0C1076.8 739.8 1077.8 739.7 1078.8 739.5C1079.8 739.3 1080.8 739.1 1081.8 739.0C1082.8 738.8 1083.8 738.6 1084.8 738.5C1085.8 738.3 1086.8 738.1 1087.8 738.0C1088.8 737.8 1089.8 737.7 1090.8 737.5C1091.8 737.3 1092.8 737.2 1093.8 737.0C1094.8 736.9 1095.8 736.7 1096.8 736.6C1097.8 736.4 1098.8 736.3 1099.8 736.1C1100.8 736.0 1101.8 735.8 1102.8 735.7C1103.8 735.5 1104.8 735.4 1105.8 735.3C1106.8 735.1 1107.8 735.0 1108.8 734.9C1109.8 734.7 1110.8 734.6 1111.8 734.5C1112.8 734.3 1113.8 734.2 1114.8 734.1C1115.8 734.0 1116.8 733.9 1117.8 733.8C1118.8 733.6 1119.8 733.5 1120.8 733.4C1121.8 733.3 1122.8 733.2 1123.8 733.1C1124.8 733.0 1125.8 732.9 1126.8 732.8C1127.8 732.7 1128.8 732.6 1129.8 732.6C1130.8 732.5 1131.8 732.4 1132.8 732.3C1133.8 732.2 1134.8 732.1 1135.8 732.1C1136.8 732.0 1137.8 731.9 1138.8 731.9C1139.8 731.8 1140.8 731.7 1141.8 731.6C1142.8 731.6 1143.8 731.5 1144.8 731.4C1145.8 731.4 1146.8 731.3 1147.8 731.3C1148.8 731.2 1149.8 731.1 1150.8 731.1C1151.8 731.0 1152.8 731.0 1153.8 730.9C1154.8 730.9 1155.8 730.8 1156.8 730.8C1157.8 730.7 1158.8 730.7 1159.8 730.6C1160.8 730.6 1161.8 730.5 1162.8 730.5C1163.8 730.4 1164.8 730.4 1165.8 730.3C1166.8 730.3 1167.8 730.2 1168.8 730.2C1169.8 730.2 1170.8 730.1 1171.8 730.1C1172.8 730.0 1173.8 730.0 1174.8 729.9C1175.8 729.9 1176.8 729.8 1177.8 729.8C1178.8 729.7 1179.8 729.7 1180.8 729.7C1181.8 729.6 1182.8 729.6 1183.8 729.5C1184.8 729.5 1185.8 729.4 1186.8 729.4C1187.8 729.3 1188.8 729.3 1189.8 729.3C1190.8 729.2 1191.8 729.2 1192.8 729.1C1193.8 729.1 1194.8 729.1 1195.8 729.0C1196.8 729.0 1197.8 728.9 1198.8 728.9C1199.8 728.9 1200.8 728.8 1201.8 728.8C1202.8 728.8 1203.8 728.7 1204.8 728.7C1205.8 728.7 1206.8 728.6 1207.8 728.6C1208.8 728.6 1209.8 728.5 1210.8 728.5C1211.8 728.5 1212.8 728.4 1213.8 728.4C1214.8 728.4 1215.8 728.4 1216.8 728.3C1217.8 728.3 1218.8 728.3 1219.8 728.2C1220.8 728.2 1221.8 728.2 1222.8 728.2C1223.8 728.1 1224.8 728.1 1225.8 728.1C1226.8 728.0 1227.8 728.0 1228.8 728.0C1229.8 728.0 1230.8 727.9 1231.8 727.9C1232.8 727.9 1233.8 727.8 1234.8 727.8C1235.8 727.8 1236.8 727.8 1237.8 727.7C1238.8 727.7 1239.8 727.7 1240.8 727.6C1241.8 727.6 1242.8 727.6 1243.8 727.6C1244.8 727.5 1245.8 727.5 1246.8 727.5C1247.8 727.4 1248.8 727.4 1249.8 727.4C1250.8 727.3 1251.8 727.3 1252.8 727.3C1253.8 727.2 1254.8 727.2 1255.8 727.2C1256.8 727.1 1257.8 727.1 1258.8 727.1C1259.8 727.0 1260.8 727.0 1261.8 726.9C1262.8 726.9 1263.8 726.9 1264.8 726.8C1265.8 726.8 1266.8 726.8 1267.8 726.7C1268.8 726.7 1269.8 726.6 1270.8 726.6C1271.8 726.6 1272.8 726.5 1273.8 726.5C1274.8 726.5 1275.8 726.4 1276.8 726.4C1277.8 726.3 1278.8 726.3 1279.8 726.3C1280.8 726.2 1281.8 726.2 1282.8 726.2C1283.8 726.1 1284.8 726.1 1285.8 726.0C1286.8 726.0 1287.8 726.0 1288.8 725.9C1289.8 725.9 1290.8 725.9 1291.8 725.8C1292.8 725.8 1293.8 725.8 1294.8 725.7C1295.8 725.7 1296.8 725.7 1297.8 725.6C1298.8 725.6 1299.8 725.6 1300.8 725.6C1301.8 725.5 1302.8 725.5 1303.8 725.5C1304.8 725.4 1305.8 725.4 1306.8 725.4C1307.8 725.4 1308.8 725.3 1309.8 725.3C1310.8 725.3 1311.8 725.3 1312.8 725.3C1313.8 725.2 1314.8 725.2 1315.8 725.2C1316.8 725.2 1317.8 725.2 1318.8 725.2C1319.8 725.2 1320.8 725.1 1321.8 725.1C1322.8 725.1 1323.8 725.1 1324.8 725.1C1325.8 725.1 1326.8 725.1 1327.8 725.1C1328.8 725.1 1329.8 725.1 1330.8 725.2C1331.8 725.2 1332.8 725.3 1333.8 725.4C1334.8 725.5 1335.8 725.6 1336.8 725.7C1337.8 725.9 1338.8 726.0 1339.8 726.2C1340.8 726.4 1341.8 726.5 1342.8 726.7C1343.8 726.9 1344.8 727.1 1345.8 727.2C1346.8 727.4 1347.8 727.5 1348.8 727.7C1349.8 727.8 1350.8 727.9 1351.8 728.0C1352.8 728.1 1353.8 728.2 1354.8 728.2C1355.8 728.3 1356.8 728.3 1357.8 728.3C1358.8 728.3 1359.8 728.2 1360.8 728.2C1361.8 728.1 1362.8 728.1 1363.8 728.0C1364.8 727.9 1365.8 727.9 1366.8 727.8C1367.8 727.7 1368.8 727.6 1369.8 727.5C1370.8 727.4 1371.8 727.3 1372.8 727.2C1373.8 727.1 1374.8 727.0 1375.8 726.9C1376.8 726.7 1377.8 726.6 1378.8 726.5C1379.8 726.4 1380.8 726.3 1381.8 726.2C1382.8 726.1 1383.8 726.0 1384.8 725.9C1385.8 725.8 1386.8 725.7 1387.8 725.6C1388.8 725.5 1389.8 725.4 1390.8 725.4C1391.8 725.3 1392.8 725.3 1393.8 725.2C1394.8 725.2 1395.8 725.1 1396.8 725.1C1397.8 725.1 1398.8 725.1 1399.8 725.1C1400.8 725.1 1401.8 725.1 1402.8 725.1C1403.8 725.2 1404.8 725.2 1405.8 725.2C1406.8 725.2 1407.8 725.2 1408.8 725.3C1409.8 725.3 1410.8 725.3 1411.8 725.4C1412.8 725.4 1413.8 725.5 1414.8 725.5C1415.8 725.5 1416.8 725.6 1417.8 725.6C1418.8 725.7 1419.8 725.7 1420.8 725.8C1421.8 725.8 1422.8 725.9 1423.8 726.0C1424.8 726.0 1425.8 726.1 1426.8 726.1C1427.8 726.2 1428.8 726.3 1429.8 726.3C1430.8 726.4 1431.8 726.5 1432.8 726.5C1433.8 726.6 1434.8 726.7 1435.8 726.7C1436.8 726.8 1437.8 726.9 1438.8 726.9C1439.8 727.0 1440.8 727.1 1441.8 727.2C1442.8 727.2 1443.8 727.3 1444.8 727.4C1445.8 727.4 1446.8 727.5 1447.8 727.6C1448.8 727.7 1449.8 727.7 1450.8 727.8C1451.8 727.9 1452.8 727.9 1453.8 728.0C1454.8 728.1 1455.8 728.1 1456.8 728.2C1457.8 728.3 1458.8 728.3 1459.8 728.4C1460.8 728.4 1461.8 728.5 1462.8 728.5C1463.8 728.6 1464.8 728.7 1465.8 728.7C1466.8 728.8 1467.8 728.9 1468.8 729.0C1469.8 729.2 1470.8 729.3 1471.8 729.5C1472.8 729.7 1473.8 730.0 1474.8 730.2C1475.8 730.5 1476.8 730.8 1477.8 731.1C1478.8 731.5 1479.8 731.8 1480.8 732.3C1481.8 732.7 1482.8 733.2 1483.8 733.8C1484.8 734.4 1485.8 735.1 1486.8 736.0C1487.8 736.8 1488.8 737.8 1489.8 738.9C1490.8 739.9 1491.8 741.1 1492.8 742.2C1493.8 743.4 1494.8 744.5 1495.8 745.7C1496.8 746.8 1497.8 747.9 1498.8 749.0C1499.8 750.1 1500.8 751.2 1501.8 752.4C1502.8 753.5 1503.8 754.7 1504.8 755.8C1505.8 757.0 1506.8 758.3 1507.8 759.6C1508.8 760.8 1509.8 762.2 1510.8 763.5C1511.8 764.7 1512.8 766.0 1513.8 767.2C1514.8 768.3 1515.8 769.4 1516.8 770.3C1517.8 771.3 1518.8 772.1 1519.8 772.9C1520.8 773.7 1521.8 774.5 1522.8 775.1C1523.8 775.8 1524.8 776.3 1525.8 776.7C1526.8 777.0 1527.8 777.3 1528.8 777.3C1529.8 777.3 1530.8 777.1 1531.8 776.7C1532.8 776.3 1533.8 775.7 1534.8 775.0C1535.8 774.3 1536.8 773.4 1537.8 772.4C1538.8 771.4 1539.8 770.3 1540.8 769.0C1541.8 767.7 1542.8 766.3 1543.8 764.8C1544.8 763.3 1545.8 761.6 1546.8 760.0C1547.8 758.5 1548.8 756.9 1549.8 755.3C1550.8 753.7 1551.8 752.1 1552.8 750.5C1553.8 748.9 1554.8 747.3 1555.8 745.9C1556.8 744.4 1557.8 743.1 1558.8 741.9C1559.8 740.7 1560.8 739.7 1561.8 738.8C1562.8 737.9 1563.8 737.2 1564.8 736.5C1565.8 735.8 1566.8 735.2 1567.8 734.6C1568.8 734.0 1569.8 733.5 1570.8 733.0C1571.8 732.5 1572.8 732.1 1573.8 731.6C1574.8 731.2 1575.8 730.9 1576.8 730.5C1577.8 730.2 1578.8 729.9 1579.8 729.6C1580.8 729.4 1581.8 729.1 1582.8 728.9C1583.8 728.7 1584.8 728.5 1585.8 728.3C1586.8 728.1 1587.8 728.0 1588.8 727.8C1589.8 727.7 1590.8 727.5 1591.8 727.4C1592.8 727.4 1593.8 727.3 1594.8 727.2C1595.8 727.2 1596.8 727.2 1597.8 727.2C1598.8 727.2 1599.8 727.3 1600.8 727.4C1601.8 727.5 1602.8 727.7 1603.8 728.0C1604.8 728.3 1605.8 728.6 1606.8 729.0C1607.8 729.5 1608.8 729.9 1609.8 730.5C1610.8 731.1 1611.8 731.8 1612.8 732.6C1613.8 733.4 1614.8 734.3 1615.8 735.2C1616.8 736.1 1617.8 737.1 1618.8 738.2C1619.8 739.2 1620.8 740.3 1621.8 741.3C1622.8 742.4 1623.8 743.5 1624.8 744.6C1625.8 745.7 1626.8 746.9 1627.8 748.1C1628.8 749.2 1629.8 750.4 1630.8 751.5C1631.8 752.6 1632.8 753.5 1633.8 754.4C1634.8 755.3 1635.8 756.0 1636.8 756.6C1637.8 757.2 1638.8 757.8 1639.8 758.1C1640.8 758.5 1641.8 758.8 1642.8 758.8C1643.8 758.8 1644.8 758.6 1645.8 758.3C1646.8 757.9 1647.8 757.4 1648.8 756.8C1649.8 756.2 1650.8 755.5 1651.8 754.9C1652.8 754.2 1653.8 753.6 1654.8 752.9C1655.8 752.3 1656.8 751.6 1657.8 750.9C1658.8 750.3 1659.8 749.5 1660.8 748.9C1661.8 748.3 1662.8 747.7 1663.8 747.3C1664.8 746.9 1665.8 746.7 1666.8 746.7C1667.8 746.7 1668.8 746.8 1669.8 747.2C1670.8 747.5 1671.8 748.1 1672.8 748.7C1673.8 749.3 1674.8 750.1 1675.8 751.0C1676.8 751.9 1677.8 752.9 1678.8 754.1C1679.8 755.2 1680.8 756.6 1681.8 757.9C1682.8 759.2 1683.8 760.5 1684.8 761.8C1685.8 763.1 1686.8 764.3 1687.8 765.4C1688.8 766.6 1689.8 767.8 1690.8 768.8C1691.8 769.7 1692.8 770.8 1693.8 771.4C1694.8 772.0 1695.8 772.6 1696.8 772.6C1697.8 772.6 1698.8 772.5 1699.8 772.1C1700.8 771.7 1701.8 771.1 1702.8 770.4C1703.8 769.7 1704.8 768.9 1705.8 768.0C1706.8 767.1 1707.8 766.1 1708.8 765.0C1709.8 764.0 1710.8 762.8 1711.8 761.6C1712.8 760.5 1713.8 759.2 1714.8 758.0C1715.8 756.9 1716.8 755.7 1717.8 754.7C1718.8 753.7 1719.8 752.8 1720.8 752.2C1721.8 751.5 1722.8 751.1 1723.8 750.7C1724.8 750.4 1725.8 750.2 1726.8 750.0C1727.8 749.9 1728.8 749.8 1729.8 749.8C1730.8 749.8 1731.8 749.8 1732.8 749.8C1733.8 749.9 1734.8 750.0 1735.8 750.2C1736.8 750.3 1737.8 750.6 1738.8 750.9C1739.8 751.2 1740.8 751.6 1741.8 752.1C1742.8 752.6 1743.8 753.2 1744.8 753.8C1745.8 754.4 1746.8 755.1 1747.8 755.8C1748.8 756.6 1749.8 757.3 1750.8 758.0C1751.8 758.8 1752.8 759.5 1753.8 760.3C1754.8 761.0 1755.8 761.8 1756.8 762.6C1757.8 763.4 1758.8 764.2 1759.8 765.0C1760.8 765.7 1761.8 766.5 1762.8 767.1C1763.8 767.8 1764.8 768.3 1765.8 768.9C1766.8 769.4 1767.8 769.9 1768.8 770.3C1769.8 770.7 1770.8 771.1 1771.8 771.4C1772.8 771.7 1773.8 771.9 1774.8 772.1C1775.8 772.2 1776.8 772.3 1777.8 772.3C1778.8 772.3 1779.8 772.1 1780.8 772.0C1781.8 771.9 1782.8 771.7 1783.8 771.4C1784.8 771.2 1785.8 771.0 1786.8 770.7C1787.8 770.5 1788.8 770.2 1789.8 769.9C1790.8 769.6 1791.8 769.3 1792.8 769.0C1793.8 768.7 1794.8 768.3 1795.8 768.0C1796.8 767.6 1797.8 767.2 1798.8 766.9C1799.8 766.5 1800.8 766.2 1801.8 765.9C1802.8 765.6 1803.8 765.3 1804.8 765.1C1805.8 765.0 1806.8 764.9 1807.8 764.9C1808.8 764.9 1809.8 765.1 1810.8 765.3C1811.8 765.6 1812.8 766.0 1813.8 766.4C1814.8 766.8 1815.8 767.3 1816.8 767.8C1817.8 768.3 1818.8 768.8 1819.8 769.3C1820.8 769.9 1821.8 770.4 1822.8 771.0C1823.8 771.6 1824.8 772.3 1825.8 773.0C1826.8 773.6 1827.8 774.4 1828.8 775.0C1829.8 775.7 1830.8 776.4 1831.8 776.9C1832.8 777.5 1833.8 778.0 1834.8 778.4C1835.8 778.7 1836.8 779.0 1837.8 779.1C1838.8 779.3 1839.8 779.1 1840.8 779.1C1841.8 779.1 1842.8 778.8 1843.8 778.5C1844.8 778.2 1845.8 777.8 1846.8 777.2C1847.8 776.6 1848.8 775.9 1849.8 774.9C1850.8 774.0 1851.8 772.9 1852.8 771.6C1853.8 770.3 1854.8 768.8 1855.8 767.4C1856.8 765.9 1857.8 764.3 1858.8 763.0C1859.8 761.6 1860.8 760.4 1861.8 759.2C1862.8 758.1 1863.8 757.1 1864.8 756.2C1865.8 755.2 1866.8 754.4 1867.8 753.5C1868.8 752.7 1869.8 751.9 1870.8 751.2C1871.8 750.4 1872.8 749.6 1873.8 748.9C1874.8 748.1 1875.8 747.4 1876.8 746.7C1877.8 745.9 1878.8 745.2 1879.8 744.6C1880.8 743.9 1881.8 743.3 1882.8 742.7C1883.8 742.2 1884.8 741.7 1885.8 741.2C1886.8 740.8 1887.8 740.4 1888.8 740.1C1889.8 739.8 1890.8 739.5 1891.8 739.3C1892.8 739.1 1893.8 738.9 1894.8 738.7C1895.8 738.5 1896.8 738.4 1897.8 738.3C1898.8 738.1 1899.8 737.9 1900.8 737.8C1901.8 737.6 1902.8 737.5 1903.8 737.3C1904.8 737.1 1905.8 737.0 1906.8 736.8C1907.8 736.6 1908.8 736.5 1909.8 736.3C1910.8 736.1 1911.8 735.9 1912.8 735.6C1913.8 735.3 1914.8 735.0 1915.8 734.6C1916.8 734.1 1917.8 733.6 1918.8 733.1C1919.8 732.6 1920.8 732.0 1921.8 731.5C1922.8 731.1 1923.8 730.6 1924.8 730.2C1925.8 729.8 1926.8 729.4 1927.8 729.0C1928.8 728.6 1929.8 728.3 1930.8 727.9C1931.8 727.6 1932.8 727.3 1933.8 727.1C1934.8 726.8 1935.8 726.6 1936.8 726.4C1937.8 726.3 1938.8 726.2 1939.8 726.1C1940.8 726.0 1941.8 725.9 1942.8 725.8C1943.8 725.8 1944.8 725.7 1945.8 725.7C1946.8 725.6 1947.8 725.6 1948.8 725.6C1949.8 725.6 1950.8 725.5 1951.8 725.5C1952.8 725.5 1953.8 725.5 1954.8 725.5C1955.8 725.5 1956.8 725.5 1957.8 725.5C1958.8 725.5 1959.8 725.5 1960.8 725.5C1961.8 725.5 1962.8 725.5 1963.8 725.5C1964.8 725.5 1965.8 725.5 1966.8 725.5C1967.8 725.5 1968.8 725.5 1969.8 725.5C1970.8 725.5 1971.8 725.5 1972.8 725.5C1973.3 725.5 1973.8 725.5 1974.3 725.5" fill="none" stroke="#FF0000" stroke-width="7" stroke-linejoin="round" stroke-linecap="butt"/>
<path d="M124.8 864.4C125.8 864.3 126.8 864.3 127.8 864.3C128.8 864.3 129.8 864.2 130.8 864.2C131.8 864.1 132.8 864.1 133.8 864.1C134.8 864.0 135.8 864.0 136.8 863.9C137.8 863.9 138.8 863.9 139.8 863.8C140.8 863.8 141.8 863.7 142.8 863.7C143.8 863.7 144.8 863.6 145.8 863.6C146.8 863.6 147.8 863.5 148.8 863.5C149.8 863.5 150.8 863.5 151.8 863.5C152.8 863.4 153.8 863.4 154.8 863.4C155.8 863.4 156.8 863.4 157.8 863.4C158.8 863.4 159.8 863.4 160.8 863.4C161.8 863.4 162.8 863.4 163.8 863.5C164.8 863.5 165.8 863.5 166.8 863.5C167.8 863.5 168.8 863.6 169.8 863.6C170.8 863.6 171.8 863.7 172.8 863.7C173.8 863.7 174.8 863.8 175.8 863.8C176.8 863.8 177.8 863.9 178.8 863.9C179.8 863.9 180.8 864.0 181.8 864.0C182.8 864.0 183.8 864.1 184.8 864.1C185.8 864.1 186.8 864.2 187.8 864.2C188.8 864.2 189.8 864.2 190.8 864.3C191.8 864.3 192.8 864.3 193.8 864.3C194.8 864.4 195.8 864.4 196.8 864.4C197.8 864.4 198.8 864.4 199.8 864.5C200.8 864.5 201.8 864.5 202.8 864.5C203.8 864.5 204.8 864.5 205.8 864.5C206.8 864.5 207.8 864.6 208.8 864.6C209.8 864.6 210.8 864.6 211.8 864.6C212.8 864.6 213.8 864.6 214.8 864.6C215.8 864.7 216.8 864.7 217.8 864.7C218.8 864.7 219.8 864.7 220.8 864.7C221.8 864.7 222.8 864.7 223.8 864.7C224.8 864.7 225.8 864.7 226.8 864.8C227.8 864.8 228.8 864.8 229.8 864.8C230.8 864.8 231.8 864.8 232.8 864.8C233.8 864.8 234.8 864.8 235.8 864.8C236.8 864.8 237.8 864.9 238.8 864.9C239.8 864.9 240.8 864.9 241.8 864.9C242.8 864.9 243.8 864.9 244.8 864.9C245.8 864.9 246.8 864.9 247.8 864.9C248.8 864.9 249.8 865.0 250.8 865.0C251.8 865.0 252.8 865.0 253.8 865.0C254.8 865.0 255.8 865.0 256.8 865.0C257.8 865.0 258.8 865.0 259.8 865.0C260.8 865.1 261.8 865.1 262.8 865.1C263.8 865.1 264.8 865.1 265.8 865.1C266.8 865.1 267.8 865.1 268.8 865.2C269.8 865.2 270.8 865.2 271.8 865.2C272.8 865.2 273.8 865.2 274.8 865.2C275.8 865.2 276.8 865.3 277.8 865.3C278.8 865.3 279.8 865.3 280.8 865.3C281.8 865.3 282.8 865.4 283.8 865.4C284.8 865.4 285.8 865.4 286.8 865.4C287.8 865.4 288.8 865.4 289.8 865.5C290.8 865.5 291.8 865.5 292.8 865.5C293.8 865.5 294.8 865.5 295.8 865.6C296.8 865.6 297.8 865.6 298.8 865.6C299.8 865.6 300.8 865.6 301.8 865.7C302.8 865.7 303.8 865.7 304.8 865.7C305.8 865.7 306.8 865.7 307.8 865.7C308.8 865.8 309.8 865.8 310.8 865.8C311.8 865.8 312.8 865.8 313.8 865.8C314.8 865.8 315.8 865.9 316.8 865.9C317.8 865.9 318.8 865.9 319.8 865.9C320.8 865.9 321.8 865.9 322.8 865.9C323.8 866.0 324.8 866.0 325.8 866.0C326.8 866.0 327.8 866.0 328.8 866.0C329.8 866.0 330.8 866.0 331.8 866.0C332.8 866.0 333.8 866.1 334.8 866.1C335.8 866.1 336.8 866.1 337.8 866.1C338.8 866.1 339.8 866.1 340.8 866.1C341.8 866.1 342.8 866.1 343.8 866.1C344.8 866.1 345.8 866.1 346.8 866.1C347.8 866.1 348.8 866.1 349.8 866.1C350.8 866.1 351.8 866.0 352.8 866.0C353.8 866.0 354.8 866.0 355.8 866.0C356.8 865.9 357.8 865.9 358.8 865.9C359.8 865.8 360.8 865.8 361.8 865.7C362.8 865.7 363.8 865.7 364.8 865.6C365.8 865.6 366.8 865.5 367.8 865.5C368.8 865.5 369.8 865.4 370.8 865.4C371.8 865.3 372.8 865.3 373.8 865.2C374.8 865.2 375.8 865.2 376.8 865.1C377.8 865.1 378.8 865.1 379.8 865.0C380.8 865.0 381.8 865.0 382.8 865.0C383.8 864.9 384.8 864.9 385.8 864.9C386.8 864.9 387.8 864.9 388.8 864.9C389.8 864.9 390.8 864.9 391.8 864.9C392.8 864.9 393.8 865.0 394.8 865.0C395.8 865.0 396.8 865.0 397.8 865.0C398.8 865.1 399.8 865.1 400.8 865.1C401.8 865.2 402.8 865.2 403.8 865.2C404.8 865.3 405.8 865.3 406.8 865.3C407.8 865.4 408.8 865.4 409.8 865.5C410.8 865.5 411.8 865.6 412.8 865.6C413.8 865.7 414.8 865.7 415.8 865.8C416.8 865.8 417.8 865.9 418.8 865.9C419.8 866.0 420.8 866.0 421.8 866.1C422.8 866.1 423.8 866.2 424.8 866.2C425.8 866.3 426.8 866.4 427.8 866.4C428.8 866.5 429.8 866.5 430.8 866.6C431.8 866.6 432.8 866.7 433.8 866.7C434.8 866.8 435.8 866.8 436.8 866.9C437.8 866.9 438.8 867.0 439.8 867.1C440.8 867.1 441.8 867.2 442.8 867.2C443.8 867.3 444.8 867.4 445.8 867.4C446.8 867.5 447.8 867.6 448.8 867.6C449.8 867.7 450.8 867.8 451.8 867.9C452.8 867.9 453.8 868.0 454.8 868.1C455.8 868.2 456.8 868.3 457.8 868.4C458.8 868.4 459.8 868.5 460.8 868.6C461.8 868.7 462.8 868.8 463.8 868.9C464.8 869.0 465.8 869.1 466.8 869.2C467.8 869.3 468.8 869.4 469.8 869.5C470.8 869.7 471.8 869.8 472.8 869.9C473.8 870.0 474.8 870.1 475.8 870.2C476.8 870.4 477.8 870.5 478.8 870.6C479.8 870.7 480.8 870.9 481.8 871.0C482.8 871.1 483.8 871.3 484.8 871.4C485.8 871.5 486.8 871.7 487.8 871.8C488.8 871.9 489.8 872.1 490.8 872.2C491.8 872.3 492.8 872.5 493.8 872.6C494.8 872.8 495.8 872.9 496.8 873.1C497.8 873.3 498.8 873.4 499.8 873.6C500.8 873.8 501.8 873.9 502.8 874.1C503.8 874.3 504.8 874.5 505.8 874.7C506.8 874.9 507.8 875.1 508.8 875.3C509.8 875.5 510.8 875.7 511.8 876.0C512.8 876.2 513.8 876.5 514.8 876.8C515.8 877.1 516.8 877.4 517.8 877.7C518.8 877.9 519.8 878.2 520.8 878.5C521.8 878.7 522.8 879.0 523.8 879.2C524.8 879.5 525.8 879.7 526.8 880.0C527.8 880.2 528.8 880.5 529.8 880.8C530.8 881.1 531.8 881.4 532.8 881.7C533.8 882.1 534.8 882.4 535.8 882.7C536.8 883.0 537.8 883.3 538.8 883.6C539.8 883.9 540.8 884.2 541.8 884.5C542.8 884.8 543.8 885.2 544.8 885.6C545.8 886.0 546.8 886.4 547.8 886.9C548.8 887.4 549.8 887.9 550.8 888.5C551.8 889.0 552.8 889.7 553.8 890.4C554.8 891.1 555.8 891.9 556.8 892.8C557.8 893.6 558.8 894.5 559.8 895.4C560.8 896.2 561.8 897.1 562.8 898.1C563.8 899.0 564.8 899.9 565.8 900.9C566.8 901.9 567.8 903.0 568.8 904.3C569.8 905.7 570.8 907.4 571.8 909.0C572.8 910.6 573.8 912.4 574.8 914.0C575.8 915.6 576.8 916.8 577.8 918.7C578.8 920.5 579.8 922.6 580.8 925.2C581.8 927.7 582.8 931.0 583.8 934.0C584.8 936.9 585.8 940.0 586.8 942.9C587.8 945.8 588.8 948.5 589.8 951.2C590.8 954.0 591.8 956.6 592.8 959.2C593.8 961.8 594.8 964.4 595.8 966.8C596.8 969.3 597.8 971.7 598.8 973.9C599.8 976.1 600.8 978.3 601.8 980.1C602.8 981.9 603.8 983.7 604.8 984.8C605.8 985.9 606.8 986.4 607.8 986.4C608.8 986.4 609.8 985.3 610.8 984.1C611.8 983.0 612.8 981.2 613.8 979.5C614.8 977.9 615.8 976.1 616.8 974.2C617.8 972.3 618.8 970.3 619.8 968.2C620.8 966.2 621.8 963.8 622.8 961.8C623.8 959.8 624.8 957.6 625.8 956.0C626.8 954.3 627.8 953.0 628.8 951.9C629.8 950.8 630.8 949.9 631.8 949.4C632.8 948.8 633.8 948.6 634.8 948.6C635.8 948.6 636.8 949.0 637.8 949.7C638.8 950.4 639.8 951.4 640.8 952.6C641.8 953.8 642.8 955.3 643.8 957.1C644.8 958.9 645.8 960.8 646.8 963.3C647.8 965.7 648.8 968.6 649.8 971.8C650.8 975.0 651.8 978.8 652.8 982.4C653.8 986.1 654.8 989.9 655.8 993.7C656.8 997.5 657.8 1001.5 658.8 1005.3C659.8 1009.1 660.8 1013.0 661.8 1016.7C662.8 1020.5 663.8 1024.2 664.8 1028.0C665.8 1031.7 666.8 1035.8 667.8 1039.4C668.8 1043.0 669.8 1046.5 670.8 1049.7C671.8 1052.8 672.8 1055.6 673.8 1058.3C674.8 1061.1 675.8 1063.6 676.8 1066.1C677.8 1068.6 678.8 1071.0 679.8 1073.2C680.8 1075.3 681.8 1077.4 682.8 1078.9C683.8 1080.5 684.8 1081.8 685.8 1082.7C686.8 1083.6 687.8 1084.2 688.8 1084.5C689.8 1084.8 690.8 1084.7 691.8 1084.7C692.8 1084.7 693.8 1084.1 694.8 1083.7C695.8 1083.3 696.8 1082.7 697.8 1082.1C698.8 1081.6 699.8 1081.0 700.8 1080.4C701.8 1079.8 702.8 1079.1 703.8 1078.4C704.8 1077.8 705.8 1077.1 706.8 1076.6C707.8 1076.0 708.8 1075.6 709.8 1075.3C710.8 1074.9 711.8 1074.8 712.8 1074.6C713.8 1074.5 714.8 1074.5 715.8 1074.5C716.8 1074.5 717.8 1074.7 718.8 1075.0C719.8 1075.3 720.8 1075.7 721.8 1076.1C722.8 1076.6 723.8 1077.2 724.8 1077.8C725.8 1078.4 726.8 1079.1 727.8 1079.9C728.8 1080.6 729.8 1081.4 730.8 1082.4C731.8 1083.3 732.8 1084.3 733.8 1085.3C734.8 1086.3 735.8 1087.4 736.8 1088.5C737.8 1089.6 738.8 1090.6 739.8 1091.7C740.8 1092.7 741.8 1093.8 742.8 1094.8C743.8 1095.8 744.8 1096.9 745.8 1097.8C746.8 1098.7 747.8 1099.6 748.8 1100.4C749.8 1101.2 750.8 1102.0 751.8 1102.7C752.8 1103.4 753.8 1104.1 754.8 1104.6C755.8 1105.1 756.8 1105.6 757.8 1105.8C758.8 1106.1 759.8 1106.3 760.8 1106.3C761.8 1106.3 762.8 1106.3 763.8 1105.9C764.8 1105.5 765.8 1104.8 766.8 1103.8C767.8 1102.7 768.8 1101.2 769.8 1099.5C770.8 1097.7 771.8 1095.6 772.8 1093.2C773.8 1090.8 774.8 1087.9 775.8 1084.9C776.8 1081.9 777.8 1078.6 778.8 1075.3C779.8 1072.1 780.8 1068.7 781.8 1065.4C782.8 1062.0 783.8 1058.6 784.8 1055.2C785.8 1051.7 786.8 1048.3 787.8 1044.8C788.8 1041.3 789.8 1037.7 790.8 1034.3C791.8 1030.8 792.8 1027.4 793.8 1024.0C794.8 1020.7 795.8 1017.4 796.8 1014.1C797.8 1010.7 798.8 1007.4 799.8 1004.0C800.8 1000.7 801.8 997.2 802.8 993.9C803.8 990.6 804.8 987.2 805.8 984.2C806.8 981.1 807.8 978.3 808.8 975.6C809.8 973.0 810.8 970.5 811.8 968.3C812.8 966.1 813.8 964.1 814.8 962.2C815.8 960.3 816.8 958.6 817.8 956.9C818.8 955.3 819.8 953.9 820.8 952.5C821.8 951.2 822.8 949.9 823.8 948.9C824.8 947.8 825.8 946.8 826.8 946.1C827.8 945.3 828.8 944.7 829.8 944.2C830.8 943.8 831.8 943.5 832.8 943.5C833.8 943.5 834.8 943.5 835.8 943.7C836.8 944.0 837.8 944.3 838.8 944.8C839.8 945.3 840.8 945.9 841.8 946.8C842.8 947.7 843.8 948.9 844.8 950.0C845.8 951.1 846.8 952.4 847.8 953.5C848.8 954.7 849.8 955.8 850.8 957.0C851.8 958.3 852.8 959.7 853.8 961.2C854.8 962.7 855.8 964.5 856.8 966.3C857.8 968.0 858.8 969.9 859.8 971.9C860.8 973.9 861.8 975.9 862.8 978.0C863.8 980.1 864.8 982.3 865.8 984.5C866.8 986.7 867.8 988.9 868.8 991.1C869.8 993.4 870.8 995.5 871.8 997.8C872.8 1000.0 873.8 1002.3 874.8 1004.6C875.8 1006.9 876.8 1009.3 877.8 1011.6C878.8 1013.9 879.8 1015.9 880.8 1018.2C881.8 1020.4 882.8 1022.7 883.8 1025.1C884.8 1027.6 885.8 1030.3 886.8 1033.1C887.8 1035.8 888.8 1038.8 889.8 1041.6C890.8 1044.4 891.8 1047.4 892.8 1049.9C893.8 1052.3 894.8 1054.4 895.8 1056.3C896.8 1058.3 897.8 1059.8 898.8 1061.4C899.8 1062.9 900.8 1064.3 901.8 1065.6C902.8 1066.9 903.8 1068.1 904.8 1069.2C905.8 1070.3 906.8 1071.4 907.8 1072.3C908.8 1073.2 909.8 1074.2 910.8 1074.9C911.8 1075.6 912.8 1076.3 913.8 1076.6C914.8 1076.9 915.8 1076.9 916.8 1076.9C917.8 1076.9 918.8 1076.5 919.8 1076.0C920.8 1075.6 921.8 1075.0 922.8 1074.3C923.8 1073.7 924.8 1073.0 925.8 1072.2C926.8 1071.4 927.8 1070.5 928.8 1069.5C929.8 1068.6 930.8 1067.5 931.8 1066.4C932.8 1065.4 933.8 1064.2 934.8 1063.1C935.8 1061.9 936.8 1060.7 937.8 1059.4C938.8 1058.2 939.8 1056.9 940.8 1055.4C941.8 1054.0 942.8 1052.5 943.8 1050.9C944.8 1049.3 945.8 1047.5 946.8 1045.8C947.8 1044.0 948.8 1042.1 949.8 1040.2C950.8 1038.3 951.8 1036.4 952.8 1034.5C953.8 1032.5 954.8 1030.6 955.8 1028.6C956.8 1026.6 957.8 1024.5 958.8 1022.3C959.8 1020.1 960.8 1017.7 961.8 1015.2C962.8 1012.7 963.8 1009.9 964.8 1007.1C965.8 1004.4 966.8 1001.5 967.8 998.7C968.8 996.0 969.8 993.3 970.8 990.7C971.8 988.2 972.8 985.8 973.8 983.4C974.8 981.0 975.8 978.8 976.8 976.5C977.8 974.2 978.8 972.0 979.8 969.7C980.8 967.5 981.8 965.3 982.8 963.1C983.8 960.9 984.8 958.7 985.8 956.5C986.8 954.2 987.8 952.0 988.8 949.8C989.8 947.6 990.8 945.3 991.8 943.0C992.8 940.8 993.8 938.5 994.8 936.3C995.8 934.2 996.8 932.1 997.8 930.1C998.8 928.2 999.8 926.4 1000.8 924.7C1001.8 922.9 1002.8 921.3 1003.8 919.7C1004.8 918.1 1005.8 916.5 1006.8 915.1C1007.8 913.7 1008.8 912.2 1009.8 911.1C1010.8 909.9 1011.8 908.9 1012.8 908.0C1013.8 907.0 1014.8 906.3 1015.8 905.4C1016.8 904.5 1017.8 903.6 1018.8 902.7C1019.8 901.8 1020.8 900.9 1021.8 900.0C1022.8 899.1 1023.8 898.3 1024.8 897.5C1025.8 896.7 1026.8 896.0 1027.8 895.3C1028.8 894.6 1029.8 893.9 1030.8 893.2C1031.8 892.5 1032.8 891.9 1033.8 891.3C1034.8 890.6 1035.8 890.0 1036.8 889.4C1037.8 888.8 1038.8 888.2 1039.8 887.6C1040.8 887.0 1041.8 886.4 1042.8 885.8C1043.8 885.3 1044.8 884.7 1045.8 884.2C1046.8 883.7 1047.8 883.1 1048.8 882.6C1049.8 882.1 1050.8 881.6 1051.8 881.2C1052.8 880.7 1053.8 880.2 1054.8 879.8C1055.8 879.3 1056.8 878.9 1057.8 878.5C1058.8 878.1 1059.8 877.7 1060.8 877.3C1061.8 876.9 1062.8 876.5 1063.8 876.1C1064.8 875.7 1065.8 875.4 1066.8 875.0C1067.8 874.7 1068.8 874.3 1069.8 874.0C1070.8 873.6 1071.8 873.3 1072.8 873.0C1073.8 872.7 1074.8 872.3 1075.8 872.0C1076.8 871.7 1077.8 871.4 1078.8 871.2C1079.8 870.9 1080.8 870.6 1081.8 870.4C1082.8 870.1 1083.8 869.9 1084.8 869.7C1085.8 869.5 1086.8 869.4 1087.8 869.2C1088.8 869.1 1089.8 868.9 1090.8 868.8C1091.8 868.6 1092.8 868.4 1093.8 868.3C1094.8 868.1 1095.8 868.0 1096.8 867.8C1097.8 867.6 1098.8 867.5 1099.8 867.3C1100.8 867.1 1101.8 867.0 1102.8 866.8C1103.8 866.6 1104.8 866.5 1105.8 866.3C1106.8 866.1 1107.8 866.0 1108.8 865.8C1109.8 865.7 1110.8 865.5 1111.8 865.3C1112.8 865.2 1113.8 865.0 1114.8 864.9C1115.8 864.7 1116.8 864.6 1117.8 864.5C1118.8 864.3 1119.8 864.2 1120.8 864.1C1121.8 863.9 1122.8 863.8 1123.8 863.7C1124.8 863.6 1125.8 863.5 1126.8 863.4C1127.8 863.3 1128.8 863.2 1129.8 863.1C1130.8 863.0 1131.8 862.9 1132.8 862.9C1133.8 862.8 1134.8 862.7 1135.8 862.7C1136.8 862.6 1137.8 862.6 1138.8 862.5C1139.8 862.5 1140.8 862.4 1141.8 862.4C1142.8 862.3 1143.8 862.3 1144.8 862.3C1145.8 862.2 1146.8 862.2 1147.8 862.2C1148.8 862.1 1149.8 862.1 1150.8 862.1C1151.8 862.1 1152.8 862.0 1153.8 862.0C1154.8 862.0 1155.8 862.0 1156.8 862.0C1157.8 862.0 1158.8 861.9 1159.8 861.9C1160.8 861.9 1161.8 861.9 1162.8 861.9C1163.8 861.9 1164.8 861.9 1165.8 861.9C1166.8 861.9 1167.8 861.9 1168.8 861.9C1169.8 861.9 1170.8 861.9 1171.8 861.9C1172.8 861.9 1173.8 861.9 1174.8 861.9C1175.8 861.9 1176.8 861.9 1177.8 861.9C1178.8 861.9 1179.8 861.9 1180.8 861.9C1181.8 861.9 1182.8 861.9 1183.8 861.9C1184.8 861.9 1185.8 861.9 1186.8 861.9C1187.8 861.9 1188.8 861.9 1189.8 862.0C1190.8 862.0 1191.8 862.0 1192.8 862.0C1193.8 862.0 1194.8 862.0 1195.8 862.0C1196.8 862.0 1197.8 862.0 1198.8 862.1C1199.8 862.1 1200.8 862.1 1201.8 862.1C1202.8 862.1 1203.8 862.1 1204.8 862.1C1205.8 862.1 1206.8 862.1 1207.8 862.1C1208.8 862.1 1209.8 862.2 1210.8 862.2C1211.8 862.2 1212.8 862.2 1213.8 862.2C1214.8 862.2 1215.8 862.2 1216.8 862.2C1217.8 862.2 1218.8 862.2 1219.8 862.2C1220.8 862.2 1221.8 862.2 1222.8 862.2C1223.8 862.2 1224.8 862.2 1225.8 862.2C1226.8 862.2 1227.8 862.2 1228.8 862.2C1229.8 862.2 1230.8 862.3 1231.8 862.3C1232.8 862.3 1233.8 862.3 1234.8 862.3C1235.8 862.3 1236.8 862.3 1237.8 862.4C1238.8 862.4 1239.8 862.4 1240.8 862.4C1241.8 862.4 1242.8 862.5 1243.8 862.5C1244.8 862.5 1245.8 862.5 1246.8 862.5C1247.8 862.6 1248.8 862.6 1249.8 862.6C1250.8 862.6 1251.8 862.7 1252.8 862.7C1253.8 862.7 1254.8 862.7 1255.8 862.7C1256.8 862.8 1257.8 862.8 1258.8 862.8C1259.8 862.8 1260.8 862.9 1261.8 862.9C1262.8 862.9 1263.8 862.9 1264.8 863.0C1265.8 863.0 1266.8 863.0 1267.8 863.0C1268.8 863.1 1269.8 863.1 1270.8 863.1C1271.8 863.1 1272.8 863.1 1273.8 863.2C1274.8 863.2 1275.8 863.2 1276.8 863.2C1277.8 863.2 1278.8 863.3 1279.8 863.3C1280.8 863.3 1281.8 863.3 1282.8 863.3C1283.8 863.3 1284.8 863.3 1285.8 863.3C1286.8 863.4 1287.8 863.4 1288.8 863.4C1289.8 863.4 1290.8 863.4 1291.8 863.4C1292.8 863.4 1293.8 863.4 1294.8 863.4C1295.8 863.4 1296.8 863.4 1297.8 863.4C1298.8 863.4 1299.8 863.4 1300.8 863.3C1301.8 863.3 1302.8 863.3 1303.8 863.3C1304.8 863.3 1305.8 863.2 1306.8 863.2C1307.8 863.2 1308.8 863.2 1309.8 863.1C1310.8 863.1 1311.8 863.1 1312.8 863.0C1313.8 863.0 1314.8 863.0 1315.8 862.9C1316.8 862.9 1317.8 862.9 1318.8 862.8C1319.8 862.8 1320.8 862.7 1321.8 862.7C1322.8 862.7 1323.8 862.6 1324.8 862.6C1325.8 862.6 1326.8 862.5 1327.8 862.5C1328.8 862.5 1329.8 862.4 1330.8 862.4C1331.8 862.4 1332.8 862.4 1333.8 862.3C1334.8 862.3 1335.8 862.3 1336.8 862.3C1337.8 862.3 1338.8 862.2 1339.8 862.2C1340.8 862.2 1341.8 862.2 1342.8 862.2C1343.8 862.2 1344.8 862.2 1345.8 862.3C1346.8 862.3 1347.8 862.3 1348.8 862.4C1349.8 862.5 1350.8 862.6 1351.8 862.7C1352.8 862.8 1353.8 862.9 1354.8 863.0C1355.8 863.1 1356.8 863.2 1357.8 863.3C1358.8 863.4 1359.8 863.5 1360.8 863.6C1361.8 863.7 1362.8 863.8 1363.8 863.9C1364.8 864.0 1365.8 864.0 1366.8 864.0C1367.8 864.1 1368.8 864.1 1369.8 864.1C1370.8 864.1 1371.8 864.0 1372.8 863.9C1373.8 863.9 1374.8 863.8 1375.8 863.7C1376.8 863.6 1377.8 863.5 1378.8 863.4C1379.8 863.3 1380.8 863.2 1381.8 863.0C1382.8 862.9 1383.8 862.8 1384.8 862.6C1385.8 862.5 1386.8 862.4 1387.8 862.2C1388.8 862.1 1389.8 862.0 1390.8 861.8C1391.8 861.7 1392.8 861.6 1393.8 861.5C1394.8 861.4 1395.8 861.3 1396.8 861.2C1397.8 861.1 1398.8 861.1 1399.8 861.0C1400.8 861.0 1401.8 860.9 1402.8 860.9C1403.8 860.9 1404.8 860.9 1405.8 860.9C1406.8 861.0 1407.8 861.0 1408.8 861.0C1409.8 861.1 1410.8 861.1 1411.8 861.2C1412.8 861.2 1413.8 861.3 1414.8 861.4C1415.8 861.4 1416.8 861.5 1417.8 861.6C1418.8 861.7 1419.8 861.8 1420.8 861.9C1421.8 862.0 1422.8 862.1 1423.8 862.2C1424.8 862.4 1425.8 862.5 1426.8 862.6C1427.8 862.7 1428.8 862.9 1429.8 863.0C1430.8 863.2 1431.8 863.3 1432.8 863.5C1433.8 863.7 1434.8 863.9 1435.8 864.1C1436.8 864.3 1437.8 864.6 1438.8 864.8C1439.8 865.1 1440.8 865.4 1441.8 865.6C1442.8 865.9 1443.8 866.2 1444.8 866.5C1445.8 866.8 1446.8 867.0 1447.8 867.3C1448.8 867.5 1449.8 867.8 1450.8 868.0C1451.8 868.2 1452.8 868.3 1453.8 868.4C1454.8 868.5 1455.8 868.5 1456.8 868.5C1457.8 868.5 1458.8 868.5 1459.8 868.5C1460.8 868.5 1461.8 868.5 1462.8 868.4C1463.8 868.4 1464.8 868.4 1465.8 868.4C1466.8 868.3 1467.8 868.3 1468.8 868.3C1469.8 868.3 1470.8 868.4 1471.8 868.5C1472.8 868.5 1473.8 868.6 1474.8 868.8C1475.8 869.0 1476.8 869.2 1477.8 869.5C1478.8 869.8 1479.8 870.2 1480.8 870.8C1481.8 871.4 1482.8 872.1 1483.8 873.0C1484.8 873.9 1485.8 874.9 1486.8 876.1C1487.8 877.4 1488.8 878.8 1489.8 880.4C1490.8 881.9 1491.8 883.8 1492.8 885.7C1493.8 887.6 1494.8 889.7 1495.8 892.0C1496.8 894.2 1497.8 896.5 1498.8 898.9C1499.8 901.3 1500.8 903.9 1501.8 906.4C1502.8 909.0 1503.8 911.6 1504.8 914.1C1505.8 916.7 1506.8 919.3 1507.8 921.8C1508.8 924.3 1509.8 926.8 1510.8 929.1C1511.8 931.5 1512.8 933.8 1513.8 935.9C1514.8 938.0 1515.8 940.0 1516.8 941.8C1517.8 943.5 1518.8 945.1 1519.8 946.5C1520.8 947.8 1521.8 948.9 1522.8 949.9C1523.8 950.9 1524.8 951.7 1525.8 952.3C1526.8 952.9 1527.8 953.6 1528.8 953.6C1529.8 953.6 1530.8 953.8 1531.8 953.5C1532.8 953.3 1533.8 952.8 1534.8 952.0C1535.8 951.2 1536.8 950.2 1537.8 948.7C1538.8 947.1 1539.8 945.2 1540.8 942.9C1541.8 940.6 1542.8 937.7 1543.8 934.8C1544.8 932.0 1545.8 928.8 1546.8 925.8C1547.8 922.7 1548.8 919.6 1549.8 916.6C1550.8 913.6 1551.8 910.5 1552.8 907.5C1553.8 904.5 1554.8 901.5 1555.8 898.7C1556.8 895.8 1557.8 892.9 1558.8 890.3C1559.8 887.7 1560.8 885.3 1561.8 883.2C1562.8 881.2 1563.8 879.5 1564.8 877.9C1565.8 876.3 1566.8 875.1 1567.8 873.9C1568.8 872.7 1569.8 871.7 1570.8 870.7C1571.8 869.8 1572.8 869.0 1573.8 868.2C1574.8 867.5 1575.8 866.8 1576.8 866.2C1577.8 865.6 1578.8 865.1 1579.8 864.7C1580.8 864.3 1581.8 864.0 1582.8 863.8C1583.8 863.6 1584.8 863.5 1585.8 863.5C1586.8 863.5 1587.8 863.5 1588.8 863.5C1589.8 863.5 1590.8 863.6 1591.8 863.7C1592.8 863.8 1593.8 863.9 1594.8 864.1C1595.8 864.2 1596.8 864.5 1597.8 864.7C1598.8 865.0 1599.8 865.3 1600.8 865.6C1601.8 865.9 1602.8 866.3 1603.8 866.7C1604.8 867.1 1605.8 867.6 1606.8 868.1C1607.8 868.6 1608.8 869.2 1609.8 869.8C1610.8 870.5 1611.8 871.2 1612.8 872.1C1613.8 872.9 1614.8 873.8 1615.8 874.8C1616.8 875.8 1617.8 876.9 1618.8 878.1C1619.8 879.3 1620.8 880.6 1621.8 882.1C1622.8 883.6 1623.8 885.2 1624.8 886.9C1625.8 888.6 1626.8 890.5 1627.8 892.2C1628.8 894.0 1629.8 895.8 1630.8 897.6C1631.8 899.4 1632.8 901.2 1633.8 902.8C1634.8 904.5 1635.8 906.1 1636.8 907.4C1637.8 908.8 1638.8 909.9 1639.8 910.9C1640.8 911.8 1641.8 912.6 1642.8 913.2C1643.8 913.7 1644.8 914.0 1645.8 914.0C1646.8 914.0 1647.8 913.6 1648.8 913.0C1649.8 912.5 1650.8 911.6 1651.8 910.8C1652.8 909.9 1653.8 909.0 1654.8 908.1C1655.8 907.2 1656.8 906.4 1657.8 905.5C1658.8 904.6 1659.8 903.6 1660.8 902.8C1661.8 902.0 1662.8 901.2 1663.8 900.7C1664.8 900.1 1665.8 899.7 1666.8 899.7C1667.8 899.7 1668.8 899.8 1669.8 900.2C1670.8 900.6 1671.8 901.3 1672.8 902.1C1673.8 902.9 1674.8 903.8 1675.8 904.9C1676.8 906.0 1677.8 907.2 1678.8 908.6C1679.8 910.1 1680.8 911.8 1681.8 913.3C1682.8 914.9 1683.8 916.7 1684.8 918.2C1685.8 919.7 1686.8 921.2 1687.8 922.5C1688.8 923.8 1689.8 925.1 1690.8 926.1C1691.8 927.0 1692.8 927.9 1693.8 928.3C1694.8 928.7 1695.8 928.6 1696.8 928.6C1697.8 928.6 1698.8 927.9 1699.8 927.1C1700.8 926.3 1701.8 925.3 1702.8 923.8C1703.8 922.4 1704.8 920.4 1705.8 918.3C1706.8 916.1 1707.8 913.2 1708.8 910.8C1709.8 908.4 1710.8 905.9 1711.8 903.9C1712.8 901.9 1713.8 900.3 1714.8 898.6C1715.8 897.0 1716.8 895.5 1717.8 894.1C1718.8 892.8 1719.8 891.6 1720.8 890.6C1721.8 889.6 1722.8 888.9 1723.8 888.3C1724.8 887.7 1725.8 887.3 1726.8 887.1C1727.8 886.8 1728.8 886.7 1729.8 886.7C1730.8 886.7 1731.8 886.9 1732.8 887.2C1733.8 887.4 1734.8 887.8 1735.8 888.2C1736.8 888.6 1737.8 889.2 1738.8 889.7C1739.8 890.2 1740.8 890.7 1741.8 891.3C1742.8 891.9 1743.8 892.5 1744.8 893.1C1745.8 893.8 1746.8 894.5 1747.8 895.2C1748.8 895.9 1749.8 896.6 1750.8 897.3C1751.8 898.1 1752.8 898.8 1753.8 899.6C1754.8 900.3 1755.8 901.1 1756.8 901.9C1757.8 902.6 1758.8 903.5 1759.8 904.2C1760.8 905.0 1761.8 905.9 1762.8 906.6C1763.8 907.4 1764.8 908.1 1765.8 908.7C1766.8 909.3 1767.8 909.8 1768.8 910.2C1769.8 910.6 1770.8 910.9 1771.8 911.2C1772.8 911.5 1773.8 911.7 1774.8 911.9C1775.8 912.1 1776.8 912.2 1777.8 912.3C1778.8 912.3 1779.8 912.3 1780.8 912.3C1781.8 912.3 1782.8 912.1 1783.8 911.9C1784.8 911.7 1785.8 911.5 1786.8 911.2C1787.8 910.9 1788.8 910.6 1789.8 910.2C1790.8 909.9 1791.8 909.5 1792.8 909.1C1793.8 908.7 1794.8 908.3 1795.8 907.9C1796.8 907.4 1797.8 906.9 1798.8 906.4C1799.8 905.9 1800.8 905.3 1801.8 904.7C1802.8 904.1 1803.8 903.5 1804.8 902.9C1805.8 902.4 1806.8 901.8 1807.8 901.4C1808.8 901.0 1809.8 900.6 1810.8 900.3C1811.8 900.1 1812.8 900.0 1813.8 900.0C1814.8 900.0 1815.8 900.2 1816.8 900.4C1817.8 900.6 1818.8 900.9 1819.8 901.2C1820.8 901.5 1821.8 901.9 1822.8 902.2C1823.8 902.6 1824.8 902.9 1825.8 903.2C1826.8 903.6 1827.8 903.9 1828.8 904.3C1829.8 904.6 1830.8 905.0 1831.8 905.4C1832.8 905.7 1833.8 906.0 1834.8 906.2C1835.8 906.4 1836.8 906.6 1837.8 906.6C1838.8 906.6 1839.8 906.4 1840.8 906.1C1841.8 905.7 1842.8 905.2 1843.8 904.7C1844.8 904.1 1845.8 903.3 1846.8 902.5C1847.8 901.7 1848.8 900.7 1849.8 899.7C1850.8 898.6 1851.8 897.3 1852.8 896.1C1853.8 894.8 1854.8 893.4 1855.8 892.0C1856.8 890.7 1857.8 889.3 1858.8 888.0C1859.8 886.6 1860.8 885.3 1861.8 883.9C1862.8 882.6 1863.8 881.3 1864.8 880.0C1865.8 878.8 1866.8 877.6 1867.8 876.4C1868.8 875.3 1869.8 874.3 1870.8 873.2C1871.8 872.2 1872.8 871.3 1873.8 870.4C1874.8 869.5 1875.8 868.7 1876.8 867.9C1877.8 867.2 1878.8 866.6 1879.8 866.1C1880.8 865.6 1881.8 865.2 1882.8 864.8C1883.8 864.5 1884.8 864.3 1885.8 864.0C1886.8 863.8 1887.8 863.6 1888.8 863.4C1889.8 863.3 1890.8 863.1 1891.8 862.9C1892.8 862.8 1893.8 862.6 1894.8 862.5C1895.8 862.3 1896.8 862.2 1897.8 862.1C1898.8 861.9 1899.8 861.8 1900.8 861.8C1901.8 861.7 1902.8 861.7 1903.8 861.7C1904.8 861.7 1905.8 861.7 1906.8 861.7C1907.8 861.8 1908.8 861.9 1909.8 861.9C1910.8 862.0 1911.8 862.2 1912.8 862.3C1913.8 862.4 1914.8 862.6 1915.8 862.7C1916.8 862.8 1917.8 863.0 1918.8 863.1C1919.8 863.2 1920.8 863.3 1921.8 863.4C1922.8 863.6 1923.8 863.7 1924.8 863.8C1925.8 863.9 1926.8 864.0 1927.8 864.1C1928.8 864.2 1929.8 864.3 1930.8 864.4C1931.8 864.5 1932.8 864.6 1933.8 864.6C1934.8 864.7 1935.8 864.7 1936.8 864.7C1937.8 864.7 1938.8 864.7 1939.8 864.7C1940.8 864.7 1941.8 864.6 1942.8 864.5C1943.8 864.4 1944.8 864.3 1945.8 864.1C1946.8 864.0 1947.8 863.9 1948.8 863.7C1949.8 863.6 1950.8 863.4 1951.8 863.3C1952.8 863.2 1953.8 863.1 1954.8 863.0C1955.8 862.9 1956.8 862.8 1957.8 862.8C1958.8 862.7 1959.8 862.8 1960.8 862.8C1961.8 862.8 1962.8 862.8 1963.8 862.9C1964.8 862.9 1965.8 863.0 1966.8 863.1C1967.8 863.2 1968.8 863.2 1969.8 863.3C1970.1 863.3 1970.5 863.3 1970.8 863.3" fill="none" stroke="#000000" stroke-width="7" stroke-linejoin="round" stroke-linecap="butt"/>
<line x1="915.4" y1="389.1" x2="915.4" y2="1078.4" stroke="#000" stroke-width="7" stroke-linecap="round" stroke-dasharray="19.8 29.3" stroke-dashoffset="18.7"/>
<rect x="125.5" y="50.5" width="1849.0" height="1220.5" fill="none" stroke="#000" stroke-width="7"/>
<line x1="125.5" y1="1271.0" x2="125.5" y2="1298.0" stroke="#000" stroke-width="7" stroke-linecap="round"/>
<text x="125.5" y="1353.5" font-size="46" font-weight="bold" text-anchor="middle">1400</text>
<line x1="310.4" y1="1271.0" x2="310.4" y2="1283.5" stroke="#000" stroke-width="7" stroke-linecap="round"/>
<line x1="495.3" y1="1271.0" x2="495.3" y2="1298.0" stroke="#000" stroke-width="7" stroke-linecap="round"/>
<text x="495.3" y="1353.5" font-size="46" font-weight="bold" text-anchor="middle">1200</text>
<line x1="680.2" y1="1271.0" x2="680.2" y2="1283.5" stroke="#000" stroke-width="7" stroke-linecap="round"/>
<line x1="865.1" y1="1271.0" x2="865.1" y2="1298.0" stroke="#000" stroke-width="7" stroke-linecap="round"/>
<text x="865.1" y="1353.5" font-size="46" font-weight="bold" text-anchor="middle">1000</text>
<line x1="1050.0" y1="1271.0" x2="1050.0" y2="1283.5" stroke="#000" stroke-width="7" stroke-linecap="round"/>
<line x1="1234.9" y1="1271.0" x2="1234.9" y2="1298.0" stroke="#000" stroke-width="7" stroke-linecap="round"/>
<text x="1234.9" y="1353.5" font-size="46" font-weight="bold" text-anchor="middle">800</text>
<line x1="1419.8" y1="1271.0" x2="1419.8" y2="1283.5" stroke="#000" stroke-width="7" stroke-linecap="round"/>
<line x1="1604.7" y1="1271.0" x2="1604.7" y2="1298.0" stroke="#000" stroke-width="7" stroke-linecap="round"/>
<text x="1604.7" y="1353.5" font-size="46" font-weight="bold" text-anchor="middle">600</text>
<line x1="1789.6" y1="1271.0" x2="1789.6" y2="1283.5" stroke="#000" stroke-width="7" stroke-linecap="round"/>
<line x1="1974.5" y1="1271.0" x2="1974.5" y2="1298.0" stroke="#000" stroke-width="7" stroke-linecap="round"/>
<text x="1974.5" y="1353.5" font-size="46" font-weight="bold" text-anchor="middle">400</text>
<text transform="translate(793.0,1451) scale(0.9604,1)" font-size="67" font-weight="bold">Wavenumber/cm</text>
<text x="1267.3" y="1416.8" font-size="38" font-weight="bold">-1</text>
<text transform="translate(72,845.0) rotate(-90)" font-size="69.3" font-weight="bold">Transmittance</text>
<text x="150" y="137" font-size="71" font-weight="bold">Li<tspan font-size="48" font-style="italic" dy="27">x</tspan><tspan dy="-27">La</tspan><tspan font-size="48" font-style="italic" dy="27">y</tspan><tspan dy="-27">FePO</tspan><tspan font-size="48" dy="27">4</tspan></text>
<text x="148.5" y="259.6" font-size="53.5" font-weight="bold"><tspan font-style="italic">x</tspan>=0.90, <tspan font-style="italic">y</tspan>=0.10</text>
<text x="148.5" y="393.7" font-size="53.5" font-weight="bold"><tspan font-style="italic">x</tspan>=0.92, <tspan font-style="italic">y</tspan>=0.08</text>
<text x="152.4" y="529.6" font-size="53.5" font-weight="bold"><tspan font-style="italic">x</tspan>=0.94, <tspan font-style="italic">y</tspan>=0.06</text>
<text x="153.5" y="663.7" font-size="53.5" font-weight="bold"><tspan font-style="italic">x</tspan>=0.96, <tspan font-style="italic">y</tspan>=0.04</text>
<text x="149.2" y="802.9" font-size="53.5" font-weight="bold"><tspan font-style="italic">x</tspan>=0.98, <tspan font-style="italic">y</tspan>=0.02</text>
<text x="155.7" y="932.6" font-size="53.5" font-weight="bold"><tspan font-style="italic">x</tspan>=1.00, <tspan font-style="italic">y</tspan>=0.00</text>
<text transform="translate(585.3,1128.6) rotate(-90)" font-size="51.5">1139</text>
<text transform="translate(673.7,1227.9) rotate(-90)" font-size="51.5">1094</text>
<text transform="translate(762.4,1238.5) rotate(-90)" font-size="51.5">1057</text>
<text transform="translate(919.3,1194.2) rotate(-90)" font-size="51.5">972</text>
<text transform="translate(1538.5,1069.9) rotate(-90)" font-size="51.5">640</text>
<text transform="translate(1634.4,1030.1) rotate(-90)" font-size="51.5">578</text>
<text transform="translate(1697.3,1038.6) rotate(-90)" font-size="51.5">551</text>
<text transform="translate(1772.4,1017.8) rotate(-90)" font-size="51.5">505</text>
<text transform="translate(1852.6,1012.4) rotate(-90)" font-size="51.5">474</text>
</svg></body></html>
